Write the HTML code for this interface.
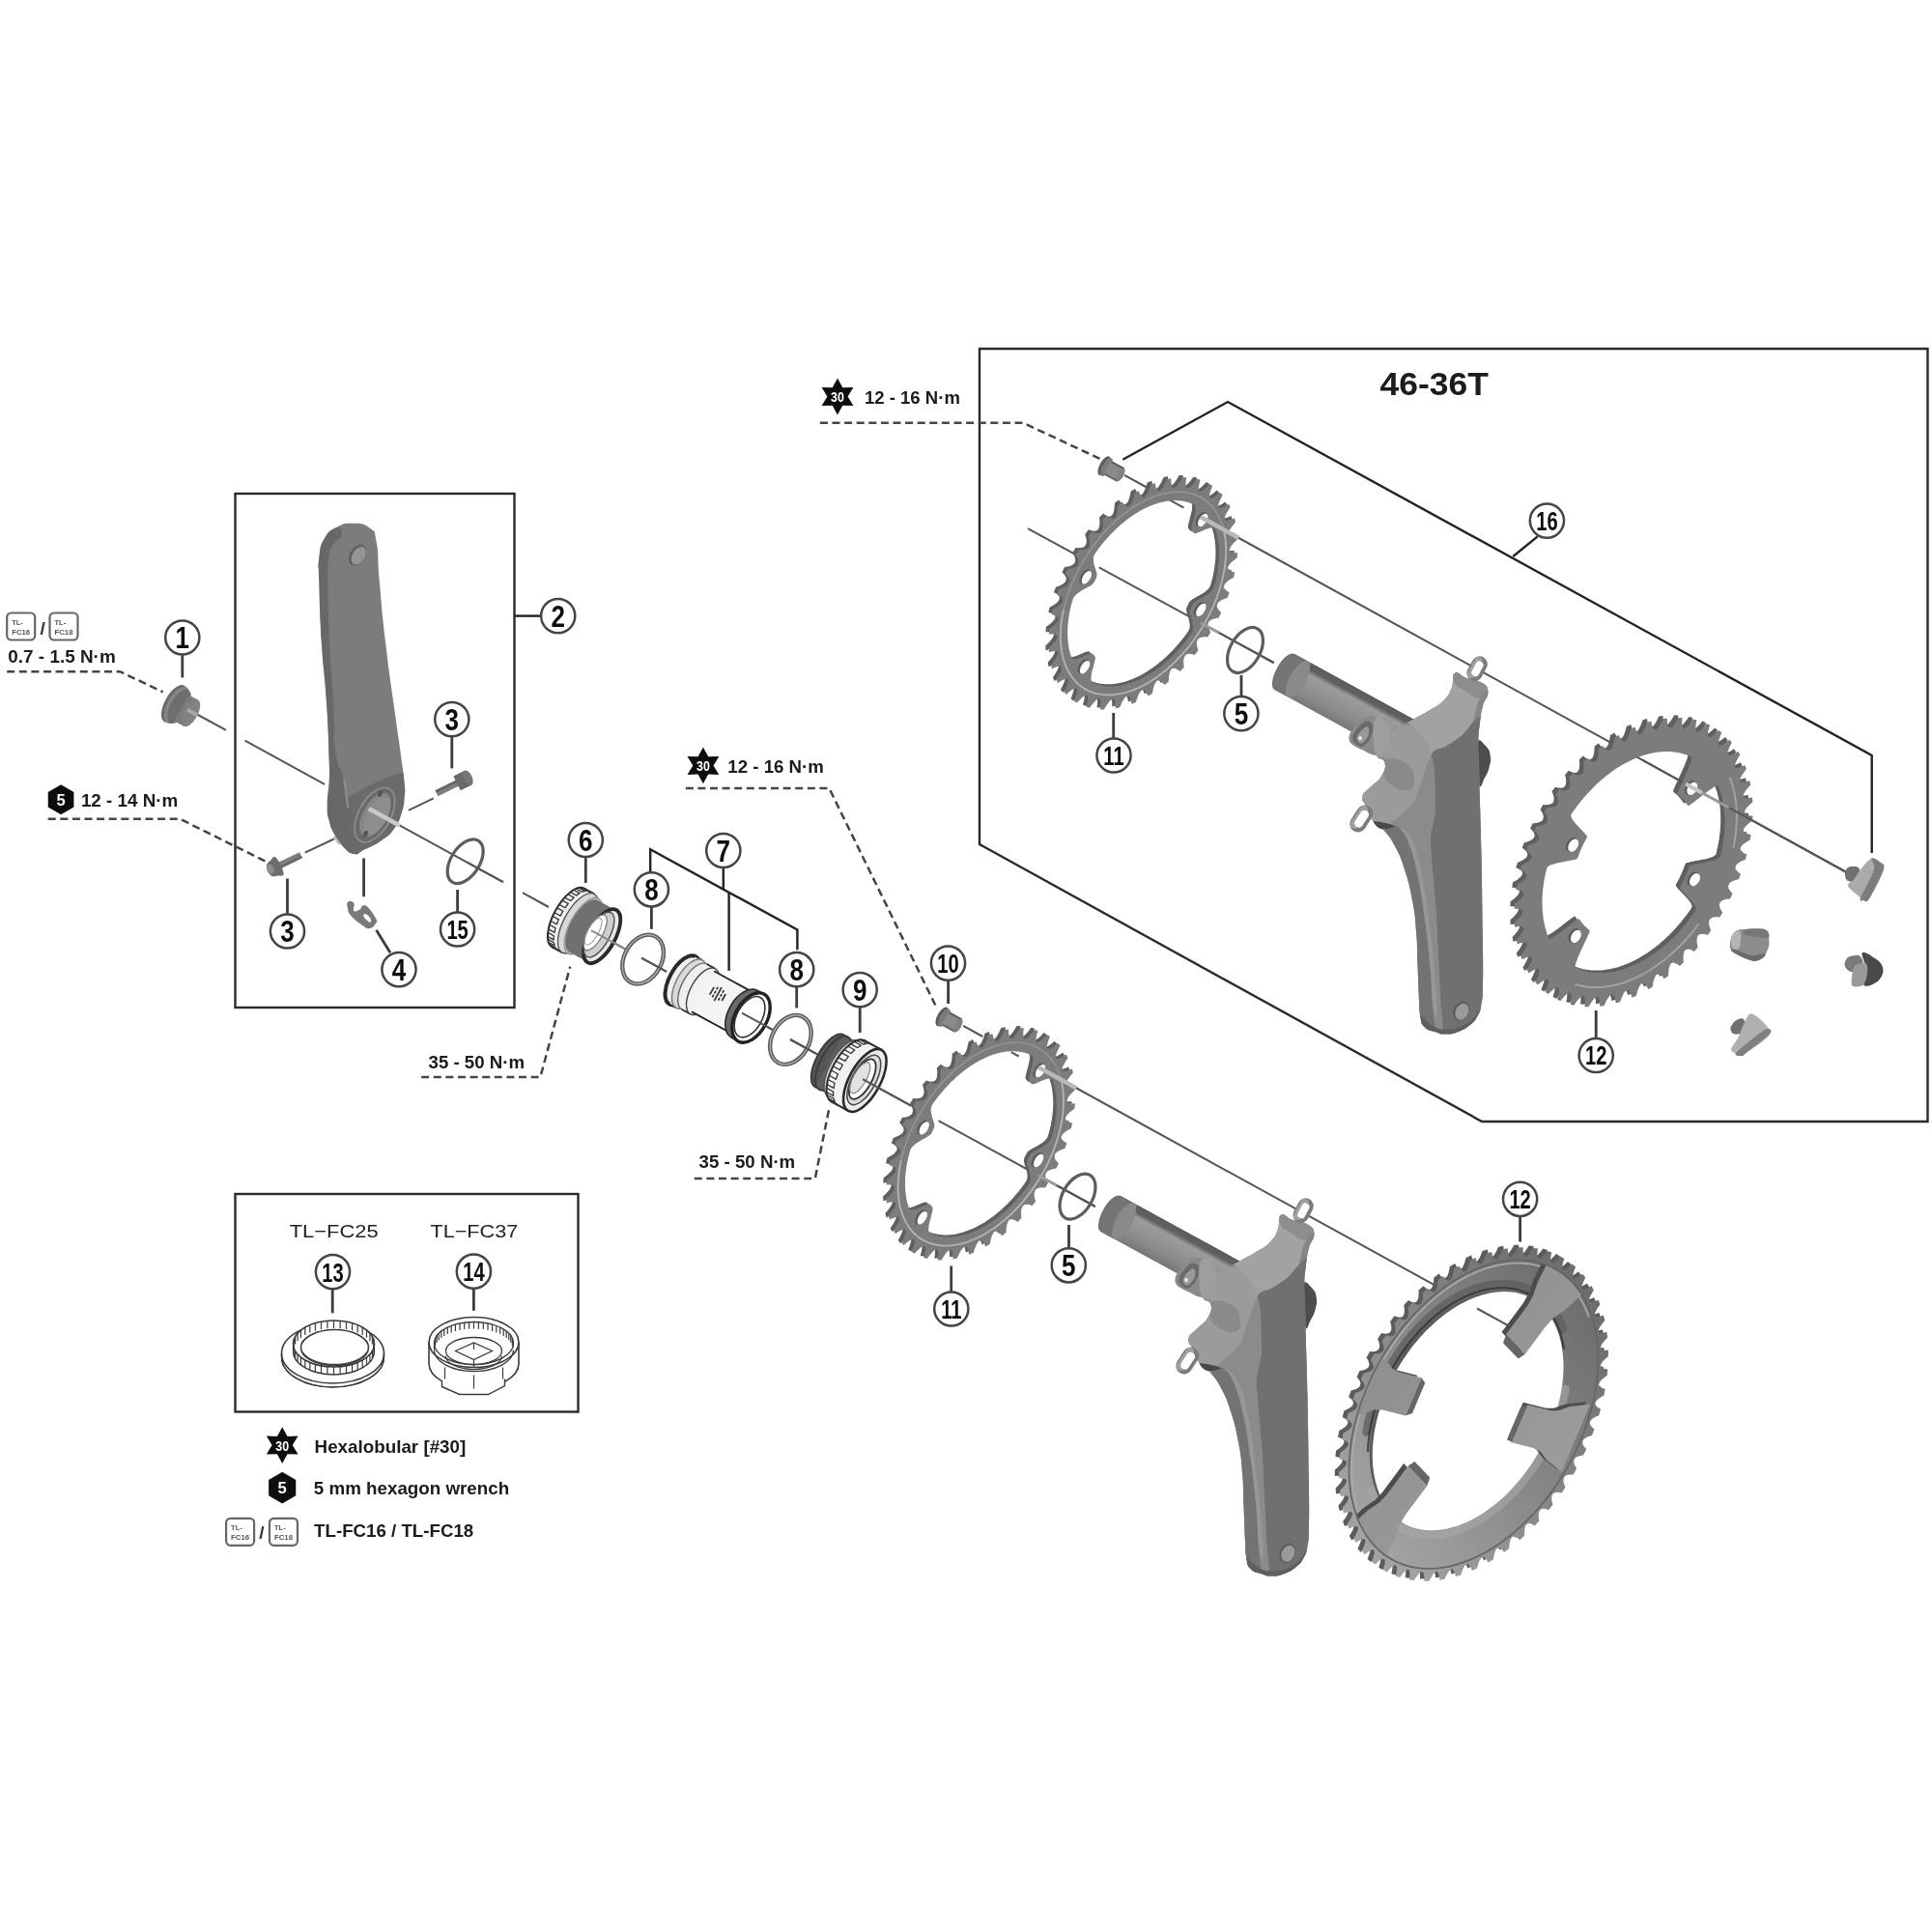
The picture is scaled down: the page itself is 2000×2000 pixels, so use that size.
<!DOCTYPE html>
<html><head><meta charset="utf-8"><title>Crankset exploded view</title>
<style>
html,body{margin:0;padding:0;background:#fff;}
svg{display:block;font-family:"Liberation Sans",sans-serif;}
</style></head><body>
<svg width="2000" height="2000" viewBox="0 0 2000 2000">
<defs><filter id="soft" x="0" y="0" width="2000" height="2000" filterUnits="userSpaceOnUse"><feGaussianBlur stdDeviation="0.75"/></filter></defs>
<rect width="2000" height="2000" fill="#fff"/>
<g filter="url(#soft)">
<rect x="243.5" y="511" width="289" height="532" fill="none" stroke="#2a2a2a" stroke-width="2.4"/>
<rect x="243.5" y="1236" width="355" height="225.5" fill="none" stroke="#2a2a2a" stroke-width="2.4"/>
<polygon points="1014.0,361.0 1995.5,361.0 1995.5,1161.0 1534.0,1161.0 1014.0,874.0" fill="none" stroke="#2a2a2a" stroke-width="2.4" />
<line x1="204.0" y1="739.5" x2="234.0" y2="755.9" stroke="#555" stroke-width="2" />
<line x1="253.6" y1="766.7" x2="336.0" y2="811.8" stroke="#555" stroke-width="2" />
<line x1="413.6" y1="854.4" x2="521.0" y2="913.2" stroke="#555" stroke-width="2" />
<line x1="541.0" y1="924.2" x2="568.0" y2="939.0" stroke="#555" stroke-width="2" />
<line x1="627.0" y1="971.3" x2="648.0" y2="982.8" stroke="#555" stroke-width="2" />
<line x1="664.0" y1="991.6" x2="690.0" y2="1005.8" stroke="#555" stroke-width="2" />
<line x1="776.0" y1="1052.9" x2="800.0" y2="1066.1" stroke="#555" stroke-width="2" />
<line x1="818.0" y1="1076.0" x2="846.0" y2="1091.3" stroke="#555" stroke-width="2" />
<line x1="893.0" y1="1117.1" x2="943.6" y2="1144.8" stroke="#555" stroke-width="2" />
<line x1="971.5" y1="1160.1" x2="1133.8" y2="1249.0" stroke="#555" stroke-width="2" />
<line x1="1064.0" y1="547.1" x2="1116.8" y2="575.9" stroke="#555" stroke-width="2" />
<line x1="1137.7" y1="587.3" x2="1318.6" y2="686.0" stroke="#555" stroke-width="2" />
<line x1="1164.0" y1="491.8" x2="1188.0" y2="505.0" stroke="#555" stroke-width="2" />
<line x1="1210.0" y1="517.1" x2="1225.5" y2="525.6" stroke="#555" stroke-width="2" />
<line x1="1279.8" y1="555.5" x2="1912.4" y2="903.5" stroke="#555" stroke-width="2" />
<line x1="997.1" y1="1061.9" x2="1017.3" y2="1073.0" stroke="#555" stroke-width="2" />
<line x1="1046.8" y1="1089.2" x2="1054.6" y2="1093.5" stroke="#555" stroke-width="2" />
<line x1="1113.6" y1="1126.0" x2="1488.4" y2="1332.2" stroke="#555" stroke-width="2" />
<line x1="1529.0" y1="1354.5" x2="1562.0" y2="1372.7" stroke="#555" stroke-width="2" />
<line x1="315.7" y1="882.6" x2="345.8" y2="868.5" stroke="#555" stroke-width="2" />
<line x1="448.8" y1="826.4" x2="422.9" y2="838.8" stroke="#555" stroke-width="2" />
<polyline points="1162.3,475.7 1271.0,416.0 1937.7,781.9 1937.7,883.0" fill="none" stroke="#222" stroke-width="2.4" />
<line x1="1591.7" y1="555.4" x2="1566.3" y2="576.0" stroke="#222" stroke-width="2.4" />
<polyline points="673.2,903.5 673.2,879.3 825.4,962.5 825.4,983.2" fill="none" stroke="#222" stroke-width="2.4" />
<polyline points="748.8,898.3 748.8,920.7" fill="none" stroke="#222" stroke-width="2.4" />
<polyline points="754.6,923.6 754.6,1004.9" fill="none" stroke="#222" stroke-width="2.4" />
<line x1="532.6" y1="637.6" x2="560.0" y2="637.6" stroke="#222" stroke-width="2.4" />
<polyline points="7.2,695.2 124.2,695.2 168.7,716.4" fill="none" stroke="#444" stroke-width="2.5" stroke-dasharray="8 4.6"/>
<polyline points="49.7,847.8 186.3,847.8 275.4,891.9" fill="none" stroke="#444" stroke-width="2.5" stroke-dasharray="8 4.6"/>
<polyline points="436.2,1114.9 559.4,1114.9 590.2,1000.7" fill="none" stroke="#444" stroke-width="2.5" stroke-dasharray="8 4.6"/>
<polyline points="718.8,1219.9 843.8,1219.9 858.3,1147.5" fill="none" stroke="#444" stroke-width="2.5" stroke-dasharray="8 4.6"/>
<polyline points="709.8,815.9 858.3,815.9 970.0,1044.0" fill="none" stroke="#444" stroke-width="2.5" stroke-dasharray="8 4.6"/>
<polyline points="848.9,437.7 1059.0,437.7 1141.6,476.3" fill="none" stroke="#444" stroke-width="2.5" stroke-dasharray="8 4.6"/>
<line x1="188.8" y1="678.3" x2="188.8" y2="701.4" stroke="#3c3c3c" stroke-width="2.8" />
<line x1="467.8" y1="762.7" x2="467.8" y2="795.4" stroke="#3c3c3c" stroke-width="2.8" />
<line x1="297.5" y1="909.5" x2="297.5" y2="945.8" stroke="#3c3c3c" stroke-width="2.8" />
<line x1="376.6" y1="888.4" x2="376.6" y2="928.3" stroke="#3c3c3c" stroke-width="2.8" />
<line x1="389.5" y1="962.7" x2="404.0" y2="986.2" stroke="#3c3c3c" stroke-width="2.8" />
<line x1="473.6" y1="921.0" x2="473.6" y2="944.6" stroke="#3c3c3c" stroke-width="2.8" />
<line x1="606.3" y1="887.6" x2="606.3" y2="913.9" stroke="#3c3c3c" stroke-width="2.8" />
<line x1="674.4" y1="939.0" x2="674.4" y2="961.8" stroke="#3c3c3c" stroke-width="2.8" />
<line x1="824.7" y1="1021.9" x2="824.7" y2="1043.4" stroke="#3c3c3c" stroke-width="2.8" />
<line x1="890.2" y1="1042.8" x2="890.2" y2="1069.0" stroke="#3c3c3c" stroke-width="2.8" />
<line x1="981.6" y1="1015.2" x2="981.6" y2="1039.0" stroke="#3c3c3c" stroke-width="2.8" />
<line x1="1285.0" y1="699.0" x2="1285.0" y2="720.9" stroke="#3c3c3c" stroke-width="2.8" />
<line x1="1152.7" y1="738.0" x2="1152.7" y2="764.5" stroke="#3c3c3c" stroke-width="2.8" />
<line x1="1106.5" y1="1268.0" x2="1106.5" y2="1292.0" stroke="#3c3c3c" stroke-width="2.8" />
<line x1="984.7" y1="1310.5" x2="984.7" y2="1337.0" stroke="#3c3c3c" stroke-width="2.8" />
<line x1="1573.6" y1="1258.7" x2="1573.6" y2="1285.5" stroke="#3c3c3c" stroke-width="2.8" />
<line x1="344.2" y1="1332.8" x2="344.2" y2="1359.3" stroke="#3c3c3c" stroke-width="2.8" />
<line x1="490.4" y1="1332.0" x2="490.4" y2="1356.8" stroke="#3c3c3c" stroke-width="2.8" />
<line x1="1652.2" y1="1046.0" x2="1652.2" y2="1075.0" stroke="#3c3c3c" stroke-width="2.8" />
<defs><linearGradient id="gArm" x1="0" y1="0" x2="1" y2="0" gradientUnits="objectBoundingBox"><stop offset="0" stop-color="#686868"/><stop offset="0.18" stop-color="#6f6f6f"/><stop offset="0.3" stop-color="#858585"/><stop offset="1" stop-color="#7a7a7a"/></linearGradient><linearGradient id="gAxle" x1="0.3" y1="0" x2="0" y2="1" gradientUnits="objectBoundingBox"><stop offset="0" stop-color="#9a9a9a"/><stop offset="0.55" stop-color="#8a8a8a"/><stop offset="1" stop-color="#6a6a6a"/></linearGradient></defs>
<ellipse rx="10.0" ry="21.5" transform="translate(180.5,728.5) rotate(28.7)" fill="#6a6a6a" stroke="none" stroke-width="1" />
<ellipse rx="9.8" ry="21.0" transform="translate(183.0,729.9) rotate(28.7)" fill="#858585" stroke="none" stroke-width="1" />
<ellipse rx="9.0" ry="19.5" transform="translate(185.5,731.3) rotate(28.7)" fill="#6e6e6e" stroke="none" stroke-width="1" />
<polygon points="180.6,746.6 190.1,751.8 204.9,724.6 195.4,719.4" fill="#7c7c7c" stroke="none" stroke-width="1" />
<ellipse rx="7.2" ry="15.5" transform="translate(197.5,738.2) rotate(28.7)" fill="#828282" stroke="none" stroke-width="1" />
<line x1="194.0" y1="734.8" x2="204.5" y2="740.5" stroke="#a8a8a8" stroke-width="4" />
<clipPath id="cpArm"><path d="M364.9,541.7 C374.0,541.9 375.9,541.3 382.5,546.5 C389.1,551.7 387.0,546.4 389.8,561.4 C392.5,576.4 390.4,575.2 392.9,602.8 C395.3,630.4 395.2,631.8 399.1,664.9 C402.9,698.1 403.2,696.7 407.3,727.0 C411.5,757.4 411.5,756.1 414.6,778.8 C417.6,801.5 417.7,799.9 418.8,812.0 C419.9,824.1 419.5,816.4 418.8,824.0 C418.1,831.6 419.0,831.5 416.1,840.6 C413.2,849.7 413.7,850.1 408.0,858.0 C402.3,865.9 402.8,864.4 394.6,870.2 C386.4,876.0 384.6,875.9 377.1,879.6 C369.6,883.3 372.4,885.2 366.3,884.0 C360.2,882.8 359.6,880.7 354.2,875.2 C348.8,869.7 349.7,870.1 346.1,863.4 C342.5,856.7 342.8,857.9 340.8,850.0 C338.8,842.1 338.7,845.3 338.7,833.8 C338.7,822.3 340.3,818.8 340.8,806.9 C341.3,795.0 341.4,810.4 340.7,789.2 C339.9,767.9 340.1,760.2 338.0,727.0 C335.9,693.9 334.9,698.1 332.8,664.9 C330.8,631.8 331.0,626.0 330.3,602.8 C329.7,579.6 328.8,590.1 330.3,578.0 C331.8,565.8 331.1,565.8 335.9,557.3 C340.7,548.7 340.6,550.0 348.3,545.9 C356.1,541.7 355.8,541.6 364.9,541.7Z"/></clipPath>
<path d="M364.9,541.7 C374.0,541.9 375.9,541.3 382.5,546.5 C389.1,551.7 387.0,546.4 389.8,561.4 C392.5,576.4 390.4,575.2 392.9,602.8 C395.3,630.4 395.2,631.8 399.1,664.9 C402.9,698.1 403.2,696.7 407.3,727.0 C411.5,757.4 411.5,756.1 414.6,778.8 C417.6,801.5 417.7,799.9 418.8,812.0 C419.9,824.1 419.5,816.4 418.8,824.0 C418.1,831.6 419.0,831.5 416.1,840.6 C413.2,849.7 413.7,850.1 408.0,858.0 C402.3,865.9 402.8,864.4 394.6,870.2 C386.4,876.0 384.6,875.9 377.1,879.6 C369.6,883.3 372.4,885.2 366.3,884.0 C360.2,882.8 359.6,880.7 354.2,875.2 C348.8,869.7 349.7,870.1 346.1,863.4 C342.5,856.7 342.8,857.9 340.8,850.0 C338.8,842.1 338.7,845.3 338.7,833.8 C338.7,822.3 340.3,818.8 340.8,806.9 C341.3,795.0 341.4,810.4 340.7,789.2 C339.9,767.9 340.1,760.2 338.0,727.0 C335.9,693.9 334.9,698.1 332.8,664.9 C330.8,631.8 331.0,626.0 330.3,602.8 C329.7,579.6 328.8,590.1 330.3,578.0 C331.8,565.8 331.1,565.8 335.9,557.3 C340.7,548.7 340.6,550.0 348.3,545.9 C356.1,541.7 355.8,541.6 364.9,541.7Z" fill="#7b7b7b" stroke="none" stroke-width="1" />
<g clip-path="url(#cpArm)">
<path d="M348.3,545.9 C343.7,546.7 340.7,548.7 335.9,557.3 C331.1,565.8 331.8,565.8 330.3,578.0 C328.8,590.1 329.7,579.6 330.3,602.8 C331.0,626.0 330.8,631.8 332.8,664.9 C334.9,698.1 335.9,693.9 338.0,727.0 C340.1,760.2 339.9,767.9 340.7,789.2 C341.4,810.4 341.3,795.0 340.8,806.9 C340.3,818.8 338.7,822.3 338.7,833.8 C338.7,845.3 338.8,842.1 340.8,850.0 C342.8,857.9 342.5,856.7 346.1,863.4 C349.7,870.1 348.8,869.7 354.2,875.2 C359.6,880.7 364.1,889.3 366.3,884.0 C368.5,878.7 363.9,868.0 362.3,855.4 C360.7,842.7 361.9,849.4 360.3,836.5 C358.7,823.6 359.7,822.3 356.2,806.9 C352.8,791.5 350.2,800.1 347.3,778.8 C344.4,757.5 346.9,757.4 345.2,727.0 C343.6,696.7 342.6,698.1 341.1,664.9 C339.6,631.8 339.7,625.5 339.4,602.8 C339.2,580.2 338.8,590.3 340.1,580.0 C341.3,569.8 340.6,571.4 344.2,564.5 C347.8,557.6 352.4,559.1 353.5,554.2 C354.6,549.2 353.0,545.1 348.3,545.9Z" fill="#686868" stroke="none" stroke-width="1" />
<path d="M360.3,836.5 C360.3,830.3 351.4,831.7 362.3,824.4 C373.2,817.1 403.5,802.7 414.8,800.2 C426.1,797.7 418.0,807.2 418.8,812.0 C419.6,816.8 419.3,818.3 418.8,824.0 C418.3,829.7 418.3,833.8 416.1,840.6 C413.9,847.4 412.3,852.1 408.0,858.0 C403.7,863.9 400.8,865.9 394.6,870.2 C388.4,874.5 382.8,876.8 377.1,879.6 C371.4,882.4 369.3,888.8 366.3,884.0 C363.3,879.2 363.5,864.9 362.3,855.4 C361.1,845.9 360.3,842.7 360.3,836.5Z" fill="#6b6b6b" stroke="none" stroke-width="1" />
<polyline points="356.2,806.9 360.3,836.5" fill="none" stroke="#8e8e8e" stroke-width="2" />
</g>
<ellipse rx="7.6" ry="11.8" transform="translate(370.0,574.5) rotate(32)" fill="#5f5f5f" stroke="none" stroke-width="1" />
<ellipse rx="6.3" ry="10.2" transform="translate(371.2,575.2) rotate(32)" fill="#959595" stroke="none" stroke-width="1" />
<ellipse rx="16.5" ry="31.0" transform="translate(387.9,843.6) rotate(28.7)" fill="none" stroke="#8f8f8f" stroke-width="1.6" />
<ellipse rx="12.5" ry="25.0" transform="translate(388.4,843.6) rotate(28.7)" fill="#868686" stroke="none" stroke-width="1" />
<ellipse rx="10.5" ry="22.0" transform="translate(390.1,844.6) rotate(28.7)" fill="#8e8e8e" stroke="none" stroke-width="1" />
<ellipse rx="2.2" ry="3.4" transform="translate(393.5,821.5) rotate(28.7)" fill="#555" stroke="none" stroke-width="1" />
<ellipse rx="2.2" ry="3.4" transform="translate(378.5,863.0) rotate(28.7)" fill="#555" stroke="none" stroke-width="1" />
<line x1="381.8" y1="837.0" x2="413.6" y2="854.4" stroke="#c9c9c9" stroke-width="4.6" />
<line x1="346.0" y1="866.0" x2="352.0" y2="874.0" stroke="#b5b5b5" stroke-width="2.5" />
<line x1="287.4" y1="896.9" x2="311.5" y2="885.2" stroke="#7e7e7e" stroke-width="6.8" /><line x1="288.2" y1="898.8" x2="312.4" y2="887.0" stroke="#666" stroke-width="2.38" /><path d="M280.1,905.9 C277.4,903.7 275.9,900.7 275.9,897.1 C275.9,893.6 277.7,892.9 280.0,890.7 C282.3,888.6 282.7,884.9 285.8,887.9 C289.0,890.9 293.1,899.4 293.5,903.7 C294.0,908.1 290.8,906.1 287.7,906.6 C284.6,907.1 282.9,908.1 280.1,905.9Z" fill="#6d6d6d" stroke="none" stroke-width="1" /><ellipse rx="3.5" ry="5.2" transform="translate(279.8,899.5) rotate(-25.9)" fill="#8c8c8c"/>
<line x1="478.8" y1="808.0" x2="452.0" y2="821.2" stroke="#7e7e7e" stroke-width="6.8" /><line x1="477.9" y1="806.2" x2="451.1" y2="819.4" stroke="#666" stroke-width="2.38" /><line x1="484.5" y1="805.2" x2="473.0" y2="810.9" stroke="#6b6b6b" stroke-width="16.6" /><ellipse rx="4.2" ry="8.3" transform="translate(484.5,805.2) rotate(153.8)" fill="#777"/>
<path d="M360.3,933.4 C361.8,932.2 364.9,932.6 366.3,934.8 C367.7,937.0 364.9,941.3 366.3,942.9 C367.7,944.4 370.2,942.8 372.4,941.5 C374.6,940.3 373.7,937.9 375.7,937.5 C377.8,937.0 378.0,936.3 381.1,939.5 C384.3,942.6 387.3,947.2 389.2,950.9 C391.1,954.7 390.6,953.3 389.2,955.6 C387.8,958.0 386.3,960.4 383.1,961.0 C380.0,961.7 380.3,961.3 375.7,958.3 C371.2,955.3 367.3,952.5 363.6,948.2 C359.9,944.0 360.7,943.6 359.9,940.2 C359.1,936.7 358.8,934.7 360.3,933.4Z" fill="#7a7a7a" stroke="none" stroke-width="1" />
<path d="M378.4,946.2 C380.2,946.8 381.8,948.0 383.1,950.3 C384.5,952.5 384.5,954.1 383.6,954.7 C382.7,955.3 381.7,954.3 379.8,952.5 C377.9,950.8 376.8,949.9 376.4,948.2 C376.1,946.6 376.6,945.7 378.4,946.2Z" fill="#fff" stroke="none" stroke-width="1" />
<ellipse rx="14.8" ry="25.4" transform="translate(481.7,891.7) rotate(32.5)" fill="none" stroke="#5c5c5c" stroke-width="3.2" />
<line x1="484.0" y1="892.9" x2="521.0" y2="913.2" stroke="#555" stroke-width="2" />
<ellipse rx="15.0" ry="34.5" transform="translate(588.1,950.0) rotate(28.7)" fill="#f2f2f2" stroke="#2a2a2a" stroke-width="2" />
<polygon points="571.6,980.3 582.1,986.0 615.2,925.5 604.7,919.8" fill="#f2f2f2" stroke="none" stroke-width="1" />
<line x1="604.7" y1="919.8" x2="615.2" y2="925.5" stroke="#2a2a2a" stroke-width="2" />
<line x1="571.6" y1="980.3" x2="582.1" y2="986.0" stroke="#2a2a2a" stroke-width="2" />
<ellipse rx="15.0" ry="34.5" transform="translate(598.6,955.8) rotate(28.7)" fill="#d9d9d9" stroke="#555" stroke-width="1.4" />
<polyline points="570.4,979.5 576.5,982.8 574.9,980.9 568.8,977.5" fill="none" stroke="#333" stroke-width="1.3" /><polyline points="567.9,975.5 574.0,978.8 573.3,975.7 567.2,972.3" fill="none" stroke="#333" stroke-width="1.3" /><polyline points="567.0,969.5 573.1,972.9 573.3,968.8 567.2,965.4" fill="none" stroke="#333" stroke-width="1.3" /><polyline points="567.7,961.9 573.9,965.3 575.0,960.6 568.9,957.3" fill="none" stroke="#333" stroke-width="1.3" /><polyline points="570.1,953.5 576.3,956.8 578.3,951.9 572.1,948.5" fill="none" stroke="#333" stroke-width="1.3" /><polyline points="574.0,944.7 580.1,948.1 582.8,943.3 576.6,939.9" fill="none" stroke="#333" stroke-width="1.3" /><polyline points="578.9,936.4 585.1,939.7 588.2,935.5 582.0,932.1" fill="none" stroke="#333" stroke-width="1.3" /><polyline points="584.6,929.1 590.7,932.5 594.1,929.1 587.9,925.7" fill="none" stroke="#333" stroke-width="1.3" /><polyline points="590.6,923.5 596.7,926.9 600.0,924.6 593.8,921.3" fill="none" stroke="#333" stroke-width="1.3" /><polyline points="596.3,920.0 602.5,923.4 605.4,922.5 599.3,919.1" fill="none" stroke="#333" stroke-width="1.3" /><polyline points="601.4,918.9 607.6,922.3 610.0,922.7 603.9,919.4" fill="none" stroke="#333" stroke-width="1.3" />
<polygon points="583.0,984.3 588.3,987.2 619.5,930.2 614.3,927.3" fill="#c4c4c4" stroke="none" stroke-width="1" />
<ellipse rx="14.0" ry="32.5" transform="translate(603.9,958.7) rotate(28.7)" fill="#bdbdbd" stroke="#8a8a8a" stroke-width="1" />
<polygon points="589.3,985.4 608.6,996.0 637.9,942.5 618.6,931.9" fill="#6f6f6f" stroke="none" stroke-width="1" />
<ellipse rx="13.2" ry="30.5" transform="translate(603.9,958.7) rotate(28.7)" fill="#6f6f6f" stroke="none" stroke-width="1" />
<ellipse rx="13.6" ry="31.0" transform="translate(623.2,969.2) rotate(28.7)" fill="#e9e9e9" stroke="#2b2b2b" stroke-width="3.8" />
<ellipse rx="10.8" ry="26.0" transform="translate(620.2,967.6) rotate(28.7)" fill="#cfcfcf" stroke="#555" stroke-width="1.5" />
<ellipse rx="8.0" ry="20.5" transform="translate(616.2,965.4) rotate(28.7)" fill="#fff" stroke="#777" stroke-width="1.2" />
<ellipse rx="5.5" ry="15.5" transform="translate(614.2,964.3) rotate(28.7)" fill="#fff" stroke="#999" stroke-width="1" />
<line x1="612.0" y1="963.1" x2="648.0" y2="982.8" stroke="#8a8a8a" stroke-width="2" />
<ellipse rx="19.3" ry="27.0" transform="translate(665.6,993.1) rotate(28.7)" fill="none" stroke="#5e5e5e" stroke-width="4.4" /><ellipse rx="19.3" ry="27.0" transform="translate(665.6,993.1) rotate(28.7)" fill="none" stroke="#b5b5b5" stroke-width="1.2" />
<line x1="664.0" y1="991.6" x2="690.0" y2="1005.8" stroke="#555" stroke-width="2" />
<ellipse rx="19.3" ry="27.0" transform="translate(818.4,1076.4) rotate(28.7)" fill="none" stroke="#5e5e5e" stroke-width="4.4" /><ellipse rx="19.3" ry="27.0" transform="translate(818.4,1076.4) rotate(28.7)" fill="none" stroke="#b5b5b5" stroke-width="1.2" />
<line x1="818.0" y1="1076.0" x2="846.0" y2="1091.3" stroke="#555" stroke-width="2" />
<ellipse rx="13.5" ry="28.2" transform="translate(706.5,1014.8) rotate(28.7)" fill="#f0f0f0" stroke="#2a2a2a" stroke-width="4" />
<polygon points="693.0,1039.5 700.0,1043.4 727.1,993.9 720.0,990.1" fill="#ededed" stroke="none" stroke-width="1" />
<line x1="693.0" y1="1039.5" x2="700.0" y2="1043.4" stroke="#222" stroke-width="1.6" />
<line x1="720.0" y1="990.1" x2="727.1" y2="993.9" stroke="#222" stroke-width="1.6" />
<ellipse rx="13.5" ry="28.2" transform="translate(713.5,1018.6) rotate(28.7)" fill="#d9d9d9" stroke="#777" stroke-width="1.4" />
<polygon points="700.6,1042.1 705.9,1045.0 731.7,998.0 726.4,995.1" fill="#dedede" stroke="none" stroke-width="1" />
<ellipse rx="12.8" ry="26.8" transform="translate(718.8,1021.5) rotate(28.7)" fill="#efefef" stroke="#666" stroke-width="1.4" />
<polygon points="705.9,1045.0 714.7,1049.8 740.4,1002.8 731.7,998.0" fill="#f2f2f2" stroke="none" stroke-width="1" />
<line x1="705.9" y1="1045.0" x2="714.7" y2="1049.8" stroke="#222" stroke-width="1.6" />
<line x1="731.7" y1="998.0" x2="740.4" y2="1002.8" stroke="#222" stroke-width="1.6" />
<ellipse rx="12.8" ry="26.8" transform="translate(727.6,1026.3) rotate(28.7)" fill="#f2f2f2" stroke="#444" stroke-width="1.4" />
<polygon points="716.0,1047.4 759.0,1070.7 782.0,1028.6 739.1,1005.3" fill="#f4f4f4" stroke="none" stroke-width="1" />
<line x1="716.0" y1="1047.4" x2="759.0" y2="1070.7" stroke="#222" stroke-width="1.8" />
<line x1="739.1" y1="1005.3" x2="782.0" y2="1028.6" stroke="#222" stroke-width="1.8" />
<line x1="739.1" y1="1021.8" x2="734.8" y2="1029.7" stroke="#333" stroke-width="1.7" />
<line x1="743.2" y1="1021.8" x2="736.9" y2="1033.2" stroke="#333" stroke-width="1.7" stroke-dasharray="3 1.5"/>
<line x1="747.0" y1="1022.1" x2="739.3" y2="1036.2" stroke="#333" stroke-width="1.7" />
<line x1="749.3" y1="1025.1" x2="743.1" y2="1036.5" stroke="#333" stroke-width="1.7" stroke-dasharray="3 1.5"/>
<line x1="751.2" y1="1029.0" x2="747.3" y2="1036.0" stroke="#333" stroke-width="1.7" />
<ellipse rx="16.5" ry="27.8" transform="translate(770.5,1049.7) rotate(28.7)" fill="#6a6a6a" stroke="#222" stroke-width="1.5" />
<polygon points="757.1,1074.0 764.1,1077.9 790.9,1029.1 783.8,1025.3" fill="#6e6e6e" stroke="none" stroke-width="1" />
<line x1="757.1" y1="1074.0" x2="764.1" y2="1077.9" stroke="#222" stroke-width="1.6" />
<line x1="783.8" y1="1025.3" x2="790.9" y2="1029.1" stroke="#222" stroke-width="1.6" />
<ellipse rx="16.5" ry="27.8" transform="translate(777.5,1053.5) rotate(28.7)" fill="#fff" stroke="#222" stroke-width="3.4" />
<ellipse rx="13.0" ry="23.0" transform="translate(776.0,1052.7) rotate(28.7)" fill="#fff" stroke="#333" stroke-width="1.6" />
<line x1="768.0" y1="1048.6" x2="800.0" y2="1066.1" stroke="#555" stroke-width="2" />
<ellipse rx="13.4" ry="31.0" transform="translate(858.5,1098.2) rotate(28.7)" fill="#555" stroke="#333" stroke-width="1.5" />
<polygon points="843.6,1125.4 858.5,1133.6 888.3,1079.2 873.4,1071.0" fill="#616161" stroke="none" stroke-width="1" />
<ellipse rx="13.4" ry="31.0" transform="translate(862.9,1100.6) rotate(28.7)" fill="none" stroke="#3d3d3d" stroke-width="2" />
<ellipse rx="14.3" ry="33.0" transform="translate(873.4,1106.4) rotate(28.7)" fill="#cfcfcf" stroke="#555" stroke-width="1.2" />
<polygon points="857.6,1135.3 861.9,1137.7 893.6,1079.8 889.3,1077.4" fill="#cfcfcf" stroke="none" stroke-width="1" />
<ellipse rx="16.0" ry="36.0" transform="translate(877.8,1108.8) rotate(28.7)" fill="#f2f2f2" stroke="#2a2a2a" stroke-width="2" />
<polygon points="860.5,1140.3 878.1,1149.9 912.6,1086.8 895.1,1077.2" fill="#f2f2f2" stroke="none" stroke-width="1" />
<line x1="860.5" y1="1140.3" x2="878.1" y2="1149.9" stroke="#2a2a2a" stroke-width="2" />
<line x1="895.1" y1="1077.2" x2="912.6" y2="1086.8" stroke="#2a2a2a" stroke-width="2" />
<polyline points="860.5,1140.3 867.5,1144.2 865.4,1142.4 858.4,1138.6" fill="none" stroke="#333" stroke-width="1.3" /><polyline points="857.1,1136.6 864.1,1140.5 863.1,1137.3 856.0,1133.5" fill="none" stroke="#333" stroke-width="1.3" /><polyline points="855.6,1130.5 862.6,1134.4 862.6,1130.1 855.6,1126.3" fill="none" stroke="#333" stroke-width="1.3" /><polyline points="856.0,1122.5 863.0,1126.4 864.1,1121.3 857.1,1117.5" fill="none" stroke="#333" stroke-width="1.3" /><polyline points="858.4,1113.3 865.4,1117.2 867.4,1111.8 860.4,1108.0" fill="none" stroke="#333" stroke-width="1.3" /><polyline points="862.4,1103.7 869.4,1107.6 872.3,1102.3 865.2,1098.5" fill="none" stroke="#333" stroke-width="1.3" /><polyline points="867.7,1094.6 874.8,1098.4 878.2,1093.8 871.2,1089.9" fill="none" stroke="#333" stroke-width="1.3" /><polyline points="874.0,1086.6 881.0,1090.5 884.7,1086.8 877.7,1083.0" fill="none" stroke="#333" stroke-width="1.3" /><polyline points="880.6,1080.6 887.6,1084.5 891.2,1082.2 884.2,1078.3" fill="none" stroke="#333" stroke-width="1.3" /><polyline points="886.9,1077.1 893.9,1081.0 897.2,1080.2 890.1,1076.3" fill="none" stroke="#333" stroke-width="1.3" /><polyline points="892.5,1076.3 899.5,1080.2 902.0,1081.0 895.0,1077.2" fill="none" stroke="#333" stroke-width="1.3" />
<ellipse rx="16.0" ry="36.0" transform="translate(895.3,1118.4) rotate(28.7)" fill="#ececec" stroke="#2a2a2a" stroke-width="2.6" />
<ellipse rx="12.3" ry="28.5" transform="translate(894.3,1117.9) rotate(28.7)" fill="#dcdcdc" stroke="#444" stroke-width="1.5" />
<ellipse rx="9.6" ry="23.0" transform="translate(892.8,1117.1) rotate(28.7)" fill="#fff" stroke="#333" stroke-width="1.8" />
<ellipse rx="6.8" ry="18.0" transform="translate(890.3,1115.7) rotate(28.7)" fill="#e2e2e2" stroke="#888" stroke-width="1.2" />
<line x1="893.0" y1="1117.1" x2="943.6" y2="1144.8" stroke="#555" stroke-width="2" />
<path d="M1250.0,652.3 L1246.8,657.4 Q1231.1,655.3 1237.0,671.3 L1233.3,676.0 Q1219.5,670.1 1222.3,688.6 L1218.2,692.7 Q1206.6,683.2 1206.3,703.6 L1202.0,707.0 Q1193.0,694.1 1189.5,715.7 L1185.1,718.4 Q1179.0,702.5 1172.4,724.8 L1168.0,726.5 Q1165.0,708.2 1155.6,730.4 L1151.3,731.2 Q1151.4,711.0 1139.5,732.4 L1135.5,732.3 Q1138.8,710.7 1124.6,730.7 L1121.0,729.7 Q1127.4,707.5 1111.5,725.5 L1108.4,723.5 Q1117.6,701.4 1100.4,716.8 L1097.9,714.0 Q1109.7,692.5 1091.7,704.9 L1089.9,701.4 Q1103.9,681.2 1085.7,690.3 L1084.6,686.0 Q1100.4,667.9 1082.6,673.2 L1082.3,668.4 Q1099.4,652.8 1082.5,654.3 L1082.9,649.1 Q1100.8,636.5 1085.3,634.1 L1086.5,628.7 Q1104.7,619.5 1091.0,613.3 L1092.9,607.8 Q1110.8,602.2 1099.4,592.4 L1102.0,587.0 Q1119.0,585.2 1110.3,572.1 L1113.5,567.0 Q1129.1,569.1 1123.2,553.0 L1126.9,548.3 Q1140.7,554.3 1138.0,535.7 L1142.0,531.6 Q1153.6,541.2 1153.9,520.8 L1158.3,517.4 Q1167.2,530.3 1170.7,508.6 L1175.2,506.0 Q1181.2,521.9 1187.8,499.6 L1192.2,497.8 Q1195.2,516.2 1204.6,494.0 L1208.9,493.1 Q1208.8,513.4 1220.7,492.0 L1224.7,492.1 Q1221.4,513.6 1235.6,493.6 L1239.2,494.7 Q1232.8,516.9 1248.8,498.9 L1251.9,500.8 Q1242.6,523.0 1259.8,507.6 L1262.3,510.4 Q1250.6,531.8 1268.5,519.4 L1270.3,523.0 Q1256.3,543.1 1274.5,534.1 L1275.6,538.3 Q1259.8,556.5 1277.6,551.2 L1277.9,555.9 Q1260.8,571.6 1277.7,570.1 L1277.3,575.2 Q1259.4,587.9 1274.9,590.3 L1273.7,595.6 Q1255.5,604.9 1269.2,611.1 L1267.3,616.6 Q1249.4,622.2 1260.8,632.0 L1258.2,637.4 Q1241.2,639.1 1250.0,652.3Z M1231.4,644.2 L1231.7,646.5 L1231.7,648.7 L1231.3,650.7 L1230.6,652.5 L1229.6,654.0 L1228.6,655.5 L1227.5,657.0 L1226.4,658.5 L1225.3,659.9 L1224.1,661.4 L1223.0,662.8 L1221.8,664.3 L1220.7,665.7 L1219.5,667.0 L1218.3,668.4 L1217.1,669.8 L1215.9,671.1 L1214.7,672.4 L1213.5,673.7 L1212.2,675.0 L1211.0,676.3 L1209.7,677.5 L1208.4,678.7 L1207.2,679.9 L1205.9,681.1 L1204.6,682.3 L1203.3,683.4 L1202.0,684.5 L1200.6,685.6 L1199.3,686.7 L1198.0,687.7 L1196.7,688.8 L1195.3,689.8 L1194.0,690.7 L1192.6,691.7 L1191.3,692.6 L1189.9,693.5 L1188.6,694.4 L1187.2,695.3 L1185.8,696.1 L1184.5,696.9 L1183.1,697.7 L1181.7,698.4 L1180.4,699.2 L1179.0,699.9 L1177.6,700.6 L1176.3,701.2 L1174.9,701.8 L1173.5,702.4 L1172.2,703.0 L1170.8,703.5 L1169.5,704.0 L1168.1,704.5 L1166.8,705.0 L1165.4,705.4 L1164.1,705.8 L1162.7,706.2 L1161.4,706.5 L1160.1,706.8 L1158.8,707.1 L1157.5,707.3 L1156.2,707.6 L1154.9,707.8 L1153.6,707.9 L1152.3,708.1 L1151.0,708.2 L1149.7,708.3 L1148.5,708.3 L1147.2,708.3 L1146.0,708.3 L1144.8,708.3 L1143.6,708.2 L1142.4,708.1 L1141.2,708.0 L1140.0,707.8 L1138.8,707.7 L1137.7,707.4 L1136.5,707.2 L1135.4,706.9 L1134.3,706.6 L1133.2,706.3 L1132.1,705.9 L1131.0,705.6 L1130.0,705.1 L1128.9,704.7 L1127.9,704.2 L1126.9,703.7 L1126.3,702.5 L1126.0,700.8 L1126.1,698.6 L1126.4,696.1 L1127.0,693.2 L1127.8,690.3 L1128.6,687.3 L1129.3,684.6 L1129.9,682.1 L1130.3,680.0 L1130.4,678.5 L1130.1,677.4 L1129.5,676.7 L1128.9,676.0 L1128.3,675.3 L1127.7,674.6 L1126.9,674.3 L1125.5,674.4 L1123.9,674.9 L1121.8,675.7 L1119.6,676.7 L1117.2,677.7 L1114.8,678.7 L1112.5,679.5 L1110.3,680.1 L1108.5,680.2 L1107.1,679.9 L1106.2,679.2 L1105.7,678.0 L1105.3,676.8 L1104.9,675.5 L1104.5,674.3 L1104.2,673.0 L1103.8,671.7 L1103.5,670.3 L1103.3,669.0 L1103.0,667.6 L1102.8,666.2 L1102.6,664.8 L1102.4,663.4 L1102.2,662.0 L1102.1,660.6 L1102.0,659.1 L1101.9,657.6 L1101.8,656.1 L1101.8,654.6 L1101.8,653.1 L1101.8,651.6 L1101.8,650.1 L1101.9,648.5 L1101.9,647.0 L1102.0,645.4 L1102.2,643.8 L1102.3,642.2 L1102.5,640.6 L1102.7,639.0 L1102.9,637.4 L1103.2,635.8 L1103.4,634.2 L1103.7,632.5 L1104.0,630.9 L1104.4,629.2 L1104.7,627.6 L1105.1,625.9 L1105.5,624.3 L1105.9,622.6 L1106.4,620.9 L1106.9,619.2 L1107.4,617.6 L1108.4,615.9 L1109.9,614.2 L1111.7,612.5 L1113.8,610.9 L1116.2,609.4 L1118.6,608.0 L1121.0,606.7 L1123.3,605.5 L1125.3,604.3 L1127.0,603.1 L1128.3,601.9 L1129.2,600.7 L1129.9,599.4 L1130.5,598.1 L1131.1,596.8 L1131.7,595.5 L1132.1,594.2 L1132.1,592.6 L1131.8,590.9 L1131.3,589.0 L1130.6,586.9 L1129.9,584.7 L1129.3,582.4 L1128.8,580.1 L1128.5,577.9 L1128.5,575.7 L1128.9,573.7 L1129.6,571.9 L1130.6,570.3 L1131.7,568.8 L1132.7,567.4 L1133.8,565.9 L1135.0,564.4 L1136.1,563.0 L1137.2,561.5 L1138.4,560.1 L1139.5,558.7 L1140.7,557.3 L1141.9,556.0 L1143.1,554.6 L1144.3,553.3 L1145.5,551.9 L1146.8,550.6 L1148.0,549.4 L1149.3,548.1 L1150.5,546.9 L1151.8,545.6 L1153.1,544.4 L1154.3,543.3 L1155.6,542.1 L1156.9,541.0 L1158.3,539.8 L1159.6,538.8 L1160.9,537.7 L1162.2,536.6 L1163.6,535.6 L1164.9,534.6 L1166.2,533.6 L1167.6,532.7 L1168.9,531.7 L1170.3,530.8 L1171.7,529.9 L1173.0,529.1 L1174.4,528.3 L1175.7,527.4 L1177.1,526.7 L1178.5,525.9 L1179.8,525.2 L1181.2,524.5 L1182.6,523.8 L1183.9,523.2 L1185.3,522.5 L1186.7,521.9 L1188.0,521.4 L1189.4,520.8 L1190.7,520.3 L1192.1,519.9 L1193.4,519.4 L1194.8,519.0 L1196.1,518.6 L1197.5,518.2 L1198.8,517.9 L1200.1,517.6 L1201.4,517.3 L1202.8,517.0 L1204.1,516.8 L1205.4,516.6 L1206.7,516.4 L1207.9,516.3 L1209.2,516.2 L1210.5,516.1 L1211.7,516.0 L1213.0,516.0 L1214.2,516.0 L1215.4,516.1 L1216.7,516.1 L1217.9,516.2 L1219.0,516.4 L1220.2,516.5 L1221.4,516.7 L1222.6,516.9 L1223.7,517.2 L1224.8,517.4 L1225.9,517.7 L1227.0,518.1 L1228.1,518.4 L1229.2,518.8 L1230.3,519.2 L1231.3,519.7 L1232.3,520.1 L1233.3,520.7 L1233.9,521.8 L1234.2,523.5 L1234.1,525.7 L1233.8,528.3 L1233.2,531.1 L1232.4,534.1 L1231.6,537.0 L1230.9,539.8 L1230.3,542.3 L1229.9,544.3 L1229.8,545.9 L1230.1,547.0 L1230.7,547.6 L1231.3,548.3 L1231.9,549.0 L1232.5,549.7 L1233.4,550.1 L1234.7,550.0 L1236.4,549.5 L1238.4,548.6 L1240.6,547.7 L1243.0,546.6 L1245.4,545.6 L1247.8,544.8 L1249.9,544.3 L1251.7,544.2 L1253.1,544.4 L1254.0,545.2 L1254.5,546.3 L1255.0,547.6 L1255.3,548.8 L1255.7,550.1 L1256.1,551.4 L1256.4,552.7 L1256.7,554.0 L1257.0,555.4 L1257.2,556.7 L1257.4,558.1 L1257.7,559.5 L1257.8,560.9 L1258.0,562.4 L1258.1,563.8 L1258.2,565.3 L1258.3,566.7 L1258.4,568.2 L1258.4,569.7 L1258.5,571.2 L1258.4,572.7 L1258.4,574.3 L1258.4,575.8 L1258.3,577.4 L1258.2,579.0 L1258.1,580.5 L1257.9,582.1 L1257.7,583.7 L1257.5,585.3 L1257.3,587.0 L1257.1,588.6 L1256.8,590.2 L1256.5,591.8 L1256.2,593.5 L1255.9,595.1 L1255.5,596.8 L1255.1,598.4 L1254.7,600.1 L1254.3,601.8 L1253.8,603.4 L1253.3,605.1 L1252.8,606.8 L1251.8,608.5 L1250.3,610.2 L1248.5,611.8 L1246.4,613.4 L1244.0,614.9 L1241.6,616.3 L1239.2,617.6 L1236.9,618.9 L1234.9,620.1 L1233.2,621.2 L1231.9,622.4 L1231.0,623.7 L1230.4,625.0 L1229.7,626.2 L1229.1,627.5 L1228.5,628.8 L1228.1,630.2 L1228.1,631.8 L1228.4,633.5 L1228.9,635.4 L1229.6,637.5 L1230.3,639.7 L1230.9,641.9Z" fill="#5e5e5e" fill-rule="evenodd"/><path d="M1253.3,654.4 L1250.2,659.5 Q1234.5,657.4 1240.4,673.5 L1236.7,678.1 Q1222.9,672.2 1225.7,690.7 L1221.6,694.9 Q1210.0,685.3 1209.7,705.7 L1205.4,709.1 Q1196.4,696.2 1192.9,717.8 L1188.4,720.5 Q1182.4,704.6 1175.8,726.9 L1171.4,728.7 Q1168.4,710.3 1159.0,732.5 L1154.7,733.3 Q1154.8,713.1 1142.9,734.5 L1138.9,734.4 Q1142.2,712.8 1128.0,732.8 L1124.4,731.8 Q1130.8,709.6 1114.9,727.6 L1111.8,725.7 Q1121.0,703.5 1103.8,718.9 L1101.3,716.1 Q1113.1,694.6 1095.1,707.1 L1093.3,703.5 Q1107.3,683.4 1089.1,692.4 L1088.0,688.2 Q1103.8,670.0 1086.0,675.3 L1085.7,670.6 Q1102.8,654.9 1085.9,656.4 L1086.3,651.3 Q1104.2,638.6 1088.7,636.2 L1089.9,630.8 Q1108.1,621.6 1094.4,615.4 L1096.3,609.9 Q1114.2,604.3 1102.8,594.5 L1105.4,589.1 Q1122.4,587.4 1113.7,574.2 L1116.8,569.1 Q1132.5,571.2 1126.6,555.1 L1130.3,550.5 Q1144.1,556.4 1141.3,537.9 L1145.4,533.7 Q1157.0,543.3 1157.3,522.9 L1161.6,519.5 Q1170.6,532.4 1174.1,510.8 L1178.6,508.1 Q1184.6,524.0 1191.2,501.7 L1195.6,499.9 Q1198.6,518.3 1208.0,496.1 L1212.3,495.3 Q1212.2,515.5 1224.1,494.1 L1228.1,494.2 Q1224.8,515.8 1239.0,495.8 L1242.6,496.8 Q1236.2,519.0 1252.1,501.0 L1255.2,502.9 Q1246.0,525.1 1263.2,509.7 L1265.7,512.5 Q1253.9,534.0 1271.9,521.5 L1273.7,525.1 Q1259.7,545.2 1277.9,536.2 L1279.0,540.4 Q1263.2,558.6 1281.0,553.3 L1281.3,558.0 Q1264.2,573.7 1281.1,572.2 L1280.7,577.3 Q1262.8,590.0 1278.3,592.4 L1277.1,597.8 Q1258.9,607.0 1272.6,613.2 L1270.7,618.7 Q1252.8,624.3 1264.2,634.1 L1261.6,639.5 Q1244.6,641.2 1253.3,654.4Z M1234.8,646.4 L1235.1,648.6 L1235.1,650.8 L1234.7,652.8 L1234.0,654.6 L1233.0,656.1 L1231.9,657.6 L1230.9,659.1 L1229.8,660.6 L1228.7,662.1 L1227.5,663.5 L1226.4,665.0 L1225.2,666.4 L1224.1,667.8 L1222.9,669.2 L1221.7,670.5 L1220.5,671.9 L1219.3,673.2 L1218.1,674.5 L1216.9,675.8 L1215.6,677.1 L1214.4,678.4 L1213.1,679.6 L1211.8,680.8 L1210.5,682.0 L1209.3,683.2 L1208.0,684.4 L1206.7,685.5 L1205.4,686.6 L1204.0,687.7 L1202.7,688.8 L1201.4,689.9 L1200.0,690.9 L1198.7,691.9 L1197.4,692.9 L1196.0,693.8 L1194.7,694.7 L1193.3,695.7 L1192.0,696.5 L1190.6,697.4 L1189.2,698.2 L1187.9,699.0 L1186.5,699.8 L1185.1,700.6 L1183.8,701.3 L1182.4,702.0 L1181.0,702.7 L1179.7,703.3 L1178.3,703.9 L1176.9,704.5 L1175.6,705.1 L1174.2,705.6 L1172.9,706.1 L1171.5,706.6 L1170.2,707.1 L1168.8,707.5 L1167.5,707.9 L1166.1,708.3 L1164.8,708.6 L1163.5,708.9 L1162.2,709.2 L1160.8,709.5 L1159.5,709.7 L1158.2,709.9 L1157.0,710.1 L1155.7,710.2 L1154.4,710.3 L1153.1,710.4 L1151.9,710.4 L1150.6,710.5 L1149.4,710.4 L1148.2,710.4 L1147.0,710.3 L1145.8,710.2 L1144.6,710.1 L1143.4,710.0 L1142.2,709.8 L1141.1,709.6 L1139.9,709.3 L1138.8,709.1 L1137.7,708.8 L1136.6,708.4 L1135.5,708.1 L1134.4,707.7 L1133.3,707.3 L1132.3,706.8 L1131.3,706.4 L1130.3,705.8 L1129.7,704.7 L1129.4,703.0 L1129.5,700.8 L1129.8,698.2 L1130.4,695.3 L1131.2,692.4 L1132.0,689.4 L1132.7,686.7 L1133.3,684.2 L1133.7,682.2 L1133.8,680.6 L1133.5,679.5 L1132.9,678.8 L1132.3,678.2 L1131.7,677.5 L1131.1,676.7 L1130.2,676.4 L1128.9,676.5 L1127.3,677.0 L1125.2,677.8 L1123.0,678.8 L1120.6,679.9 L1118.2,680.8 L1115.8,681.7 L1113.7,682.2 L1111.9,682.3 L1110.5,682.0 L1109.6,681.3 L1109.1,680.1 L1108.7,678.9 L1108.3,677.6 L1107.9,676.4 L1107.5,675.1 L1107.2,673.8 L1106.9,672.4 L1106.6,671.1 L1106.4,669.7 L1106.2,668.4 L1106.0,667.0 L1105.8,665.6 L1105.6,664.1 L1105.5,662.7 L1105.4,661.2 L1105.3,659.8 L1105.2,658.3 L1105.2,656.8 L1105.2,655.3 L1105.2,653.7 L1105.2,652.2 L1105.2,650.6 L1105.3,649.1 L1105.4,647.5 L1105.6,645.9 L1105.7,644.4 L1105.9,642.8 L1106.1,641.1 L1106.3,639.5 L1106.5,637.9 L1106.8,636.3 L1107.1,634.6 L1107.4,633.0 L1107.8,631.3 L1108.1,629.7 L1108.5,628.0 L1108.9,626.4 L1109.3,624.7 L1109.8,623.0 L1110.3,621.4 L1110.8,619.7 L1111.8,618.0 L1113.3,616.3 L1115.1,614.6 L1117.2,613.1 L1119.6,611.6 L1122.0,610.1 L1124.4,608.8 L1126.7,607.6 L1128.7,606.4 L1130.4,605.2 L1131.7,604.1 L1132.6,602.8 L1133.2,601.5 L1133.9,600.2 L1134.5,599.0 L1135.1,597.7 L1135.5,596.3 L1135.5,594.7 L1135.2,593.0 L1134.7,591.1 L1134.0,589.0 L1133.3,586.8 L1132.7,584.5 L1132.2,582.2 L1131.9,580.0 L1131.9,577.8 L1132.3,575.8 L1133.0,574.0 L1134.0,572.5 L1135.1,571.0 L1136.1,569.5 L1137.2,568.0 L1138.3,566.5 L1139.5,565.1 L1140.6,563.6 L1141.8,562.2 L1142.9,560.8 L1144.1,559.4 L1145.3,558.1 L1146.5,556.7 L1147.7,555.4 L1148.9,554.1 L1150.1,552.8 L1151.4,551.5 L1152.6,550.2 L1153.9,549.0 L1155.2,547.8 L1156.5,546.6 L1157.7,545.4 L1159.0,544.2 L1160.3,543.1 L1161.6,542.0 L1163.0,540.9 L1164.3,539.8 L1165.6,538.7 L1167.0,537.7 L1168.3,536.7 L1169.6,535.7 L1171.0,534.8 L1172.3,533.9 L1173.7,532.9 L1175.0,532.1 L1176.4,531.2 L1177.8,530.4 L1179.1,529.6 L1180.5,528.8 L1181.9,528.0 L1183.2,527.3 L1184.6,526.6 L1186.0,525.9 L1187.3,525.3 L1188.7,524.7 L1190.1,524.1 L1191.4,523.5 L1192.8,523.0 L1194.1,522.5 L1195.5,522.0 L1196.8,521.5 L1198.2,521.1 L1199.5,520.7 L1200.9,520.3 L1202.2,520.0 L1203.5,519.7 L1204.8,519.4 L1206.2,519.1 L1207.5,518.9 L1208.8,518.7 L1210.0,518.5 L1211.3,518.4 L1212.6,518.3 L1213.9,518.2 L1215.1,518.2 L1216.4,518.1 L1217.6,518.2 L1218.8,518.2 L1220.0,518.3 L1221.2,518.4 L1222.4,518.5 L1223.6,518.6 L1224.8,518.8 L1225.9,519.0 L1227.1,519.3 L1228.2,519.5 L1229.3,519.8 L1230.4,520.2 L1231.5,520.5 L1232.6,520.9 L1233.7,521.3 L1234.7,521.8 L1235.7,522.2 L1236.7,522.8 L1237.3,523.9 L1237.6,525.6 L1237.5,527.8 L1237.2,530.4 L1236.6,533.3 L1235.8,536.2 L1235.0,539.2 L1234.3,541.9 L1233.7,544.4 L1233.3,546.4 L1233.2,548.0 L1233.5,549.1 L1234.1,549.8 L1234.7,550.4 L1235.3,551.1 L1235.9,551.9 L1236.8,552.2 L1238.1,552.1 L1239.7,551.6 L1241.8,550.8 L1244.0,549.8 L1246.4,548.7 L1248.8,547.8 L1251.2,546.9 L1253.3,546.4 L1255.1,546.3 L1256.5,546.6 L1257.4,547.3 L1257.9,548.5 L1258.3,549.7 L1258.7,551.0 L1259.1,552.2 L1259.5,553.5 L1259.8,554.8 L1260.1,556.2 L1260.4,557.5 L1260.6,558.9 L1260.8,560.2 L1261.0,561.6 L1261.2,563.0 L1261.4,564.5 L1261.5,565.9 L1261.6,567.4 L1261.7,568.8 L1261.8,570.3 L1261.8,571.8 L1261.8,573.3 L1261.8,574.9 L1261.8,576.4 L1261.8,578.0 L1261.7,579.5 L1261.6,581.1 L1261.4,582.7 L1261.3,584.2 L1261.1,585.8 L1260.9,587.5 L1260.7,589.1 L1260.5,590.7 L1260.2,592.3 L1259.9,594.0 L1259.6,595.6 L1259.2,597.3 L1258.9,598.9 L1258.5,600.6 L1258.1,602.2 L1257.7,603.9 L1257.2,605.6 L1256.7,607.2 L1256.2,608.9 L1255.2,610.6 L1253.7,612.3 L1251.9,614.0 L1249.8,615.5 L1247.4,617.0 L1245.0,618.5 L1242.6,619.8 L1240.3,621.0 L1238.3,622.2 L1236.6,623.4 L1235.3,624.5 L1234.4,625.8 L1233.8,627.1 L1233.1,628.4 L1232.5,629.6 L1231.9,630.9 L1231.5,632.3 L1231.5,633.9 L1231.8,635.6 L1232.3,637.5 L1233.0,639.6 L1233.7,641.8 L1234.3,644.1Z" fill="#7c7c7c" fill-rule="evenodd"/><ellipse rx="4.3" ry="8.3" transform="translate(1243.4,537.6) rotate(32.0)" fill="#5a5a5a" stroke="none" stroke-width="1" /><ellipse rx="3.9" ry="7.5" transform="translate(1245.2,538.5) rotate(32.0)" fill="#fff" stroke="none" stroke-width="1" /><ellipse rx="4.3" ry="8.3" transform="translate(1241.5,630.5) rotate(32.0)" fill="#5a5a5a" stroke="none" stroke-width="1" /><ellipse rx="3.9" ry="7.5" transform="translate(1243.3,631.4) rotate(32.0)" fill="#fff" stroke="none" stroke-width="1" /><ellipse rx="4.3" ry="8.3" transform="translate(1121.2,689.8) rotate(32.0)" fill="#5a5a5a" stroke="none" stroke-width="1" /><ellipse rx="3.9" ry="7.5" transform="translate(1123.0,690.7) rotate(32.0)" fill="#fff" stroke="none" stroke-width="1" /><ellipse rx="4.3" ry="8.3" transform="translate(1123.1,596.9) rotate(32.0)" fill="#5a5a5a" stroke="none" stroke-width="1" /><ellipse rx="3.9" ry="7.5" transform="translate(1124.9,597.8) rotate(32.0)" fill="#fff" stroke="none" stroke-width="1" /><path d="M1266.6,547.8 L1267.7,552.9 L1268.5,558.2 L1269.0,563.8 L1269.2,569.5 L1269.0,575.4 L1268.6,581.4 L1267.8,587.6 L1266.7,593.9 L1265.3,600.2 L1263.6,606.6 L1261.6,613.0 L1259.3,619.4 L1256.7,625.8 L1253.9,632.2 L1250.7,638.5 L1247.4,644.7 L1243.8,650.8 L1239.9,656.7 L1235.9,662.5 L1231.7,668.1 L1227.2,673.5 L1222.7,678.7 L1217.9,683.7 L1213.1,688.4 L1208.1,692.8 L1203.1,696.9 L1197.9,700.8 L1192.7,704.2 L1187.5,707.4 L1182.3,710.2 L1177.1,712.7 L1171.9,714.8 L1166.7,716.5 L1161.6,717.8 L1156.6,718.7 L1151.7,719.3 L1146.9,719.5 L1142.2,719.2 L1137.7,718.6 L1133.4,717.6 L1129.2,716.2 L1125.3,714.4 L1121.5,712.3 L1118.0,709.8 L1114.8,706.9 L1111.8,703.7 L1109.1,700.1 L1106.6,696.3 L1104.4,692.1 L1102.6,687.6 L1101.0,682.9 L1099.7,677.9 L1098.8,672.7 L1098.2,667.2 L1097.8,661.6 L1097.9,655.7 L1098.2,649.8 L1098.8,643.7 L1099.8,637.4 L1101.0,631.1" fill="none" stroke="#b4b4b4" stroke-width="1.8"/><path d="M1101.0,631.1 L1102.1,626.6 L1103.4,622.0 L1104.8,617.4 L1106.4,612.9 L1108.1,608.3 L1109.9,603.7 L1111.9,599.1 L1114.0,594.6 L1116.3,590.1 L1118.6,585.7 L1121.1,581.3 L1123.8,577.0 L1126.5,572.7 L1129.3,568.5 L1132.3,564.5 L1135.3,560.5 L1138.5,556.6 L1141.7,552.8 L1145.0,549.1 L1148.4,545.6 L1151.8,542.2 L1155.3,538.9 L1158.9,535.8 L1162.5,532.8 L1166.1,530.0 L1169.8,527.3 L1173.5,524.8 L1177.2,522.5 L1181.0,520.4 L1184.7,518.4 L1188.4,516.6 L1192.2,515.0 L1195.9,513.6 L1199.6,512.4 L1203.2,511.3 L1206.8,510.5 L1210.4,509.9 L1213.9,509.4 L1217.4,509.2 L1220.8,509.1 L1224.1,509.3 L1227.4,509.7 L1230.6,510.2 L1233.6,511.0 L1236.6,511.9 L1239.5,513.1 L1242.3,514.4 L1244.9,516.0 L1247.5,517.7 L1249.9,519.6 L1252.2,521.7 L1254.4,524.0 L1256.4,526.4 L1258.3,529.0 L1260.1,531.8 L1261.7,534.7 L1263.1,537.7 L1264.4,541.0 L1265.6,544.3 L1266.6,547.8" fill="none" stroke="#959595" stroke-width="1.5"/>
<path d="M1081.8,1222.4 L1078.6,1227.5 Q1062.9,1225.4 1068.8,1241.4 L1065.1,1246.1 Q1051.3,1240.2 1054.1,1258.7 L1050.0,1262.8 Q1038.4,1253.3 1038.1,1273.7 L1033.8,1277.1 Q1024.8,1264.2 1021.3,1285.8 L1016.9,1288.5 Q1010.8,1272.6 1004.2,1294.9 L999.8,1296.6 Q996.8,1278.3 987.4,1300.5 L983.1,1301.3 Q983.2,1281.1 971.3,1302.5 L967.3,1302.4 Q970.6,1280.8 956.4,1300.8 L952.8,1299.8 Q959.2,1277.6 943.3,1295.6 L940.2,1293.6 Q949.4,1271.5 932.2,1286.9 L929.7,1284.1 Q941.5,1262.6 923.5,1275.0 L921.7,1271.5 Q935.7,1251.3 917.5,1260.4 L916.4,1256.1 Q932.2,1238.0 914.4,1243.3 L914.1,1238.5 Q931.2,1222.9 914.3,1224.4 L914.7,1219.2 Q932.6,1206.6 917.1,1204.2 L918.3,1198.8 Q936.5,1189.6 922.8,1183.4 L924.7,1177.9 Q942.6,1172.3 931.2,1162.5 L933.8,1157.1 Q950.8,1155.3 942.1,1142.2 L945.3,1137.1 Q960.9,1139.2 955.0,1123.1 L958.7,1118.4 Q972.5,1124.4 969.8,1105.8 L973.8,1101.7 Q985.4,1111.3 985.7,1090.9 L990.1,1087.5 Q999.0,1100.4 1002.5,1078.7 L1007.0,1076.1 Q1013.0,1092.0 1019.6,1069.7 L1024.0,1067.9 Q1027.0,1086.3 1036.4,1064.1 L1040.7,1063.2 Q1040.6,1083.5 1052.5,1062.1 L1056.5,1062.2 Q1053.2,1083.7 1067.4,1063.7 L1071.0,1064.8 Q1064.6,1087.0 1080.6,1069.0 L1083.7,1070.9 Q1074.4,1093.1 1091.6,1077.7 L1094.1,1080.5 Q1082.4,1101.9 1100.3,1089.5 L1102.1,1093.1 Q1088.1,1113.2 1106.3,1104.2 L1107.4,1108.4 Q1091.6,1126.6 1109.4,1121.3 L1109.7,1126.0 Q1092.6,1141.7 1109.5,1140.2 L1109.1,1145.3 Q1091.2,1158.0 1106.7,1160.4 L1105.5,1165.7 Q1087.3,1175.0 1101.0,1181.2 L1099.1,1186.7 Q1081.2,1192.3 1092.6,1202.1 L1090.0,1207.5 Q1073.0,1209.2 1081.8,1222.4Z M1063.2,1214.3 L1063.5,1216.6 L1063.5,1218.8 L1063.1,1220.8 L1062.4,1222.6 L1061.4,1224.1 L1060.4,1225.6 L1059.3,1227.1 L1058.2,1228.6 L1057.1,1230.0 L1055.9,1231.5 L1054.8,1232.9 L1053.6,1234.4 L1052.5,1235.8 L1051.3,1237.1 L1050.1,1238.5 L1048.9,1239.9 L1047.7,1241.2 L1046.5,1242.5 L1045.3,1243.8 L1044.0,1245.1 L1042.8,1246.4 L1041.5,1247.6 L1040.2,1248.8 L1039.0,1250.0 L1037.7,1251.2 L1036.4,1252.4 L1035.1,1253.5 L1033.8,1254.6 L1032.4,1255.7 L1031.1,1256.8 L1029.8,1257.8 L1028.5,1258.9 L1027.1,1259.9 L1025.8,1260.8 L1024.4,1261.8 L1023.1,1262.7 L1021.7,1263.6 L1020.4,1264.5 L1019.0,1265.4 L1017.6,1266.2 L1016.3,1267.0 L1014.9,1267.8 L1013.5,1268.5 L1012.2,1269.3 L1010.8,1270.0 L1009.4,1270.7 L1008.1,1271.3 L1006.7,1271.9 L1005.3,1272.5 L1004.0,1273.1 L1002.6,1273.6 L1001.3,1274.1 L999.9,1274.6 L998.6,1275.1 L997.2,1275.5 L995.9,1275.9 L994.5,1276.3 L993.2,1276.6 L991.9,1276.9 L990.6,1277.2 L989.3,1277.4 L988.0,1277.7 L986.7,1277.9 L985.4,1278.0 L984.1,1278.2 L982.8,1278.3 L981.5,1278.4 L980.3,1278.4 L979.0,1278.4 L977.8,1278.4 L976.6,1278.4 L975.4,1278.3 L974.2,1278.2 L973.0,1278.1 L971.8,1277.9 L970.6,1277.8 L969.5,1277.5 L968.3,1277.3 L967.2,1277.0 L966.1,1276.7 L965.0,1276.4 L963.9,1276.0 L962.8,1275.7 L961.8,1275.2 L960.7,1274.8 L959.7,1274.3 L958.7,1273.8 L958.1,1272.6 L957.8,1270.9 L957.9,1268.7 L958.2,1266.2 L958.8,1263.3 L959.6,1260.4 L960.4,1257.4 L961.1,1254.7 L961.7,1252.2 L962.1,1250.1 L962.2,1248.6 L961.9,1247.5 L961.3,1246.8 L960.7,1246.1 L960.1,1245.4 L959.5,1244.7 L958.7,1244.4 L957.3,1244.5 L955.7,1245.0 L953.6,1245.8 L951.4,1246.8 L949.0,1247.8 L946.6,1248.8 L944.3,1249.6 L942.1,1250.2 L940.3,1250.3 L938.9,1250.0 L938.0,1249.3 L937.5,1248.1 L937.1,1246.9 L936.7,1245.6 L936.3,1244.4 L936.0,1243.1 L935.6,1241.8 L935.3,1240.4 L935.1,1239.1 L934.8,1237.7 L934.6,1236.3 L934.4,1234.9 L934.2,1233.5 L934.0,1232.1 L933.9,1230.7 L933.8,1229.2 L933.7,1227.7 L933.6,1226.2 L933.6,1224.7 L933.6,1223.2 L933.6,1221.7 L933.6,1220.2 L933.7,1218.6 L933.7,1217.1 L933.8,1215.5 L934.0,1213.9 L934.1,1212.3 L934.3,1210.7 L934.5,1209.1 L934.7,1207.5 L935.0,1205.9 L935.2,1204.3 L935.5,1202.6 L935.8,1201.0 L936.2,1199.3 L936.5,1197.7 L936.9,1196.0 L937.3,1194.4 L937.7,1192.7 L938.2,1191.0 L938.7,1189.3 L939.2,1187.7 L940.2,1186.0 L941.7,1184.3 L943.5,1182.6 L945.6,1181.0 L948.0,1179.5 L950.4,1178.1 L952.8,1176.8 L955.1,1175.6 L957.1,1174.4 L958.8,1173.2 L960.1,1172.0 L961.0,1170.8 L961.7,1169.5 L962.3,1168.2 L962.9,1166.9 L963.5,1165.6 L963.9,1164.3 L963.9,1162.7 L963.6,1161.0 L963.1,1159.1 L962.4,1157.0 L961.7,1154.8 L961.1,1152.5 L960.6,1150.2 L960.3,1148.0 L960.3,1145.8 L960.7,1143.8 L961.4,1142.0 L962.4,1140.4 L963.5,1138.9 L964.5,1137.5 L965.6,1136.0 L966.8,1134.5 L967.9,1133.1 L969.0,1131.6 L970.2,1130.2 L971.3,1128.8 L972.5,1127.4 L973.7,1126.1 L974.9,1124.7 L976.1,1123.4 L977.3,1122.0 L978.6,1120.7 L979.8,1119.5 L981.1,1118.2 L982.3,1117.0 L983.6,1115.7 L984.9,1114.5 L986.1,1113.4 L987.4,1112.2 L988.7,1111.1 L990.1,1109.9 L991.4,1108.9 L992.7,1107.8 L994.0,1106.7 L995.4,1105.7 L996.7,1104.7 L998.0,1103.7 L999.4,1102.8 L1000.7,1101.8 L1002.1,1100.9 L1003.5,1100.0 L1004.8,1099.2 L1006.2,1098.4 L1007.5,1097.5 L1008.9,1096.8 L1010.3,1096.0 L1011.6,1095.3 L1013.0,1094.6 L1014.4,1093.9 L1015.7,1093.3 L1017.1,1092.6 L1018.5,1092.0 L1019.8,1091.5 L1021.2,1090.9 L1022.5,1090.4 L1023.9,1090.0 L1025.2,1089.5 L1026.6,1089.1 L1027.9,1088.7 L1029.3,1088.3 L1030.6,1088.0 L1031.9,1087.7 L1033.2,1087.4 L1034.6,1087.1 L1035.9,1086.9 L1037.2,1086.7 L1038.5,1086.5 L1039.7,1086.4 L1041.0,1086.3 L1042.3,1086.2 L1043.5,1086.1 L1044.8,1086.1 L1046.0,1086.1 L1047.2,1086.2 L1048.5,1086.2 L1049.7,1086.3 L1050.8,1086.5 L1052.0,1086.6 L1053.2,1086.8 L1054.4,1087.0 L1055.5,1087.3 L1056.6,1087.5 L1057.7,1087.8 L1058.8,1088.2 L1059.9,1088.5 L1061.0,1088.9 L1062.1,1089.3 L1063.1,1089.8 L1064.1,1090.2 L1065.1,1090.8 L1065.7,1091.9 L1066.0,1093.6 L1065.9,1095.8 L1065.6,1098.4 L1065.0,1101.2 L1064.2,1104.2 L1063.4,1107.1 L1062.7,1109.9 L1062.1,1112.4 L1061.7,1114.4 L1061.6,1116.0 L1061.9,1117.1 L1062.5,1117.7 L1063.1,1118.4 L1063.7,1119.1 L1064.3,1119.8 L1065.2,1120.2 L1066.5,1120.1 L1068.2,1119.6 L1070.2,1118.7 L1072.4,1117.8 L1074.8,1116.7 L1077.2,1115.7 L1079.6,1114.9 L1081.7,1114.4 L1083.5,1114.3 L1084.9,1114.5 L1085.8,1115.3 L1086.3,1116.4 L1086.8,1117.7 L1087.1,1118.9 L1087.5,1120.2 L1087.9,1121.5 L1088.2,1122.8 L1088.5,1124.1 L1088.8,1125.5 L1089.0,1126.8 L1089.2,1128.2 L1089.5,1129.6 L1089.6,1131.0 L1089.8,1132.5 L1089.9,1133.9 L1090.0,1135.4 L1090.1,1136.8 L1090.2,1138.3 L1090.2,1139.8 L1090.3,1141.3 L1090.2,1142.8 L1090.2,1144.4 L1090.2,1145.9 L1090.1,1147.5 L1090.0,1149.1 L1089.9,1150.6 L1089.7,1152.2 L1089.5,1153.8 L1089.3,1155.4 L1089.1,1157.1 L1088.9,1158.7 L1088.6,1160.3 L1088.3,1161.9 L1088.0,1163.6 L1087.7,1165.2 L1087.3,1166.9 L1086.9,1168.5 L1086.5,1170.2 L1086.1,1171.9 L1085.6,1173.5 L1085.1,1175.2 L1084.6,1176.9 L1083.6,1178.6 L1082.1,1180.3 L1080.3,1181.9 L1078.2,1183.5 L1075.8,1185.0 L1073.4,1186.4 L1071.0,1187.7 L1068.7,1189.0 L1066.7,1190.2 L1065.0,1191.3 L1063.7,1192.5 L1062.8,1193.8 L1062.2,1195.1 L1061.5,1196.3 L1060.9,1197.6 L1060.3,1198.9 L1059.9,1200.3 L1059.9,1201.9 L1060.2,1203.6 L1060.7,1205.5 L1061.4,1207.6 L1062.1,1209.8 L1062.7,1212.0Z" fill="#5e5e5e" fill-rule="evenodd"/><path d="M1085.1,1224.5 L1082.0,1229.6 Q1066.3,1227.5 1072.2,1243.6 L1068.5,1248.2 Q1054.7,1242.3 1057.5,1260.8 L1053.4,1265.0 Q1041.8,1255.4 1041.5,1275.8 L1037.2,1279.2 Q1028.2,1266.3 1024.7,1287.9 L1020.2,1290.6 Q1014.2,1274.7 1007.6,1297.0 L1003.2,1298.8 Q1000.2,1280.4 990.8,1302.6 L986.5,1303.4 Q986.6,1283.2 974.7,1304.6 L970.7,1304.5 Q974.0,1282.9 959.8,1302.9 L956.2,1301.9 Q962.6,1279.7 946.7,1297.7 L943.6,1295.8 Q952.8,1273.6 935.6,1289.0 L933.1,1286.2 Q944.9,1264.7 926.9,1277.2 L925.1,1273.6 Q939.1,1253.5 920.9,1262.5 L919.8,1258.3 Q935.6,1240.1 917.8,1245.4 L917.5,1240.7 Q934.6,1225.0 917.7,1226.5 L918.1,1221.4 Q936.0,1208.7 920.5,1206.3 L921.7,1200.9 Q939.9,1191.7 926.2,1185.5 L928.1,1180.0 Q946.0,1174.4 934.6,1164.6 L937.2,1159.2 Q954.2,1157.5 945.5,1144.3 L948.6,1139.2 Q964.3,1141.3 958.4,1125.2 L962.1,1120.6 Q975.9,1126.5 973.1,1108.0 L977.2,1103.8 Q988.8,1113.4 989.1,1093.0 L993.4,1089.6 Q1002.4,1102.5 1005.9,1080.9 L1010.4,1078.2 Q1016.4,1094.1 1023.0,1071.8 L1027.4,1070.0 Q1030.4,1088.4 1039.8,1066.2 L1044.1,1065.4 Q1044.0,1085.6 1055.9,1064.2 L1059.9,1064.3 Q1056.6,1085.9 1070.8,1065.9 L1074.4,1066.9 Q1068.0,1089.1 1083.9,1071.1 L1087.0,1073.0 Q1077.8,1095.2 1095.0,1079.8 L1097.5,1082.6 Q1085.7,1104.1 1103.7,1091.6 L1105.5,1095.2 Q1091.5,1115.3 1109.7,1106.3 L1110.8,1110.5 Q1095.0,1128.7 1112.8,1123.4 L1113.1,1128.1 Q1096.0,1143.8 1112.9,1142.3 L1112.5,1147.4 Q1094.6,1160.1 1110.1,1162.5 L1108.9,1167.9 Q1090.7,1177.1 1104.4,1183.3 L1102.5,1188.8 Q1084.6,1194.4 1096.0,1204.2 L1093.4,1209.6 Q1076.4,1211.3 1085.1,1224.5Z M1066.6,1216.5 L1066.9,1218.7 L1066.9,1220.9 L1066.5,1222.9 L1065.8,1224.7 L1064.8,1226.2 L1063.7,1227.7 L1062.7,1229.2 L1061.6,1230.7 L1060.5,1232.2 L1059.3,1233.6 L1058.2,1235.1 L1057.0,1236.5 L1055.9,1237.9 L1054.7,1239.3 L1053.5,1240.6 L1052.3,1242.0 L1051.1,1243.3 L1049.9,1244.6 L1048.7,1245.9 L1047.4,1247.2 L1046.2,1248.5 L1044.9,1249.7 L1043.6,1250.9 L1042.3,1252.1 L1041.1,1253.3 L1039.8,1254.5 L1038.5,1255.6 L1037.2,1256.7 L1035.8,1257.8 L1034.5,1258.9 L1033.2,1260.0 L1031.8,1261.0 L1030.5,1262.0 L1029.2,1263.0 L1027.8,1263.9 L1026.5,1264.8 L1025.1,1265.8 L1023.8,1266.6 L1022.4,1267.5 L1021.0,1268.3 L1019.7,1269.1 L1018.3,1269.9 L1016.9,1270.7 L1015.6,1271.4 L1014.2,1272.1 L1012.8,1272.8 L1011.5,1273.4 L1010.1,1274.0 L1008.7,1274.6 L1007.4,1275.2 L1006.0,1275.7 L1004.7,1276.2 L1003.3,1276.7 L1002.0,1277.2 L1000.6,1277.6 L999.3,1278.0 L997.9,1278.4 L996.6,1278.7 L995.3,1279.0 L994.0,1279.3 L992.6,1279.6 L991.3,1279.8 L990.0,1280.0 L988.8,1280.2 L987.5,1280.3 L986.2,1280.4 L984.9,1280.5 L983.7,1280.5 L982.4,1280.6 L981.2,1280.5 L980.0,1280.5 L978.8,1280.4 L977.6,1280.3 L976.4,1280.2 L975.2,1280.1 L974.0,1279.9 L972.9,1279.7 L971.7,1279.4 L970.6,1279.2 L969.5,1278.9 L968.4,1278.5 L967.3,1278.2 L966.2,1277.8 L965.1,1277.4 L964.1,1276.9 L963.1,1276.5 L962.1,1275.9 L961.5,1274.8 L961.2,1273.1 L961.3,1270.9 L961.6,1268.3 L962.2,1265.4 L963.0,1262.5 L963.8,1259.5 L964.5,1256.8 L965.1,1254.3 L965.5,1252.3 L965.6,1250.7 L965.3,1249.6 L964.7,1248.9 L964.1,1248.3 L963.5,1247.6 L962.9,1246.8 L962.0,1246.5 L960.7,1246.6 L959.1,1247.1 L957.0,1247.9 L954.8,1248.9 L952.4,1250.0 L950.0,1250.9 L947.6,1251.8 L945.5,1252.3 L943.7,1252.4 L942.3,1252.1 L941.4,1251.4 L940.9,1250.2 L940.5,1249.0 L940.1,1247.7 L939.7,1246.5 L939.3,1245.2 L939.0,1243.9 L938.7,1242.5 L938.4,1241.2 L938.2,1239.8 L938.0,1238.5 L937.8,1237.1 L937.6,1235.7 L937.4,1234.2 L937.3,1232.8 L937.2,1231.3 L937.1,1229.9 L937.0,1228.4 L937.0,1226.9 L937.0,1225.4 L937.0,1223.8 L937.0,1222.3 L937.0,1220.7 L937.1,1219.2 L937.2,1217.6 L937.4,1216.0 L937.5,1214.5 L937.7,1212.9 L937.9,1211.2 L938.1,1209.6 L938.3,1208.0 L938.6,1206.4 L938.9,1204.7 L939.2,1203.1 L939.6,1201.4 L939.9,1199.8 L940.3,1198.1 L940.7,1196.5 L941.1,1194.8 L941.6,1193.1 L942.1,1191.5 L942.6,1189.8 L943.6,1188.1 L945.1,1186.4 L946.9,1184.7 L949.0,1183.2 L951.4,1181.7 L953.8,1180.2 L956.2,1178.9 L958.5,1177.7 L960.5,1176.5 L962.2,1175.3 L963.5,1174.2 L964.4,1172.9 L965.0,1171.6 L965.7,1170.3 L966.3,1169.1 L966.9,1167.8 L967.3,1166.4 L967.3,1164.8 L967.0,1163.1 L966.5,1161.2 L965.8,1159.1 L965.1,1156.9 L964.5,1154.6 L964.0,1152.3 L963.7,1150.1 L963.7,1147.9 L964.1,1145.9 L964.8,1144.1 L965.8,1142.6 L966.9,1141.1 L967.9,1139.6 L969.0,1138.1 L970.1,1136.6 L971.3,1135.2 L972.4,1133.7 L973.6,1132.3 L974.7,1130.9 L975.9,1129.5 L977.1,1128.2 L978.3,1126.8 L979.5,1125.5 L980.7,1124.2 L981.9,1122.9 L983.2,1121.6 L984.4,1120.3 L985.7,1119.1 L987.0,1117.9 L988.3,1116.7 L989.5,1115.5 L990.8,1114.3 L992.1,1113.2 L993.4,1112.1 L994.8,1111.0 L996.1,1109.9 L997.4,1108.8 L998.8,1107.8 L1000.1,1106.8 L1001.4,1105.8 L1002.8,1104.9 L1004.1,1104.0 L1005.5,1103.0 L1006.8,1102.2 L1008.2,1101.3 L1009.6,1100.5 L1010.9,1099.7 L1012.3,1098.9 L1013.7,1098.1 L1015.0,1097.4 L1016.4,1096.7 L1017.8,1096.0 L1019.1,1095.4 L1020.5,1094.8 L1021.9,1094.2 L1023.2,1093.6 L1024.6,1093.1 L1025.9,1092.6 L1027.3,1092.1 L1028.6,1091.6 L1030.0,1091.2 L1031.3,1090.8 L1032.7,1090.4 L1034.0,1090.1 L1035.3,1089.8 L1036.6,1089.5 L1038.0,1089.2 L1039.3,1089.0 L1040.6,1088.8 L1041.8,1088.6 L1043.1,1088.5 L1044.4,1088.4 L1045.7,1088.3 L1046.9,1088.3 L1048.2,1088.2 L1049.4,1088.3 L1050.6,1088.3 L1051.8,1088.4 L1053.0,1088.5 L1054.2,1088.6 L1055.4,1088.7 L1056.6,1088.9 L1057.7,1089.1 L1058.9,1089.4 L1060.0,1089.6 L1061.1,1089.9 L1062.2,1090.3 L1063.3,1090.6 L1064.4,1091.0 L1065.5,1091.4 L1066.5,1091.9 L1067.5,1092.3 L1068.5,1092.9 L1069.1,1094.0 L1069.4,1095.7 L1069.3,1097.9 L1069.0,1100.5 L1068.4,1103.4 L1067.6,1106.3 L1066.8,1109.3 L1066.1,1112.0 L1065.5,1114.5 L1065.1,1116.5 L1065.0,1118.1 L1065.3,1119.2 L1065.9,1119.9 L1066.5,1120.5 L1067.1,1121.2 L1067.7,1122.0 L1068.6,1122.3 L1069.9,1122.2 L1071.5,1121.7 L1073.6,1120.9 L1075.8,1119.9 L1078.2,1118.8 L1080.6,1117.9 L1083.0,1117.0 L1085.1,1116.5 L1086.9,1116.4 L1088.3,1116.7 L1089.2,1117.4 L1089.7,1118.6 L1090.1,1119.8 L1090.5,1121.1 L1090.9,1122.3 L1091.3,1123.6 L1091.6,1124.9 L1091.9,1126.3 L1092.2,1127.6 L1092.4,1129.0 L1092.6,1130.3 L1092.8,1131.7 L1093.0,1133.1 L1093.2,1134.6 L1093.3,1136.0 L1093.4,1137.5 L1093.5,1138.9 L1093.6,1140.4 L1093.6,1141.9 L1093.6,1143.4 L1093.6,1145.0 L1093.6,1146.5 L1093.6,1148.1 L1093.5,1149.6 L1093.4,1151.2 L1093.2,1152.8 L1093.1,1154.3 L1092.9,1155.9 L1092.7,1157.6 L1092.5,1159.2 L1092.3,1160.8 L1092.0,1162.4 L1091.7,1164.1 L1091.4,1165.7 L1091.0,1167.4 L1090.7,1169.0 L1090.3,1170.7 L1089.9,1172.3 L1089.5,1174.0 L1089.0,1175.7 L1088.5,1177.3 L1088.0,1179.0 L1087.0,1180.7 L1085.5,1182.4 L1083.7,1184.1 L1081.6,1185.6 L1079.2,1187.1 L1076.8,1188.6 L1074.4,1189.9 L1072.1,1191.1 L1070.1,1192.3 L1068.4,1193.5 L1067.1,1194.6 L1066.2,1195.9 L1065.6,1197.2 L1064.9,1198.5 L1064.3,1199.7 L1063.7,1201.0 L1063.3,1202.4 L1063.3,1204.0 L1063.6,1205.7 L1064.1,1207.6 L1064.8,1209.7 L1065.5,1211.9 L1066.1,1214.2Z" fill="#7c7c7c" fill-rule="evenodd"/><ellipse rx="4.3" ry="8.3" transform="translate(1075.2,1107.7) rotate(32.0)" fill="#5a5a5a" stroke="none" stroke-width="1" /><ellipse rx="3.9" ry="7.5" transform="translate(1077.0,1108.6) rotate(32.0)" fill="#fff" stroke="none" stroke-width="1" /><ellipse rx="4.3" ry="8.3" transform="translate(1073.3,1200.6) rotate(32.0)" fill="#5a5a5a" stroke="none" stroke-width="1" /><ellipse rx="3.9" ry="7.5" transform="translate(1075.1,1201.5) rotate(32.0)" fill="#fff" stroke="none" stroke-width="1" /><ellipse rx="4.3" ry="8.3" transform="translate(953.0,1259.9) rotate(32.0)" fill="#5a5a5a" stroke="none" stroke-width="1" /><ellipse rx="3.9" ry="7.5" transform="translate(954.8,1260.8) rotate(32.0)" fill="#fff" stroke="none" stroke-width="1" /><ellipse rx="4.3" ry="8.3" transform="translate(954.9,1167.0) rotate(32.0)" fill="#5a5a5a" stroke="none" stroke-width="1" /><ellipse rx="3.9" ry="7.5" transform="translate(956.7,1167.9) rotate(32.0)" fill="#fff" stroke="none" stroke-width="1" /><path d="M1098.4,1117.9 L1099.5,1123.0 L1100.3,1128.3 L1100.8,1133.9 L1101.0,1139.6 L1100.8,1145.5 L1100.4,1151.5 L1099.6,1157.7 L1098.5,1164.0 L1097.1,1170.3 L1095.4,1176.7 L1093.4,1183.1 L1091.1,1189.5 L1088.5,1195.9 L1085.7,1202.3 L1082.5,1208.6 L1079.2,1214.8 L1075.6,1220.9 L1071.7,1226.8 L1067.7,1232.6 L1063.5,1238.2 L1059.0,1243.6 L1054.5,1248.8 L1049.7,1253.8 L1044.9,1258.5 L1039.9,1262.9 L1034.9,1267.0 L1029.7,1270.9 L1024.5,1274.3 L1019.3,1277.5 L1014.1,1280.3 L1008.9,1282.8 L1003.7,1284.9 L998.5,1286.6 L993.4,1287.9 L988.4,1288.8 L983.5,1289.4 L978.7,1289.6 L974.0,1289.3 L969.5,1288.7 L965.2,1287.7 L961.0,1286.3 L957.1,1284.5 L953.3,1282.4 L949.8,1279.9 L946.6,1277.0 L943.6,1273.8 L940.9,1270.2 L938.4,1266.4 L936.2,1262.2 L934.4,1257.7 L932.8,1253.0 L931.5,1248.0 L930.6,1242.8 L930.0,1237.3 L929.6,1231.7 L929.7,1225.8 L930.0,1219.9 L930.6,1213.8 L931.6,1207.5 L932.8,1201.2" fill="none" stroke="#b4b4b4" stroke-width="1.8"/><path d="M932.8,1201.2 L933.9,1196.7 L935.2,1192.1 L936.6,1187.5 L938.2,1183.0 L939.9,1178.4 L941.7,1173.8 L943.7,1169.2 L945.8,1164.7 L948.1,1160.2 L950.4,1155.8 L952.9,1151.4 L955.6,1147.1 L958.3,1142.8 L961.1,1138.6 L964.1,1134.6 L967.1,1130.6 L970.3,1126.7 L973.5,1122.9 L976.8,1119.2 L980.2,1115.7 L983.6,1112.3 L987.1,1109.0 L990.7,1105.9 L994.3,1102.9 L997.9,1100.1 L1001.6,1097.4 L1005.3,1094.9 L1009.0,1092.6 L1012.8,1090.5 L1016.5,1088.5 L1020.2,1086.7 L1024.0,1085.1 L1027.7,1083.7 L1031.4,1082.5 L1035.0,1081.4 L1038.6,1080.6 L1042.2,1080.0 L1045.7,1079.5 L1049.2,1079.3 L1052.6,1079.2 L1055.9,1079.4 L1059.2,1079.8 L1062.4,1080.3 L1065.4,1081.1 L1068.4,1082.0 L1071.3,1083.2 L1074.1,1084.5 L1076.7,1086.1 L1079.3,1087.8 L1081.7,1089.7 L1084.0,1091.8 L1086.2,1094.1 L1088.2,1096.5 L1090.1,1099.1 L1091.9,1101.9 L1093.5,1104.8 L1094.9,1107.8 L1096.2,1111.1 L1097.4,1114.4 L1098.4,1117.9" fill="none" stroke="#959595" stroke-width="1.5"/>
<path d="M1779.0,942.1 L1776.0,947.0 Q1759.7,945.0 1766.9,960.7 L1763.5,965.4 Q1748.5,960.4 1753.4,978.0 L1749.6,982.3 Q1736.1,974.4 1738.6,993.7 L1734.6,997.5 Q1722.9,986.9 1722.8,1007.5 L1718.6,1010.7 Q1708.9,997.5 1706.4,1019.0 L1702.1,1021.6 Q1694.6,1006.2 1689.6,1028.2 L1685.2,1030.1 Q1680.1,1012.7 1672.8,1034.8 L1668.4,1036.0 Q1665.7,1016.9 1656.2,1038.6 L1652.0,1039.2 Q1651.7,1018.7 1640.2,1039.8 L1636.1,1039.6 Q1638.4,1018.2 1625.0,1038.1 L1621.3,1037.2 Q1626.0,1015.2 1611.0,1033.7 L1607.6,1032.1 Q1614.6,1010.0 1598.4,1026.6 L1595.4,1024.3 Q1604.7,1002.5 1587.5,1016.9 L1584.9,1014.0 Q1596.3,992.9 1578.4,1004.9 L1576.4,1001.4 Q1589.5,981.3 1571.3,990.7 L1569.8,986.7 Q1584.6,968.1 1566.4,974.7 L1565.5,970.3 Q1581.5,953.5 1563.7,957.1 L1563.4,952.3 Q1580.5,937.6 1563.3,938.3 L1563.6,933.2 Q1581.4,920.9 1565.2,918.5 L1566.1,913.3 Q1584.2,903.6 1569.4,898.2 L1570.8,892.9 Q1589.0,886.0 1575.7,877.8 L1577.7,872.5 Q1595.6,868.5 1584.1,857.6 L1586.6,852.4 Q1603.9,851.4 1594.5,838.0 L1597.4,833.0 Q1613.7,835.0 1606.5,819.3 L1609.9,814.7 Q1624.9,819.7 1620.1,802.0 L1623.8,797.8 Q1637.3,805.7 1634.8,786.3 L1638.9,782.6 Q1650.6,793.2 1650.6,772.6 L1654.8,769.4 Q1664.5,782.5 1667.0,761.0 L1671.4,758.4 Q1678.8,773.9 1683.8,751.9 L1688.2,749.9 Q1693.3,767.4 1700.6,745.3 L1705.0,744.0 Q1707.7,763.2 1717.2,741.4 L1721.5,740.9 Q1721.7,761.3 1733.2,740.3 L1737.3,740.5 Q1735.0,761.9 1748.4,742.0 L1752.2,742.9 Q1747.5,764.8 1762.4,746.4 L1765.8,748.0 Q1758.8,770.1 1775.0,753.5 L1778.0,755.8 Q1768.7,777.6 1785.9,763.1 L1788.5,766.0 Q1777.2,787.2 1795.0,775.2 L1797.1,778.6 Q1783.9,798.7 1802.1,789.3 L1803.6,793.3 Q1788.8,811.9 1807.0,805.3 L1808.0,809.8 Q1791.9,826.6 1809.7,822.9 L1810.1,827.7 Q1793.0,842.4 1810.1,841.8 L1809.9,846.9 Q1792.1,859.2 1808.2,861.6 L1807.4,866.8 Q1789.2,876.5 1804.1,881.8 L1802.6,887.1 Q1784.4,894.1 1797.7,902.3 L1795.7,907.6 Q1777.8,911.5 1789.3,922.5 L1786.8,927.6 Q1769.5,928.6 1779.0,942.1Z M1737.7,920.7 L1742.6,925.7 L1747.7,931.2 L1751.1,936.1 L1751.5,939.1 L1750.3,940.9 L1749.1,942.7 L1747.8,944.4 L1746.6,946.2 L1745.3,947.9 L1744.0,949.6 L1742.6,951.3 L1741.3,953.0 L1740.0,954.7 L1738.6,956.3 L1737.2,957.9 L1735.8,959.5 L1734.4,961.1 L1732.9,962.7 L1731.5,964.2 L1730.0,965.7 L1728.6,967.2 L1727.1,968.7 L1725.6,970.1 L1724.1,971.5 L1722.6,972.9 L1721.0,974.3 L1719.5,975.6 L1717.9,977.0 L1716.4,978.2 L1714.8,979.5 L1713.2,980.7 L1711.6,981.9 L1710.0,983.1 L1708.4,984.3 L1706.8,985.4 L1705.2,986.5 L1703.6,987.6 L1702.0,988.6 L1700.3,989.6 L1698.7,990.6 L1697.1,991.5 L1695.4,992.4 L1693.8,993.3 L1692.1,994.2 L1690.5,995.0 L1688.8,995.8 L1687.2,996.5 L1685.5,997.2 L1683.9,997.9 L1682.2,998.6 L1680.6,999.2 L1679.0,999.8 L1677.3,1000.3 L1675.7,1000.9 L1674.0,1001.4 L1672.4,1001.8 L1670.8,1002.2 L1669.1,1002.6 L1667.5,1003.0 L1665.9,1003.3 L1664.3,1003.6 L1662.7,1003.8 L1661.1,1004.0 L1659.5,1004.2 L1658.0,1004.4 L1656.4,1004.5 L1654.8,1004.5 L1653.3,1004.6 L1651.8,1004.6 L1650.2,1004.5 L1648.7,1004.5 L1647.2,1004.4 L1645.7,1004.3 L1644.2,1004.1 L1642.8,1003.9 L1641.3,1003.6 L1639.9,1003.4 L1638.4,1003.1 L1637.0,1002.7 L1635.6,1002.3 L1634.3,1001.9 L1632.9,1001.5 L1631.6,1001.0 L1630.2,1000.5 L1628.9,999.9 L1627.6,999.4 L1626.3,998.8 L1626.6,995.4 L1629.6,987.5 L1634.3,977.3 L1638.7,967.9 L1641.3,961.8 L1641.2,960.3 L1640.4,959.7 L1639.6,959.1 L1638.9,958.5 L1638.2,957.9 L1637.5,957.2 L1636.8,956.6 L1636.1,955.9 L1635.4,955.2 L1634.8,954.4 L1634.1,953.7 L1633.5,952.9 L1632.9,952.1 L1632.3,951.3 L1631.8,950.5 L1631.2,949.7 L1630.7,948.8 L1629.4,948.7 L1624.5,952.2 L1616.8,958.2 L1608.5,964.4 L1602.1,968.5 L1599.3,969.1 L1598.7,967.6 L1598.1,966.1 L1597.5,964.6 L1597.0,963.1 L1596.5,961.6 L1596.0,960.0 L1595.6,958.4 L1595.1,956.8 L1594.7,955.1 L1594.4,953.5 L1594.0,951.8 L1593.7,950.1 L1593.4,948.4 L1593.2,946.7 L1593.0,944.9 L1592.8,943.2 L1592.6,941.4 L1592.5,939.6 L1592.4,937.8 L1592.3,936.0 L1592.2,934.1 L1592.2,932.3 L1592.2,930.4 L1592.2,928.5 L1592.3,926.6 L1592.4,924.7 L1592.5,922.8 L1592.7,920.9 L1592.9,919.0 L1593.1,917.0 L1593.3,915.1 L1593.6,913.1 L1593.9,911.2 L1594.2,909.2 L1594.5,907.2 L1594.9,905.3 L1595.3,903.3 L1595.7,901.3 L1596.2,899.3 L1596.7,897.3 L1597.2,895.3 L1600.0,893.2 L1606.5,891.2 L1614.9,889.4 L1622.7,888.0 L1627.7,886.8 L1628.9,885.5 L1629.4,884.2 L1629.9,882.8 L1630.4,881.5 L1630.9,880.1 L1631.5,878.8 L1632.0,877.5 L1632.6,876.2 L1633.2,874.8 L1633.8,873.5 L1634.4,872.2 L1635.1,870.9 L1635.7,869.6 L1636.4,868.3 L1637.1,867.0 L1637.8,865.7 L1638.5,864.5 L1638.6,862.8 L1635.7,859.4 L1630.8,854.4 L1625.8,848.8 L1622.4,844.0 L1621.9,841.0 L1623.1,839.2 L1624.4,837.4 L1625.6,835.6 L1626.9,833.9 L1628.2,832.1 L1629.5,830.4 L1630.8,828.7 L1632.1,827.0 L1633.5,825.4 L1634.8,823.7 L1636.2,822.1 L1637.6,820.5 L1639.0,818.9 L1640.5,817.4 L1641.9,815.8 L1643.4,814.3 L1644.9,812.8 L1646.3,811.4 L1647.8,809.9 L1649.3,808.5 L1650.9,807.1 L1652.4,805.8 L1653.9,804.4 L1655.5,803.1 L1657.1,801.8 L1658.6,800.5 L1660.2,799.3 L1661.8,798.1 L1663.4,796.9 L1665.0,795.8 L1666.6,794.7 L1668.2,793.6 L1669.8,792.5 L1671.5,791.5 L1673.1,790.5 L1674.7,789.5 L1676.4,788.5 L1678.0,787.6 L1679.6,786.7 L1681.3,785.9 L1682.9,785.1 L1684.6,784.3 L1686.2,783.5 L1687.9,782.8 L1689.5,782.1 L1691.2,781.5 L1692.8,780.9 L1694.5,780.3 L1696.1,779.7 L1697.8,779.2 L1699.4,778.7 L1701.0,778.2 L1702.7,777.8 L1704.3,777.4 L1705.9,777.1 L1707.5,776.8 L1709.1,776.5 L1710.7,776.2 L1712.3,776.0 L1713.9,775.8 L1715.5,775.7 L1717.0,775.6 L1718.6,775.5 L1720.1,775.5 L1721.7,775.5 L1723.2,775.5 L1724.7,775.6 L1726.2,775.7 L1727.7,775.8 L1729.2,776.0 L1730.7,776.2 L1732.1,776.4 L1733.6,776.7 L1735.0,777.0 L1736.4,777.3 L1737.8,777.7 L1739.2,778.1 L1740.5,778.6 L1741.9,779.0 L1743.2,779.6 L1744.5,780.1 L1745.8,780.7 L1747.1,781.3 L1746.8,784.7 L1743.8,792.6 L1739.2,802.7 L1734.7,812.2 L1732.1,818.3 L1732.3,819.8 L1733.0,820.3 L1733.8,820.9 L1734.5,821.5 L1735.2,822.2 L1736.0,822.8 L1736.7,823.5 L1737.3,824.2 L1738.0,824.9 L1738.6,825.6 L1739.3,826.4 L1739.9,827.1 L1740.5,827.9 L1741.1,828.7 L1741.7,829.6 L1742.2,830.4 L1742.7,831.3 L1744.0,831.4 L1749.0,827.8 L1756.6,821.9 L1764.9,815.7 L1771.3,811.5 L1774.2,811.0 L1774.8,812.4 L1775.4,813.9 L1775.9,815.4 L1776.4,816.9 L1777.0,818.5 L1777.4,820.1 L1777.9,821.7 L1778.3,823.3 L1778.7,824.9 L1779.1,826.6 L1779.4,828.2 L1779.7,829.9 L1780.0,831.6 L1780.2,833.4 L1780.5,835.1 L1780.7,836.9 L1780.8,838.7 L1781.0,840.5 L1781.1,842.3 L1781.1,844.1 L1781.2,845.9 L1781.2,847.8 L1781.2,849.6 L1781.2,851.5 L1781.1,853.4 L1781.0,855.3 L1780.9,857.2 L1780.8,859.1 L1780.6,861.1 L1780.4,863.0 L1780.1,865.0 L1779.9,866.9 L1779.6,868.9 L1779.3,870.8 L1778.9,872.8 L1778.5,874.8 L1778.1,876.8 L1777.7,878.8 L1777.2,880.8 L1776.7,882.8 L1776.2,884.7 L1773.5,886.8 L1766.9,888.9 L1758.6,890.6 L1750.8,892.0 L1745.8,893.2 L1744.5,894.5 L1744.0,895.9 L1743.5,897.2 L1743.0,898.6 L1742.5,899.9 L1742.0,901.2 L1741.4,902.6 L1740.8,903.9 L1740.2,905.2 L1739.6,906.5 L1739.0,907.8 L1738.4,909.2 L1737.7,910.5 L1737.0,911.7 L1736.4,913.0 L1735.7,914.3 L1734.9,915.6 L1734.9,917.2Z" fill="#5e5e5e" fill-rule="evenodd"/><path d="M1783.2,944.7 L1780.3,949.6 Q1764.0,947.6 1771.2,963.3 L1767.8,967.9 Q1752.8,962.9 1757.7,980.6 L1753.9,984.9 Q1740.4,977.0 1742.9,996.3 L1738.9,1000.1 Q1727.2,989.4 1727.1,1010.0 L1722.9,1013.3 Q1713.2,1000.1 1710.7,1021.6 L1706.4,1024.2 Q1698.9,1008.7 1693.9,1030.7 L1689.5,1032.7 Q1684.4,1015.2 1677.1,1037.3 L1672.7,1038.6 Q1670.0,1019.4 1660.5,1041.2 L1656.2,1041.8 Q1656.0,1021.3 1644.5,1042.3 L1640.4,1042.2 Q1642.7,1020.7 1629.3,1040.7 L1625.6,1039.8 Q1630.2,1017.8 1615.3,1036.2 L1611.9,1034.6 Q1618.9,1012.5 1602.7,1029.1 L1599.7,1026.9 Q1609.0,1005.0 1591.8,1019.5 L1589.2,1016.6 Q1600.5,995.4 1582.7,1007.5 L1580.6,1004.0 Q1593.8,983.9 1575.6,993.3 L1574.1,989.3 Q1588.9,970.7 1570.7,977.3 L1569.8,972.8 Q1585.8,956.0 1568.0,959.7 L1567.7,954.9 Q1584.8,940.2 1567.6,940.8 L1567.9,935.8 Q1585.7,923.4 1569.5,921.1 L1570.4,915.8 Q1588.5,906.1 1573.7,900.8 L1575.1,895.5 Q1593.3,888.6 1580.0,880.4 L1582.0,875.1 Q1599.9,871.1 1588.4,860.1 L1590.9,855.0 Q1608.2,854.0 1598.8,840.5 L1601.7,835.6 Q1618.0,837.6 1610.8,821.9 L1614.2,817.3 Q1629.2,822.3 1624.3,804.6 L1628.1,800.3 Q1641.6,808.2 1639.1,788.9 L1643.1,785.1 Q1654.8,795.8 1654.9,775.2 L1659.1,771.9 Q1668.8,785.1 1671.3,763.6 L1675.6,761.0 Q1683.1,776.5 1688.1,754.5 L1692.5,752.5 Q1697.6,770.0 1704.9,747.9 L1709.3,746.6 Q1712.0,765.8 1721.5,744.0 L1725.8,743.4 Q1726.0,763.9 1737.5,742.9 L1741.6,743.0 Q1739.3,764.5 1752.7,744.5 L1756.4,745.4 Q1751.8,767.4 1766.7,749.0 L1770.1,750.6 Q1763.1,772.7 1779.3,756.1 L1782.3,758.3 Q1773.0,780.2 1790.2,765.7 L1792.8,768.6 Q1781.5,789.8 1799.3,777.7 L1801.4,781.2 Q1788.2,801.3 1806.4,791.9 L1807.9,795.9 Q1793.1,814.5 1811.3,807.9 L1812.2,812.4 Q1796.2,829.2 1814.0,825.5 L1814.3,830.3 Q1797.2,845.0 1814.4,844.4 L1814.1,849.4 Q1796.3,861.8 1812.5,864.1 L1811.6,869.4 Q1793.5,879.1 1808.3,884.4 L1806.9,889.7 Q1788.7,896.6 1802.0,904.8 L1800.0,910.1 Q1782.1,914.1 1793.6,925.1 L1791.1,930.2 Q1773.8,931.2 1783.2,944.7Z M1742.0,923.3 L1746.9,928.3 L1751.9,933.8 L1755.3,938.7 L1755.8,941.7 L1754.6,943.5 L1753.4,945.2 L1752.1,947.0 L1750.8,948.8 L1749.6,950.5 L1748.3,952.2 L1746.9,953.9 L1745.6,955.6 L1744.2,957.3 L1742.9,958.9 L1741.5,960.5 L1740.1,962.1 L1738.7,963.7 L1737.2,965.3 L1735.8,966.8 L1734.3,968.3 L1732.9,969.8 L1731.4,971.3 L1729.9,972.7 L1728.4,974.1 L1726.8,975.5 L1725.3,976.9 L1723.8,978.2 L1722.2,979.5 L1720.7,980.8 L1719.1,982.1 L1717.5,983.3 L1715.9,984.5 L1714.3,985.7 L1712.7,986.9 L1711.1,988.0 L1709.5,989.1 L1707.9,990.1 L1706.3,991.2 L1704.6,992.2 L1703.0,993.1 L1701.4,994.1 L1699.7,995.0 L1698.1,995.9 L1696.4,996.7 L1694.8,997.5 L1693.1,998.3 L1691.5,999.1 L1689.8,999.8 L1688.2,1000.5 L1686.5,1001.1 L1684.9,1001.8 L1683.2,1002.4 L1681.6,1002.9 L1680.0,1003.4 L1678.3,1003.9 L1676.7,1004.4 L1675.1,1004.8 L1673.4,1005.2 L1671.8,1005.5 L1670.2,1005.9 L1668.6,1006.1 L1667.0,1006.4 L1665.4,1006.6 L1663.8,1006.8 L1662.2,1006.9 L1660.7,1007.0 L1659.1,1007.1 L1657.6,1007.1 L1656.0,1007.2 L1654.5,1007.1 L1653.0,1007.1 L1651.5,1007.0 L1650.0,1006.8 L1648.5,1006.7 L1647.1,1006.5 L1645.6,1006.2 L1644.2,1005.9 L1642.7,1005.6 L1641.3,1005.3 L1639.9,1004.9 L1638.5,1004.5 L1637.2,1004.1 L1635.8,1003.6 L1634.5,1003.1 L1633.2,1002.5 L1631.9,1001.9 L1630.6,1001.3 L1630.9,998.0 L1633.9,990.1 L1638.5,979.9 L1643.0,970.4 L1645.6,964.4 L1645.5,962.9 L1644.7,962.3 L1643.9,961.7 L1643.2,961.1 L1642.5,960.5 L1641.8,959.8 L1641.1,959.1 L1640.4,958.5 L1639.7,957.7 L1639.1,957.0 L1638.4,956.3 L1637.8,955.5 L1637.2,954.7 L1636.6,953.9 L1636.1,953.1 L1635.5,952.2 L1635.0,951.4 L1633.7,951.3 L1628.7,954.8 L1621.1,960.8 L1612.8,966.9 L1606.4,971.1 L1603.6,971.7 L1602.9,970.2 L1602.4,968.7 L1601.8,967.2 L1601.3,965.7 L1600.8,964.1 L1600.3,962.6 L1599.8,961.0 L1599.4,959.4 L1599.0,957.7 L1598.7,956.1 L1598.3,954.4 L1598.0,952.7 L1597.7,951.0 L1597.5,949.3 L1597.3,947.5 L1597.1,945.7 L1596.9,944.0 L1596.8,942.2 L1596.6,940.4 L1596.6,938.5 L1596.5,936.7 L1596.5,934.8 L1596.5,933.0 L1596.5,931.1 L1596.6,929.2 L1596.7,927.3 L1596.8,925.4 L1597.0,923.5 L1597.1,921.6 L1597.3,919.6 L1597.6,917.7 L1597.8,915.7 L1598.1,913.8 L1598.5,911.8 L1598.8,909.8 L1599.2,907.8 L1599.6,905.8 L1600.0,903.9 L1600.5,901.9 L1601.0,899.9 L1601.5,897.9 L1604.3,895.8 L1610.8,893.8 L1619.2,892.0 L1626.9,890.6 L1632.0,889.4 L1633.2,888.1 L1633.7,886.7 L1634.2,885.4 L1634.7,884.1 L1635.2,882.7 L1635.7,881.4 L1636.3,880.1 L1636.9,878.7 L1637.5,877.4 L1638.1,876.1 L1638.7,874.8 L1639.3,873.5 L1640.0,872.2 L1640.7,870.9 L1641.4,869.6 L1642.1,868.3 L1642.8,867.0 L1642.9,865.4 L1640.0,861.9 L1635.1,856.9 L1630.1,851.4 L1626.7,846.5 L1626.2,843.5 L1627.4,841.7 L1628.6,840.0 L1629.9,838.2 L1631.2,836.4 L1632.4,834.7 L1633.7,833.0 L1635.1,831.3 L1636.4,829.6 L1637.8,827.9 L1639.1,826.3 L1640.5,824.7 L1641.9,823.1 L1643.3,821.5 L1644.8,819.9 L1646.2,818.4 L1647.7,816.9 L1649.1,815.4 L1650.6,813.9 L1652.1,812.5 L1653.6,811.1 L1655.2,809.7 L1656.7,808.3 L1658.2,807.0 L1659.8,805.7 L1661.3,804.4 L1662.9,803.1 L1664.5,801.9 L1666.1,800.7 L1667.7,799.5 L1669.3,798.3 L1670.9,797.2 L1672.5,796.1 L1674.1,795.1 L1675.7,794.0 L1677.4,793.0 L1679.0,792.1 L1680.6,791.1 L1682.3,790.2 L1683.9,789.3 L1685.6,788.5 L1687.2,787.7 L1688.9,786.9 L1690.5,786.1 L1692.2,785.4 L1693.8,784.7 L1695.5,784.1 L1697.1,783.4 L1698.8,782.8 L1700.4,782.3 L1702.0,781.8 L1703.7,781.3 L1705.3,780.8 L1706.9,780.4 L1708.6,780.0 L1710.2,779.7 L1711.8,779.3 L1713.4,779.1 L1715.0,778.8 L1716.6,778.6 L1718.2,778.4 L1719.8,778.3 L1721.3,778.2 L1722.9,778.1 L1724.4,778.1 L1726.0,778.0 L1727.5,778.1 L1729.0,778.1 L1730.5,778.2 L1732.0,778.4 L1733.5,778.5 L1734.9,778.7 L1736.4,779.0 L1737.8,779.3 L1739.3,779.6 L1740.7,779.9 L1742.1,780.3 L1743.5,780.7 L1744.8,781.1 L1746.2,781.6 L1747.5,782.1 L1748.8,782.7 L1750.1,783.3 L1751.4,783.9 L1751.1,787.2 L1748.1,795.1 L1743.5,805.3 L1739.0,814.8 L1736.4,820.8 L1736.5,822.3 L1737.3,822.9 L1738.1,823.5 L1738.8,824.1 L1739.5,824.7 L1740.2,825.4 L1740.9,826.1 L1741.6,826.7 L1742.3,827.5 L1742.9,828.2 L1743.6,828.9 L1744.2,829.7 L1744.8,830.5 L1745.4,831.3 L1745.9,832.1 L1746.5,833.0 L1747.0,833.8 L1748.3,833.9 L1753.3,830.4 L1760.9,824.4 L1769.2,818.3 L1775.6,814.1 L1778.4,813.5 L1779.1,815.0 L1779.6,816.5 L1780.2,818.0 L1780.7,819.5 L1781.2,821.1 L1781.7,822.6 L1782.2,824.2 L1782.6,825.8 L1783.0,827.5 L1783.3,829.1 L1783.7,830.8 L1784.0,832.5 L1784.3,834.2 L1784.5,835.9 L1784.7,837.7 L1784.9,839.5 L1785.1,841.2 L1785.2,843.0 L1785.4,844.8 L1785.4,846.7 L1785.5,848.5 L1785.5,850.4 L1785.5,852.2 L1785.5,854.1 L1785.4,856.0 L1785.3,857.9 L1785.2,859.8 L1785.0,861.7 L1784.9,863.6 L1784.7,865.6 L1784.4,867.5 L1784.2,869.5 L1783.9,871.4 L1783.5,873.4 L1783.2,875.4 L1782.8,877.4 L1782.4,879.4 L1782.0,881.3 L1781.5,883.3 L1781.0,885.3 L1780.5,887.3 L1777.7,889.4 L1771.2,891.4 L1762.8,893.2 L1755.1,894.6 L1750.0,895.8 L1748.8,897.1 L1748.3,898.5 L1747.8,899.8 L1747.3,901.1 L1746.8,902.5 L1746.3,903.8 L1745.7,905.1 L1745.1,906.5 L1744.5,907.8 L1743.9,909.1 L1743.3,910.4 L1742.7,911.7 L1742.0,913.0 L1741.3,914.3 L1740.6,915.6 L1739.9,916.9 L1739.2,918.2 L1739.1,919.8Z" fill="#7c7c7c" fill-rule="evenodd"/><ellipse rx="5.2" ry="8.0" transform="translate(1750.0,815.5) rotate(31.0)" fill="#5a5a5a" stroke="none" stroke-width="1" /><ellipse rx="4.7" ry="7.2" transform="translate(1751.8,816.4) rotate(31.0)" fill="#fff" stroke="none" stroke-width="1" /><ellipse rx="5.2" ry="8.0" transform="translate(1752.7,909.8) rotate(31.0)" fill="#5a5a5a" stroke="none" stroke-width="1" /><ellipse rx="4.7" ry="7.2" transform="translate(1754.5,910.7) rotate(31.0)" fill="#fff" stroke="none" stroke-width="1" /><ellipse rx="5.2" ry="8.0" transform="translate(1629.6,968.5) rotate(31.0)" fill="#5a5a5a" stroke="none" stroke-width="1" /><ellipse rx="4.7" ry="7.2" transform="translate(1631.4,969.4) rotate(31.0)" fill="#fff" stroke="none" stroke-width="1" /><ellipse rx="5.2" ry="8.0" transform="translate(1626.9,874.2) rotate(31.0)" fill="#5a5a5a" stroke="none" stroke-width="1" /><ellipse rx="4.7" ry="7.2" transform="translate(1628.7,875.1) rotate(31.0)" fill="#fff" stroke="none" stroke-width="1" /><path d="M1790.6,804.9 L1791.0,805.9 L1791.4,806.9 L1791.7,807.9 L1792.1,808.9 L1792.5,810.0 L1792.8,811.0 L1793.1,812.1 L1793.5,813.1 L1793.8,814.2 L1794.1,815.3 L1794.4,816.4 L1794.6,817.5 L1794.9,818.6 L1795.2,819.7 L1795.4,820.8 L1795.6,822.0 L1795.9,823.1 L1796.1,824.3 L1796.3,825.4 L1796.5,826.6 L1796.6,827.8 L1796.8,828.9 L1796.9,830.1 L1797.1,831.3 L1797.2,832.5 L1797.3,833.7 L1797.4,834.9 L1797.5,836.1 L1797.6,837.4 L1797.7,838.6 L1797.7,839.8 L1797.8,841.1 L1797.8,842.3 L1797.8,843.6 L1797.9,844.8 L1797.9,846.1 L1797.8,847.4 L1797.8,848.6 L1797.8,849.9 L1797.7,851.2 L1797.7,852.5 L1797.6,853.8 L1797.5,855.1 L1797.4,856.4 L1797.3,857.7 L1797.2,859.0 L1797.1,860.3 L1796.9,861.6 L1796.8,862.9 L1796.6,864.3 L1796.5,865.6 L1796.3,866.9 L1796.1,868.2 L1795.9,869.6 L1795.6,870.9 L1795.4,872.2 L1795.2,873.6 L1794.9,874.9 L1794.6,876.3 L1794.4,877.6" fill="none" stroke="#a2a2a2" stroke-width="2"/><path d="M1758.7,956.1 L1756.9,958.5 L1755.0,960.9 L1753.2,963.3 L1751.3,965.6 L1749.4,967.9 L1747.5,970.1 L1745.5,972.3 L1743.5,974.5 L1741.5,976.7 L1739.4,978.8 L1737.4,980.8 L1735.3,982.8 L1733.2,984.8 L1731.1,986.8 L1728.9,988.6 L1726.8,990.5 L1724.6,992.3 L1722.4,994.1 L1720.2,995.8 L1718.0,997.4 L1715.7,999.0 L1713.5,1000.6 L1711.2,1002.1 L1709.0,1003.6 L1706.7,1005.0 L1704.4,1006.4 L1702.1,1007.7 L1699.9,1008.9 L1697.6,1010.1 L1695.3,1011.3 L1693.0,1012.4 L1690.7,1013.4 L1688.4,1014.4 L1686.1,1015.3 L1683.8,1016.2 L1681.5,1017.0 L1679.2,1017.7 L1676.9,1018.4 L1674.6,1019.0 L1672.4,1019.6 L1670.1,1020.1 L1667.9,1020.6 L1665.6,1021.0 L1663.4,1021.3 L1661.2,1021.6 L1659.0,1021.8 L1656.8,1022.0 L1654.6,1022.1 L1652.5,1022.1 L1650.3,1022.1 L1648.2,1022.0 L1646.1,1021.9 L1644.0,1021.7 L1642.0,1021.4 L1639.9,1021.1 L1637.9,1020.7 L1635.9,1020.3 L1634.0,1019.8 L1632.1,1019.2 L1630.1,1018.6" fill="none" stroke="#a2a2a2" stroke-width="2"/>
<defs><linearGradient id="gR12" gradientUnits="userSpaceOnUse" x1="1400" y1="1560" x2="1650" y2="1360"><stop offset="0" stop-color="#a2a2a2"/><stop offset="0.45" stop-color="#8a8a8a"/><stop offset="1" stop-color="#6e6e6e"/></linearGradient><linearGradient id="gR12a" gradientUnits="userSpaceOnUse" x1="1420" y1="1380" x2="1640" y2="1560"><stop offset="0" stop-color="#8e8e8e"/><stop offset="1" stop-color="#9e9e9e"/></linearGradient></defs>
<path d="M1627.8,1517.7 L1624.2,1524.0 Q1609.4,1523.0 1616.2,1537.0 L1612.2,1543.0 Q1598.2,1539.5 1603.2,1555.2 L1598.8,1560.8 Q1585.9,1554.9 1589.0,1572.0 L1584.3,1577.1 Q1572.7,1569.0 1573.8,1587.2 L1568.8,1591.7 Q1558.7,1581.5 1557.9,1600.6 L1552.7,1604.5 Q1544.2,1592.2 1541.4,1612.0 L1536.1,1615.2 Q1529.4,1601.0 1524.6,1621.1 L1519.3,1623.6 Q1514.4,1607.8 1507.8,1628.0 L1502.5,1629.6 Q1499.5,1612.5 1491.2,1632.4 L1486.0,1633.3 Q1484.9,1615.0 1475.0,1634.3 L1470.0,1634.4 Q1470.9,1615.2 1459.5,1633.7 L1454.7,1632.9 Q1457.6,1613.2 1444.9,1630.6 L1440.4,1629.0 Q1445.2,1608.9 1431.4,1625.0 L1427.3,1622.7 Q1433.9,1602.6 1419.2,1617.0 L1415.6,1614.0 Q1423.9,1594.1 1408.4,1606.8 L1405.4,1603.1 Q1415.3,1583.8 1399.4,1594.4 L1396.8,1590.1 Q1408.3,1571.6 1392.1,1580.1 L1390.1,1575.2 Q1402.9,1557.8 1386.7,1564.1 L1385.4,1558.7 Q1399.2,1542.7 1383.2,1546.6 L1382.5,1540.7 Q1397.4,1526.3 1381.8,1527.9 L1381.8,1521.6 Q1397.3,1509.1 1382.4,1508.1 L1383.0,1501.7 Q1399.0,1491.1 1385.0,1487.7 L1386.3,1481.1 Q1402.5,1472.7 1389.6,1467.0 L1391.5,1460.3 Q1407.7,1454.1 1396.1,1446.1 L1398.6,1439.5 Q1414.6,1435.6 1404.5,1425.5 L1407.5,1419.0 Q1423.0,1417.5 1414.5,1405.3 L1418.1,1399.1 Q1432.9,1400.1 1426.1,1386.1 L1430.1,1380.1 Q1444.1,1383.6 1439.1,1367.9 L1443.5,1362.3 Q1456.3,1368.1 1453.3,1351.0 L1458.0,1346.0 Q1469.6,1354.1 1468.5,1335.8 L1473.5,1331.3 Q1483.6,1341.6 1484.4,1322.5 L1489.6,1318.6 Q1498.1,1330.9 1500.9,1311.1 L1506.2,1307.9 Q1512.9,1322.0 1517.6,1301.9 L1523.0,1299.5 Q1527.9,1315.2 1534.5,1295.1 L1539.8,1293.4 Q1542.8,1310.6 1551.1,1290.7 L1556.3,1289.8 Q1557.4,1308.1 1567.3,1288.8 L1572.3,1288.7 Q1571.4,1307.9 1582.8,1289.4 L1587.6,1290.1 Q1584.7,1309.9 1597.4,1292.5 L1601.9,1294.0 Q1597.1,1314.1 1610.9,1298.1 L1615.0,1300.4 Q1608.4,1320.5 1623.1,1306.1 L1626.7,1309.1 Q1618.4,1329.0 1633.9,1316.3 L1636.9,1320.0 Q1627.0,1339.3 1642.9,1328.6 L1645.5,1333.0 Q1634.0,1351.5 1650.2,1342.9 L1652.2,1347.9 Q1639.4,1365.2 1655.6,1358.9 L1656.9,1364.4 Q1643.1,1380.4 1659.1,1376.5 L1659.8,1382.3 Q1644.9,1396.7 1660.5,1395.2 L1660.5,1401.4 Q1645.0,1414.0 1659.9,1414.9 L1659.3,1421.4 Q1643.3,1432.0 1657.3,1435.3 L1656.0,1442.0 Q1639.8,1450.4 1652.7,1456.1 L1650.8,1462.8 Q1634.6,1469.0 1646.2,1477.0 L1643.7,1483.6 Q1627.7,1487.4 1637.8,1497.6 L1634.8,1504.1 Q1619.3,1505.5 1627.8,1517.7Z M1596.7,1504.3 L1595.5,1506.3 L1594.3,1508.3 L1593.1,1510.3 L1591.9,1512.3 L1590.6,1514.3 L1589.3,1516.2 L1588.0,1518.2 L1586.7,1520.1 L1585.4,1522.0 L1584.0,1523.9 L1582.7,1525.8 L1581.3,1527.6 L1579.9,1529.5 L1578.4,1531.3 L1577.0,1533.1 L1575.5,1534.8 L1574.0,1536.6 L1572.5,1538.3 L1571.0,1540.0 L1569.5,1541.7 L1567.9,1543.3 L1566.4,1544.9 L1564.8,1546.5 L1563.2,1548.1 L1561.6,1549.6 L1560.0,1551.2 L1558.4,1552.7 L1556.8,1554.1 L1555.1,1555.6 L1553.5,1557.0 L1551.8,1558.4 L1550.1,1559.7 L1548.5,1561.0 L1546.8,1562.3 L1545.1,1563.6 L1543.4,1564.8 L1541.7,1566.0 L1539.9,1567.2 L1538.2,1568.3 L1536.5,1569.4 L1534.8,1570.5 L1533.0,1571.5 L1531.3,1572.5 L1529.5,1573.5 L1527.8,1574.4 L1526.0,1575.3 L1524.3,1576.1 L1522.5,1577.0 L1520.8,1577.8 L1519.0,1578.5 L1517.3,1579.3 L1515.5,1579.9 L1513.8,1580.6 L1512.0,1581.2 L1510.3,1581.8 L1508.6,1582.3 L1506.8,1582.8 L1505.1,1583.3 L1503.4,1583.7 L1501.6,1584.1 L1499.9,1584.5 L1498.2,1584.8 L1496.5,1585.1 L1494.8,1585.3 L1493.1,1585.5 L1491.5,1585.7 L1489.8,1585.8 L1488.1,1585.9 L1486.5,1586.0 L1484.8,1586.0 L1483.2,1586.0 L1481.6,1585.9 L1480.0,1585.8 L1478.4,1585.7 L1476.8,1585.5 L1475.3,1585.3 L1473.7,1585.0 L1472.2,1584.7 L1470.6,1584.4 L1469.1,1584.1 L1467.7,1583.7 L1466.2,1583.2 L1464.7,1582.7 L1463.3,1582.2 L1461.9,1581.7 L1460.5,1581.1 L1459.1,1580.5 L1457.7,1579.8 L1456.4,1579.1 L1455.0,1578.4 L1453.7,1577.6 L1452.4,1576.8 L1451.2,1576.0 L1449.9,1575.1 L1448.7,1574.2 L1447.5,1573.3 L1446.3,1572.3 L1445.2,1571.3 L1444.0,1570.3 L1442.9,1569.2 L1441.8,1568.1 L1440.8,1567.0 L1439.7,1565.8 L1438.7,1564.6 L1437.7,1563.4 L1436.8,1562.1 L1435.8,1560.8 L1434.9,1559.5 L1434.0,1558.1 L1433.2,1556.7 L1432.4,1555.3 L1431.6,1553.9 L1430.8,1552.4 L1430.0,1550.9 L1429.3,1549.4 L1428.6,1547.9 L1428.0,1546.3 L1427.3,1544.7 L1426.7,1543.0 L1426.1,1541.4 L1425.6,1539.7 L1425.1,1538.0 L1424.6,1536.3 L1424.1,1534.5 L1423.7,1532.8 L1423.3,1531.0 L1422.9,1529.2 L1422.6,1527.3 L1422.2,1525.5 L1422.0,1523.6 L1421.7,1521.7 L1421.5,1519.8 L1421.3,1517.9 L1421.1,1515.9 L1421.0,1514.0 L1420.9,1512.0 L1420.8,1510.0 L1420.8,1508.0 L1420.8,1506.0 L1420.8,1503.9 L1420.9,1501.9 L1420.9,1499.8 L1421.0,1497.8 L1421.2,1495.7 L1421.4,1493.6 L1421.6,1491.5 L1421.8,1489.4 L1422.1,1487.2 L1422.4,1485.1 L1422.7,1483.0 L1423.0,1480.8 L1423.4,1478.7 L1423.8,1476.5 L1424.3,1474.4 L1424.8,1472.2 L1425.3,1470.0 L1425.8,1467.9 L1426.4,1465.7 L1427.0,1463.5 L1427.6,1461.4 L1428.2,1459.2 L1428.9,1457.0 L1429.6,1454.9 L1430.3,1452.7 L1431.1,1450.5 L1431.9,1448.4 L1432.7,1446.2 L1433.5,1444.0 L1434.4,1441.9 L1435.3,1439.8 L1436.2,1437.6 L1437.2,1435.5 L1438.1,1433.4 L1439.1,1431.3 L1440.2,1429.2 L1441.2,1427.1 L1442.3,1425.0 L1443.4,1422.9 L1444.5,1420.9 L1445.6,1418.8 L1446.8,1416.8 L1448.0,1414.8 L1449.2,1412.8 L1450.4,1410.8 L1451.7,1408.8 L1453.0,1406.8 L1454.3,1404.9 L1455.6,1403.0 L1456.9,1401.1 L1458.3,1399.2 L1459.6,1397.3 L1461.0,1395.4 L1462.4,1393.6 L1463.9,1391.8 L1465.3,1390.0 L1466.8,1388.3 L1468.3,1386.5 L1469.8,1384.8 L1471.3,1383.1 L1472.8,1381.4 L1474.3,1379.8 L1475.9,1378.1 L1477.5,1376.5 L1479.1,1375.0 L1480.7,1373.4 L1482.3,1371.9 L1483.9,1370.4 L1485.5,1368.9 L1487.2,1367.5 L1488.8,1366.1 L1490.5,1364.7 L1492.2,1363.4 L1493.8,1362.1 L1495.5,1360.8 L1497.2,1359.5 L1498.9,1358.3 L1500.6,1357.1 L1502.4,1355.9 L1504.1,1354.8 L1505.8,1353.7 L1507.5,1352.6 L1509.3,1351.6 L1511.0,1350.6 L1512.8,1349.6 L1514.5,1348.7 L1516.3,1347.8 L1518.0,1346.9 L1519.8,1346.1 L1521.5,1345.3 L1523.3,1344.5 L1525.0,1343.8 L1526.8,1343.1 L1528.5,1342.5 L1530.3,1341.9 L1532.0,1341.3 L1533.7,1340.8 L1535.5,1340.3 L1537.2,1339.8 L1538.9,1339.4 L1540.7,1339.0 L1542.4,1338.6 L1544.1,1338.3 L1545.8,1338.0 L1547.5,1337.8 L1549.2,1337.6 L1550.8,1337.4 L1552.5,1337.3 L1554.2,1337.2 L1555.8,1337.1 L1557.5,1337.1 L1559.1,1337.1 L1560.7,1337.2 L1562.3,1337.3 L1563.9,1337.4 L1565.5,1337.6 L1567.0,1337.8 L1568.6,1338.1 L1570.1,1338.3 L1571.6,1338.7 L1573.2,1339.0 L1574.6,1339.4 L1576.1,1339.9 L1577.6,1340.3 L1579.0,1340.8 L1580.4,1341.4 L1581.8,1342.0 L1583.2,1342.6 L1584.6,1343.2 L1585.9,1343.9 L1587.3,1344.7 L1588.6,1345.4 L1589.9,1346.2 L1591.1,1347.1 L1592.4,1347.9 L1593.6,1348.8 L1594.8,1349.8 L1596.0,1350.7 L1597.1,1351.7 L1598.3,1352.8 L1599.4,1353.9 L1600.5,1355.0 L1601.5,1356.1 L1602.6,1357.3 L1603.6,1358.5 L1604.6,1359.7 L1605.5,1361.0 L1606.5,1362.3 L1607.4,1363.6 L1608.3,1364.9 L1609.1,1366.3 L1609.9,1367.7 L1610.7,1369.2 L1611.5,1370.7 L1612.3,1372.1 L1613.0,1373.7 L1613.7,1375.2 L1614.3,1376.8 L1615.0,1378.4 L1615.6,1380.0 L1616.2,1381.7 L1616.7,1383.4 L1617.2,1385.1 L1617.7,1386.8 L1618.2,1388.5 L1618.6,1390.3 L1619.0,1392.1 L1619.4,1393.9 L1619.7,1395.7 L1620.1,1397.6 L1620.3,1399.5 L1620.6,1401.4 L1620.8,1403.3 L1621.0,1405.2 L1621.2,1407.1 L1621.3,1409.1 L1621.4,1411.1 L1621.5,1413.1 L1621.5,1415.1 L1621.5,1417.1 L1621.5,1419.1 L1621.4,1421.2 L1621.4,1423.3 L1621.2,1425.3 L1621.1,1427.4 L1620.9,1429.5 L1620.7,1431.6 L1620.5,1433.7 L1620.2,1435.8 L1619.9,1438.0 L1619.6,1440.1 L1619.2,1442.2 L1618.9,1444.4 L1618.4,1446.5 L1618.0,1448.7 L1617.5,1450.9 L1617.0,1453.0 L1616.5,1455.2 L1615.9,1457.4 L1615.3,1459.5 L1614.7,1461.7 L1614.1,1463.9 L1613.4,1466.1 L1612.7,1468.2 L1612.0,1470.4 L1611.2,1472.6 L1610.4,1474.7 L1609.6,1476.9 L1608.8,1479.0 L1607.9,1481.2 L1607.0,1483.3 L1606.1,1485.5 L1605.1,1487.6 L1604.2,1489.7 L1603.2,1491.8 L1602.1,1493.9 L1601.1,1496.0 L1600.0,1498.1 L1598.9,1500.2 L1597.8,1502.2Z" fill="#5c5c5c" fill-rule="evenodd"/><path d="M1632.1,1520.2 L1628.6,1526.5 Q1613.7,1525.4 1620.5,1539.5 L1616.5,1545.4 Q1602.6,1542.0 1607.5,1557.7 L1603.1,1563.2 Q1590.3,1557.4 1593.4,1574.5 L1588.6,1579.5 Q1577.1,1571.4 1578.2,1589.7 L1573.2,1594.2 Q1563.1,1583.9 1562.2,1603.1 L1557.0,1606.9 Q1548.6,1594.7 1545.8,1614.4 L1540.4,1617.6 Q1533.7,1603.5 1529.0,1623.6 L1523.6,1626.0 Q1518.7,1610.3 1512.2,1630.4 L1506.8,1632.1 Q1503.8,1615.0 1495.5,1634.8 L1490.3,1635.7 Q1489.3,1617.4 1479.4,1636.7 L1474.3,1636.8 Q1475.2,1617.6 1463.8,1636.1 L1459.0,1635.4 Q1461.9,1615.6 1449.2,1633.0 L1444.8,1631.5 Q1449.6,1611.4 1435.7,1627.4 L1431.7,1625.1 Q1438.3,1605.0 1423.5,1619.5 L1419.9,1616.4 Q1428.3,1596.6 1412.8,1609.2 L1409.7,1605.5 Q1419.7,1586.2 1403.7,1596.9 L1401.2,1592.5 Q1412.7,1574.1 1396.4,1582.6 L1394.5,1577.7 Q1407.3,1560.3 1391.0,1566.6 L1389.7,1561.1 Q1403.6,1545.2 1387.6,1549.1 L1386.9,1543.2 Q1401.7,1528.8 1386.1,1530.3 L1386.1,1524.1 Q1401.6,1511.5 1386.7,1510.6 L1387.4,1504.1 Q1403.3,1493.5 1389.4,1490.2 L1390.6,1483.6 Q1406.8,1475.1 1394.0,1469.4 L1395.8,1462.7 Q1412.1,1456.6 1400.5,1448.6 L1403.0,1441.9 Q1419.0,1438.1 1408.8,1427.9 L1411.9,1421.4 Q1427.4,1420.0 1418.9,1407.8 L1422.4,1401.5 Q1437.3,1402.6 1430.5,1388.5 L1434.5,1382.6 Q1448.4,1386.0 1443.5,1370.3 L1447.9,1364.8 Q1460.7,1370.6 1457.6,1353.5 L1462.4,1348.5 Q1473.9,1356.6 1472.8,1338.3 L1477.8,1333.8 Q1487.9,1344.1 1488.8,1324.9 L1494.0,1321.1 Q1502.4,1333.3 1505.2,1313.6 L1510.6,1310.4 Q1517.3,1324.5 1522.0,1304.4 L1527.4,1302.0 Q1532.3,1317.7 1538.8,1297.6 L1544.2,1295.9 Q1547.2,1313.0 1555.5,1293.2 L1560.7,1292.3 Q1561.7,1310.6 1571.6,1291.3 L1576.7,1291.2 Q1575.8,1310.4 1587.2,1291.9 L1592.0,1292.6 Q1589.1,1312.4 1601.8,1295.0 L1606.2,1296.5 Q1601.4,1316.6 1615.3,1300.6 L1619.3,1302.9 Q1612.7,1323.0 1627.5,1308.5 L1631.1,1311.6 Q1622.7,1331.4 1638.2,1318.8 L1641.3,1322.5 Q1631.3,1341.8 1647.3,1331.1 L1649.8,1335.5 Q1638.3,1353.9 1654.6,1345.4 L1656.5,1350.3 Q1643.7,1367.7 1660.0,1361.4 L1661.3,1366.9 Q1647.4,1382.8 1663.4,1378.9 L1664.1,1384.8 Q1649.3,1399.2 1664.9,1397.7 L1664.9,1403.9 Q1649.4,1416.5 1664.3,1417.4 L1663.6,1423.9 Q1647.7,1434.5 1661.6,1437.8 L1660.4,1444.4 Q1644.2,1452.9 1657.0,1458.6 L1655.2,1465.3 Q1638.9,1471.4 1650.5,1479.4 L1648.0,1486.1 Q1632.0,1489.9 1642.2,1500.1 L1639.1,1506.6 Q1623.6,1508.0 1632.1,1520.2Z M1593.6,1502.5 L1592.4,1504.6 L1591.3,1506.6 L1590.0,1508.6 L1588.8,1510.6 L1587.6,1512.6 L1586.3,1514.5 L1585.0,1516.5 L1583.7,1518.4 L1582.3,1520.3 L1581.0,1522.2 L1579.6,1524.1 L1578.2,1525.9 L1576.8,1527.7 L1575.4,1529.5 L1573.9,1531.3 L1572.5,1533.1 L1571.0,1534.8 L1569.5,1536.6 L1568.0,1538.3 L1566.4,1539.9 L1564.9,1541.6 L1563.3,1543.2 L1561.8,1544.8 L1560.2,1546.4 L1558.6,1547.9 L1557.0,1549.4 L1555.4,1550.9 L1553.7,1552.4 L1552.1,1553.8 L1550.4,1555.2 L1548.8,1556.6 L1547.1,1558.0 L1545.4,1559.3 L1543.7,1560.6 L1542.0,1561.8 L1540.3,1563.1 L1538.6,1564.3 L1536.9,1565.4 L1535.2,1566.6 L1533.4,1567.7 L1531.7,1568.7 L1530.0,1569.8 L1528.2,1570.8 L1526.5,1571.7 L1524.7,1572.7 L1523.0,1573.6 L1521.2,1574.4 L1519.5,1575.3 L1517.7,1576.0 L1516.0,1576.8 L1514.2,1577.5 L1512.5,1578.2 L1510.7,1578.9 L1509.0,1579.5 L1507.2,1580.1 L1505.5,1580.6 L1503.8,1581.1 L1502.0,1581.6 L1500.3,1582.0 L1498.6,1582.4 L1496.9,1582.7 L1495.2,1583.1 L1493.5,1583.3 L1491.8,1583.6 L1490.1,1583.8 L1488.4,1584.0 L1486.7,1584.1 L1485.1,1584.2 L1483.4,1584.2 L1481.8,1584.2 L1480.2,1584.2 L1478.6,1584.2 L1476.9,1584.1 L1475.4,1583.9 L1473.8,1583.8 L1472.2,1583.5 L1470.7,1583.3 L1469.1,1583.0 L1467.6,1582.7 L1466.1,1582.3 L1464.6,1581.9 L1463.1,1581.5 L1461.7,1581.0 L1460.2,1580.5 L1458.8,1580.0 L1457.4,1579.4 L1456.0,1578.8 L1454.7,1578.1 L1453.3,1577.4 L1452.0,1576.7 L1450.7,1575.9 L1449.4,1575.1 L1448.1,1574.3 L1446.9,1573.4 L1445.6,1572.5 L1444.4,1571.6 L1443.3,1570.6 L1442.1,1569.6 L1441.0,1568.6 L1439.9,1567.5 L1438.8,1566.4 L1437.7,1565.2 L1436.7,1564.1 L1435.7,1562.9 L1434.7,1561.6 L1433.7,1560.4 L1432.8,1559.1 L1431.9,1557.8 L1431.0,1556.4 L1430.1,1555.0 L1429.3,1553.6 L1428.5,1552.2 L1427.7,1550.7 L1427.0,1549.2 L1426.3,1547.7 L1425.6,1546.1 L1424.9,1544.6 L1424.3,1542.9 L1423.7,1541.3 L1423.1,1539.7 L1422.5,1538.0 L1422.0,1536.3 L1421.5,1534.6 L1421.1,1532.8 L1420.6,1531.0 L1420.2,1529.3 L1419.8,1527.4 L1419.5,1525.6 L1419.2,1523.8 L1418.9,1521.9 L1418.7,1520.0 L1418.4,1518.1 L1418.2,1516.2 L1418.1,1514.2 L1418.0,1512.2 L1417.9,1510.3 L1417.8,1508.3 L1417.7,1506.3 L1417.7,1504.2 L1417.8,1502.2 L1417.8,1500.2 L1417.9,1498.1 L1418.0,1496.0 L1418.1,1493.9 L1418.3,1491.9 L1418.5,1489.7 L1418.8,1487.6 L1419.0,1485.5 L1419.3,1483.4 L1419.6,1481.3 L1420.0,1479.1 L1420.4,1477.0 L1420.8,1474.8 L1421.2,1472.6 L1421.7,1470.5 L1422.2,1468.3 L1422.8,1466.2 L1423.3,1464.0 L1423.9,1461.8 L1424.5,1459.6 L1425.2,1457.5 L1425.9,1455.3 L1426.6,1453.1 L1427.3,1451.0 L1428.0,1448.8 L1428.8,1446.6 L1429.7,1444.5 L1430.5,1442.3 L1431.4,1440.2 L1432.3,1438.0 L1433.2,1435.9 L1434.1,1433.8 L1435.1,1431.7 L1436.1,1429.5 L1437.1,1427.4 L1438.2,1425.3 L1439.2,1423.3 L1440.3,1421.2 L1441.4,1419.1 L1442.6,1417.1 L1443.8,1415.1 L1444.9,1413.0 L1446.2,1411.0 L1447.4,1409.0 L1448.6,1407.1 L1449.9,1405.1 L1451.2,1403.2 L1452.5,1401.2 L1453.9,1399.3 L1455.2,1397.4 L1456.6,1395.6 L1458.0,1393.7 L1459.4,1391.9 L1460.8,1390.1 L1462.3,1388.3 L1463.7,1386.5 L1465.2,1384.8 L1466.7,1383.1 L1468.2,1381.4 L1469.8,1379.7 L1471.3,1378.0 L1472.9,1376.4 L1474.4,1374.8 L1476.0,1373.2 L1477.6,1371.7 L1479.2,1370.2 L1480.8,1368.7 L1482.5,1367.2 L1484.1,1365.8 L1485.8,1364.4 L1487.4,1363.0 L1489.1,1361.7 L1490.8,1360.3 L1492.5,1359.0 L1494.2,1357.8 L1495.9,1356.6 L1497.6,1355.4 L1499.3,1354.2 L1501.0,1353.1 L1502.8,1352.0 L1504.5,1350.9 L1506.2,1349.9 L1508.0,1348.9 L1509.7,1347.9 L1511.5,1347.0 L1513.2,1346.1 L1515.0,1345.2 L1516.7,1344.4 L1518.5,1343.6 L1520.2,1342.8 L1522.0,1342.1 L1523.7,1341.4 L1525.5,1340.8 L1527.2,1340.2 L1529.0,1339.6 L1530.7,1339.0 L1532.4,1338.5 L1534.2,1338.1 L1535.9,1337.6 L1537.6,1337.2 L1539.3,1336.9 L1541.0,1336.6 L1542.7,1336.3 L1544.4,1336.0 L1546.1,1335.8 L1547.8,1335.7 L1549.5,1335.5 L1551.1,1335.4 L1552.8,1335.4 L1554.4,1335.4 L1556.0,1335.4 L1557.7,1335.5 L1559.3,1335.6 L1560.8,1335.7 L1562.4,1335.9 L1564.0,1336.1 L1565.5,1336.3 L1567.1,1336.6 L1568.6,1336.9 L1570.1,1337.3 L1571.6,1337.7 L1573.1,1338.1 L1574.5,1338.6 L1576.0,1339.1 L1577.4,1339.7 L1578.8,1340.2 L1580.2,1340.9 L1581.5,1341.5 L1582.9,1342.2 L1584.2,1342.9 L1585.5,1343.7 L1586.8,1344.5 L1588.1,1345.3 L1589.3,1346.2 L1590.6,1347.1 L1591.8,1348.0 L1592.9,1349.0 L1594.1,1350.0 L1595.2,1351.1 L1596.3,1352.1 L1597.4,1353.2 L1598.5,1354.4 L1599.5,1355.5 L1600.5,1356.8 L1601.5,1358.0 L1602.5,1359.2 L1603.4,1360.5 L1604.3,1361.9 L1605.2,1363.2 L1606.1,1364.6 L1606.9,1366.0 L1607.7,1367.5 L1608.5,1368.9 L1609.2,1370.4 L1609.9,1371.9 L1610.6,1373.5 L1611.3,1375.1 L1611.9,1376.7 L1612.5,1378.3 L1613.1,1380.0 L1613.7,1381.6 L1614.2,1383.3 L1614.7,1385.1 L1615.1,1386.8 L1615.6,1388.6 L1616.0,1390.4 L1616.4,1392.2 L1616.7,1394.0 L1617.0,1395.9 L1617.3,1397.7 L1617.5,1399.6 L1617.8,1401.5 L1618.0,1403.5 L1618.1,1405.4 L1618.3,1407.4 L1618.4,1409.4 L1618.4,1411.4 L1618.5,1413.4 L1618.5,1415.4 L1618.5,1417.4 L1618.4,1419.5 L1618.3,1421.5 L1618.2,1423.6 L1618.1,1425.7 L1617.9,1427.8 L1617.7,1429.9 L1617.4,1432.0 L1617.2,1434.1 L1616.9,1436.2 L1616.6,1438.4 L1616.2,1440.5 L1615.8,1442.7 L1615.4,1444.8 L1615.0,1447.0 L1614.5,1449.1 L1614.0,1451.3 L1613.4,1453.5 L1612.9,1455.6 L1612.3,1457.8 L1611.7,1460.0 L1611.0,1462.2 L1610.4,1464.3 L1609.6,1466.5 L1608.9,1468.7 L1608.2,1470.8 L1607.4,1473.0 L1606.6,1475.2 L1605.7,1477.3 L1604.8,1479.5 L1603.9,1481.6 L1603.0,1483.7 L1602.1,1485.9 L1601.1,1488.0 L1600.1,1490.1 L1599.1,1492.2 L1598.0,1494.3 L1597.0,1496.4 L1595.9,1498.4 L1594.8,1500.5Z" fill="url(#gR12)" fill-rule="evenodd"/><path d="M1414.9,1482.3 L1415.6,1478.1 L1416.4,1473.8 L1417.4,1469.6 L1418.4,1465.3 L1419.6,1461.1 L1420.8,1456.8 L1422.2,1452.5 L1423.7,1448.3 L1425.2,1444.0 L1426.9,1439.8 L1428.7,1435.6 L1430.5,1431.4 L1432.5,1427.2 L1434.6,1423.1 L1436.7,1419.0 L1438.9,1415.0 L1441.2,1411.0 L1443.6,1407.1 L1446.1,1403.2 L1448.6,1399.4 L1451.3,1395.7 L1454.0,1392.0 L1456.7,1388.4 L1459.6,1384.8 L1462.5,1381.4 L1465.4,1378.0 L1468.4,1374.7 L1471.5,1371.5 L1474.6,1368.4 L1477.8,1365.4 L1481.0,1362.5 L1484.2,1359.7 L1487.5,1357.1 L1490.8,1354.5 L1494.1,1352.0 L1497.5,1349.7 L1500.9,1347.4 L1504.3,1345.3 L1507.7,1343.3 L1511.1,1341.5 L1514.6,1339.7 L1518.0,1338.1 L1521.5,1336.7 L1524.9,1335.3 L1528.3,1334.1 L1531.8,1333.0 L1535.2,1332.1 L1538.6,1331.3 L1541.9,1330.6 L1545.3,1330.1 L1548.6,1329.7 L1551.9,1329.4 L1555.1,1329.3 L1558.3,1329.4 L1561.5,1329.5 L1564.6,1329.8 L1567.6,1330.3 L1570.7,1330.9 L1573.6,1331.6 L1576.5,1332.5 L1579.3,1333.5 L1582.1,1334.6 L1584.8,1335.9 L1587.4,1337.3 L1590.0,1338.8 L1592.5,1340.5 L1594.9,1342.2 L1597.2,1344.2 L1599.4,1346.2 L1601.6,1348.4 L1603.6,1350.6 L1605.6,1353.0 L1607.4,1355.5 L1609.2,1358.2 L1610.9,1360.9 L1612.5,1363.7 L1613.9,1366.7 L1615.3,1369.7 L1616.6,1372.9 L1617.7,1376.1" fill="none" stroke="#5e5e5e" stroke-width="9" stroke-linecap="round" opacity="0.75"/><path d="M1416.1,1502.9 L1416.2,1498.5 L1416.5,1494.0 L1417.0,1489.4 L1417.5,1484.9 L1418.2,1480.2 L1419.1,1475.6 L1420.1,1470.9 L1421.2,1466.3 L1422.4,1461.6 L1423.8,1456.9 L1425.3,1452.2 L1426.9,1447.5 L1428.7,1442.9 L1430.6,1438.2 L1432.6,1433.6 L1434.7,1429.0 L1437.0,1424.5 L1439.3,1420.0 L1441.8,1415.6 L1444.3,1411.2 L1447.0,1406.9 L1449.8,1402.7 L1452.6,1398.6 L1455.6,1394.5 L1458.6,1390.5 L1461.7,1386.7 L1464.9,1382.9 L1468.2,1379.2 L1471.5,1375.6 L1474.9,1372.2 L1478.4,1368.9 L1481.9,1365.7 L1485.4,1362.6 L1489.0,1359.7 L1492.7,1356.9 L1496.4,1354.2 L1500.1,1351.7 L1503.8,1349.3 L1507.6,1347.1 L1511.4,1345.1 L1515.1,1343.2 L1518.9,1341.4 L1522.7,1339.9 L1526.5,1338.5 L1530.2,1337.2 L1534.0,1336.1 L1537.7,1335.2 L1541.4,1334.5 L1545.1,1334.0 L1548.7,1333.6 L1552.3,1333.4 L1555.8,1333.3 L1559.3,1333.4 L1562.8,1333.8 L1566.1,1334.2 L1569.4,1334.9 L1572.7,1335.7 L1575.8,1336.7 L1578.9,1337.9 L1581.9,1339.2 L1584.8,1340.7 L1587.6,1342.4 L1590.4,1344.2 L1593.0,1346.2 L1595.5,1348.3 L1597.9,1350.6 L1600.2,1353.1 L1602.4,1355.7 L1604.5,1358.4 L1606.4,1361.3 L1608.3,1364.3 L1610.0,1367.4 L1611.6,1370.7 L1613.0,1374.1 L1614.3,1377.6 L1615.5,1381.2 L1616.6,1384.9 L1617.5,1388.8 L1618.3,1392.7 L1618.9,1396.7" fill="none" stroke="#333" stroke-width="2.2" opacity="0.8"/><path d="M1620.7,1437.5 L1619.9,1441.7 L1619.1,1445.9 L1618.2,1450.1 L1617.1,1454.3 L1616.0,1458.6 L1614.7,1462.8 L1613.4,1467.1 L1611.9,1471.3 L1610.3,1475.5 L1608.7,1479.7 L1606.9,1483.9 L1605.1,1488.0 L1603.1,1492.2 L1601.1,1496.3 L1599.0,1500.3 L1596.8,1504.3 L1594.5,1508.3 L1592.1,1512.2 L1589.6,1516.0 L1587.1,1519.8 L1584.5,1523.6 L1581.8,1527.2 L1579.1,1530.8 L1576.3,1534.3 L1573.4,1537.7 L1570.4,1541.1 L1567.5,1544.3 L1564.4,1547.5 L1561.3,1550.6 L1558.2,1553.6 L1555.0,1556.5 L1551.8,1559.2 L1548.5,1561.9 L1545.2,1564.5 L1541.9,1566.9 L1538.6,1569.2 L1535.2,1571.4 L1531.8,1573.5 L1528.4,1575.5 L1525.0,1577.4 L1521.6,1579.1 L1518.2,1580.7 L1514.8,1582.2 L1511.3,1583.5 L1507.9,1584.7 L1504.5,1585.8 L1501.1,1586.7 L1497.8,1587.5 L1494.4,1588.2 L1491.1,1588.7 L1487.8,1589.1 L1484.6,1589.3 L1481.3,1589.4 L1478.2,1589.4 L1475.0,1589.2 L1471.9,1588.9 L1468.9,1588.5 L1465.9,1587.9 L1463.0,1587.2 L1460.1,1586.3 L1457.3,1585.3 L1454.5,1584.2 L1451.8,1582.9 L1449.2,1581.6 L1446.7,1580.0 L1444.2,1578.4 L1441.8,1576.6 L1439.5,1574.7 L1437.3,1572.7 L1435.2,1570.5 L1433.2,1568.3 L1431.2,1565.9 L1429.4,1563.4 L1427.6,1560.8 L1425.9,1558.1 L1424.4,1555.3 L1422.9,1552.3 L1421.5,1549.3 L1420.3,1546.2 L1419.1,1543.0" fill="none" stroke="#a8a8a8" stroke-width="8" stroke-linecap="round" opacity="0.6"/><path d="M1622.5,1518.9 L1619.1,1524.7 L1615.5,1530.5 L1611.9,1536.2 L1608.0,1541.7 L1604.1,1547.1 L1600.0,1552.4 L1595.8,1557.6 L1591.5,1562.6 L1587.1,1567.5 L1582.6,1572.2 L1578.0,1576.7 L1573.4,1581.1 L1568.6,1585.3 L1563.8,1589.3 L1559.0,1593.1 L1554.1,1596.7 L1549.1,1600.1 L1544.1,1603.2 L1539.1,1606.2 L1534.0,1609.0 L1529.0,1611.5 L1523.9,1613.8 L1518.8,1615.9 L1513.8,1617.7 L1508.8,1619.3 L1503.8,1620.7 L1498.8,1621.8 L1493.9,1622.7 L1489.0,1623.3 L1484.1,1623.7 L1479.4,1623.9 L1474.7,1623.8 L1470.1,1623.4 L1465.5,1622.8 L1461.1,1622.0 L1456.8,1620.9 L1452.5,1619.6 L1448.4,1618.0 L1444.4,1616.2 L1440.6,1614.1 L1436.8,1611.9 L1433.2,1609.4 L1429.7,1606.7 L1426.4,1603.7 L1423.3,1600.6 L1420.3,1597.2 L1417.4,1593.6 L1414.7,1589.8 L1412.2,1585.9 L1409.9,1581.7 L1407.7,1577.4 L1405.8,1572.9 L1404.0,1568.2 L1402.4,1563.3 L1401.0,1558.3 L1399.8,1553.2 L1398.7,1547.9 L1397.9,1542.5 L1397.3,1537.0 L1396.8,1531.4 L1396.6,1525.6 L1396.6,1519.8 L1396.7,1513.9 L1397.1,1507.9 L1397.6,1501.8 L1398.4,1495.7 L1399.3,1489.5 L1400.5,1483.3 L1401.8,1477.0 L1403.4,1470.8 L1405.1,1464.5 L1407.0,1458.2 L1409.1,1451.9 L1411.3,1445.7 L1413.8,1439.5 L1416.4,1433.3 L1419.2,1427.1 L1422.1,1421.1 L1425.2,1415.1 L1428.5,1409.1 L1431.9,1403.3 L1435.5,1397.5 L1439.1,1391.8 L1443.0,1386.3 L1446.9,1380.9 L1451.0,1375.6 L1455.2,1370.4 L1459.5,1365.4 L1463.9,1360.5 L1468.4,1355.8 L1473.0,1351.3 L1477.6,1346.9 L1482.4,1342.7 L1487.2,1338.7 L1492.0,1334.9 L1496.9,1331.3 L1501.9,1327.9 L1506.9,1324.8 L1511.9,1321.8 L1517.0,1319.0 L1522.0,1316.5 L1527.1,1314.2 L1532.2,1312.1 L1537.2,1310.3 L1542.2,1308.7 L1547.2,1307.3 L1552.2,1306.2 L1557.1,1305.3 L1562.0,1304.7 L1566.9,1304.3 L1571.6,1304.1 L1576.3,1304.2 L1580.9,1304.6 L1585.5,1305.2 L1589.9,1306.0 L1594.2,1307.1 L1598.5,1308.4 L1602.6,1310.0 L1606.6,1311.8 L1610.4,1313.9 L1614.2,1316.1 L1617.8,1318.6 L1621.3,1321.3 L1624.6,1324.3 L1627.7,1327.4 L1630.7,1330.8 L1633.6,1334.4 L1636.3,1338.2 L1638.8,1342.1 L1641.1,1346.3 L1643.3,1350.6 L1645.2,1355.1 L1647.0,1359.8 L1648.6,1364.7 L1650.0,1369.7 L1651.2,1374.8 L1652.3,1380.1 L1653.1,1385.5 L1653.7,1391.0 L1654.2,1396.6 L1654.4,1402.4 L1654.4,1408.2 L1654.3,1414.1 L1653.9,1420.1 L1653.4,1426.2 L1652.6,1432.3 L1651.7,1438.5 L1650.5,1444.7 L1649.2,1451.0 L1647.6,1457.2 L1645.9,1463.5 L1644.0,1469.8 L1641.9,1476.1 L1639.7,1482.3 L1637.2,1488.5 L1634.6,1494.7 L1631.8,1500.9 L1628.9,1506.9 L1625.8,1512.9 L1622.5,1518.9" fill="none" stroke="#666" stroke-width="1.8"/><path d="M1442.4,1610.9 L1439.0,1608.8 L1435.7,1606.6 L1432.5,1604.1 L1429.4,1601.5 L1426.5,1598.7 L1423.7,1595.6 L1421.0,1592.5 L1418.5,1589.1 L1416.1,1585.6 L1413.9,1581.9 L1411.8,1578.1 L1409.9,1574.1 L1408.1,1569.9 L1406.5,1565.6 L1405.0,1561.2 L1403.7,1556.6 L1402.6,1552.0 L1401.7,1547.2 L1400.9,1542.3 L1400.2,1537.2 L1399.8,1532.1 L1399.5,1526.9 L1399.3,1521.6 L1399.4,1516.3 L1399.6,1510.8 L1400.0,1505.3 L1400.5,1499.8 L1401.3,1494.2 L1402.1,1488.5 L1403.2,1482.8 L1404.4,1477.1 L1405.8,1471.4 L1407.3,1465.7 L1409.0,1460.0 L1410.9,1454.2 L1412.9,1448.5 L1415.1,1442.8 L1417.4,1437.2 L1419.8,1431.5 L1422.4,1425.9 L1425.2,1420.4 L1428.0,1414.9 L1431.0,1409.5 L1434.1,1404.2 L1437.4,1398.9 L1440.8,1393.8 L1444.2,1388.7 L1447.8,1383.7 L1451.5,1378.9 L1455.3,1374.1 L1459.2,1369.5 L1463.2,1365.0 L1467.3,1360.6 L1471.4,1356.4 L1475.6,1352.3 L1479.9,1348.4 L1484.2,1344.6 L1488.6,1341.0 L1493.1,1337.5 L1497.6,1334.2 L1502.1,1331.1 L1506.7,1328.2 L1511.2,1325.4 L1515.8,1322.9 L1520.5,1320.5 L1525.1,1318.3 L1529.7,1316.3 L1534.3,1314.5 L1538.9,1312.9 L1543.5,1311.6 L1548.1,1310.4 L1552.6,1309.4 L1557.1,1308.6 L1561.6,1308.1 L1566.0,1307.7 L1570.3,1307.6 L1574.6,1307.7 L1578.8,1308.0 L1583.0,1308.4 L1587.1,1309.1 L1591.1,1310.1 L1595.0,1311.2 L1598.8,1312.5 L1602.5,1314.0 L1606.1,1315.7 L1609.6,1317.7 L1613.0,1319.8 L1616.3,1322.1 L1619.4,1324.6 L1622.4,1327.3 L1625.3,1330.2 L1628.1,1333.2 L1630.7,1336.5 L1633.2,1339.9 L1635.5,1343.5 L1637.7,1347.2 L1639.8,1351.1 L1641.6,1355.1 L1643.4,1359.3 L1644.9,1363.6" fill="none" stroke="#a9a9a9" stroke-width="1.8"/><clipPath id="cpR12"><path d="M1622.0,1518.6 L1620.5,1521.2 L1619.0,1523.8 L1617.4,1526.3 L1615.9,1528.9 L1614.3,1531.4 L1612.6,1533.9 L1611.0,1536.4 L1609.3,1538.8 L1607.6,1541.3 L1605.9,1543.7 L1604.1,1546.1 L1602.3,1548.4 L1600.5,1550.8 L1598.7,1553.1 L1596.8,1555.4 L1595.0,1557.6 L1593.1,1559.9 L1591.2,1562.1 L1589.2,1564.2 L1587.3,1566.4 L1585.3,1568.5 L1583.3,1570.6 L1581.3,1572.6 L1579.3,1574.6 L1577.2,1576.6 L1575.2,1578.5 L1573.1,1580.4 L1571.0,1582.3 L1568.9,1584.1 L1566.8,1585.9 L1564.7,1587.7 L1562.6,1589.4 L1560.4,1591.1 L1558.2,1592.8 L1556.1,1594.4 L1553.9,1595.9 L1551.7,1597.5 L1549.5,1599.0 L1547.3,1600.4 L1545.1,1601.8 L1542.9,1603.2 L1540.7,1604.5 L1538.4,1605.8 L1536.2,1607.0 L1534.0,1608.2 L1531.7,1609.3 L1529.5,1610.4 L1527.3,1611.5 L1525.0,1612.5 L1522.8,1613.5 L1520.6,1614.4 L1518.3,1615.3 L1516.1,1616.1 L1513.9,1616.9 L1511.6,1617.6 L1509.4,1618.3 L1507.2,1619.0 L1505.0,1619.6 L1502.8,1620.1 L1500.6,1620.6 L1498.4,1621.1 L1496.2,1621.5 L1494.0,1621.8 L1491.9,1622.2 L1489.7,1622.4 L1487.6,1622.6 L1485.4,1622.8 L1483.3,1622.9 L1481.2,1623.0 L1479.1,1623.0 L1477.0,1623.0 L1475.0,1622.9 L1472.9,1622.8 L1470.9,1622.6 L1468.9,1622.4 L1466.9,1622.1 L1464.9,1621.8 L1462.9,1621.4 L1461.0,1621.0 L1459.0,1620.5 L1457.1,1620.0 L1455.3,1619.5 L1453.4,1618.9 L1451.6,1618.2 L1449.7,1617.5 L1447.9,1616.8 L1446.2,1616.0 L1444.4,1615.1 L1442.7,1614.3 L1441.0,1613.3 L1439.3,1612.4 L1437.7,1611.3 L1436.1,1610.3 L1434.5,1609.2 L1432.9,1608.0 L1431.4,1606.8 L1429.9,1605.6 L1428.4,1604.3 L1427.0,1603.0 L1425.5,1601.6 L1424.2,1600.2 L1422.8,1598.7 L1421.5,1597.2 L1420.2,1595.7 L1418.9,1594.1 L1417.7,1592.5 L1416.5,1590.8 L1415.3,1589.2 L1414.2,1587.4 L1413.1,1585.7 L1412.0,1583.9 L1411.0,1582.0 L1410.0,1580.1 L1409.1,1578.2 L1408.1,1576.3 L1407.3,1574.3 L1406.4,1572.3 L1405.6,1570.2 L1404.8,1568.1 L1404.1,1566.0 L1403.4,1563.9 L1402.7,1561.7 L1402.1,1559.5 L1401.5,1557.3 L1400.9,1555.0 L1400.4,1552.7 L1400.0,1550.4 L1399.5,1548.1 L1399.1,1545.7 L1398.8,1543.3 L1398.4,1540.9 L1398.1,1538.5 L1397.9,1536.0 L1397.7,1533.5 L1397.5,1531.0 L1397.4,1528.5 L1397.3,1525.9 L1397.3,1523.4 L1397.2,1520.8 L1397.3,1518.2 L1397.3,1515.6 L1397.4,1512.9 L1397.6,1510.3 L1397.8,1507.6 L1398.0,1504.9 L1398.3,1502.3 L1398.6,1499.6 L1398.9,1496.8 L1399.3,1494.1 L1399.7,1491.4 L1400.1,1488.7 L1400.6,1485.9 L1401.2,1483.2 L1401.7,1480.4 L1402.3,1477.6 L1403.0,1474.9 L1403.7,1472.1 L1404.4,1469.3 L1405.1,1466.6 L1405.9,1463.8 L1406.8,1461.0 L1407.6,1458.2 L1408.5,1455.5 L1409.5,1452.7 L1410.4,1449.9 L1411.4,1447.2 L1412.5,1444.4 L1413.6,1441.7 L1414.7,1438.9 L1415.8,1436.2 L1417.0,1433.4 L1418.2,1430.7 L1419.4,1428.0 L1420.7,1425.3 L1422.0,1422.6 L1423.4,1420.0 L1424.7,1417.3 L1426.1,1414.7 L1427.6,1412.0 L1429.0,1409.4 L1430.5,1406.8 L1432.0,1404.2 L1433.6,1401.7 L1435.1,1399.1 L1436.7,1396.6 L1438.4,1394.1 L1440.0,1391.6 L1441.7,1389.2 L1443.4,1386.7 L1445.1,1384.3 L1446.9,1381.9 L1448.7,1379.6 L1450.5,1377.2 L1452.3,1374.9 L1454.2,1372.6 L1456.0,1370.4 L1457.9,1368.1 L1459.8,1365.9 L1461.8,1363.8 L1463.7,1361.6 L1465.7,1359.5 L1467.7,1357.4 L1469.7,1355.4 L1471.7,1353.4 L1473.8,1351.4 L1475.8,1349.5 L1477.9,1347.6 L1480.0,1345.7 L1482.1,1343.9 L1484.2,1342.1 L1486.3,1340.3 L1488.4,1338.6 L1490.6,1336.9 L1492.8,1335.2 L1494.9,1333.6 L1497.1,1332.1 L1499.3,1330.5 L1501.5,1329.0 L1503.7,1327.6 L1505.9,1326.2 L1508.1,1324.8 L1510.3,1323.5 L1512.6,1322.2 L1514.8,1321.0 L1517.0,1319.8 L1519.3,1318.7 L1521.5,1317.6 L1523.7,1316.5 L1526.0,1315.5 L1528.2,1314.5 L1530.4,1313.6 L1532.7,1312.7 L1534.9,1311.9 L1537.1,1311.1 L1539.4,1310.4 L1541.6,1309.7 L1543.8,1309.0 L1546.0,1308.4 L1548.2,1307.9 L1550.4,1307.4 L1552.6,1306.9 L1554.8,1306.5 L1557.0,1306.2 L1559.1,1305.8 L1561.3,1305.6 L1563.4,1305.4 L1565.6,1305.2 L1567.7,1305.1 L1569.8,1305.0 L1571.9,1305.0 L1574.0,1305.0 L1576.0,1305.1 L1578.1,1305.2 L1580.1,1305.4 L1582.1,1305.6 L1584.1,1305.9 L1586.1,1306.2 L1588.1,1306.6 L1590.0,1307.0 L1592.0,1307.5 L1593.9,1308.0 L1595.7,1308.5 L1597.6,1309.1 L1599.4,1309.8 L1601.3,1310.5 L1603.1,1311.2 L1604.8,1312.0 L1606.6,1312.9 L1608.3,1313.7 L1610.0,1314.7 L1611.7,1315.6 L1613.3,1316.7 L1614.9,1317.7 L1616.5,1318.8 L1618.1,1320.0 L1619.6,1321.2 L1621.1,1322.4 L1622.6,1323.7 L1624.0,1325.0 L1625.5,1326.4 L1626.8,1327.8 L1628.2,1329.3 L1629.5,1330.8 L1630.8,1332.3 L1632.1,1333.9 L1633.3,1335.5 L1634.5,1337.2 L1635.7,1338.8 L1636.8,1340.6 L1637.9,1342.3 L1639.0,1344.1 L1640.0,1346.0 L1641.0,1347.9 L1641.9,1349.8 L1642.9,1351.7 L1643.7,1353.7 L1644.6,1355.7 L1645.4,1357.8 L1646.2,1359.9 L1646.9,1362.0 L1647.6,1364.1 L1648.3,1366.3 L1648.9,1368.5 L1649.5,1370.7 L1650.1,1373.0 L1650.6,1375.3 L1651.0,1377.6 L1651.5,1379.9 L1651.9,1382.3 L1652.2,1384.7 L1652.6,1387.1 L1652.9,1389.5 L1653.1,1392.0 L1653.3,1394.5 L1653.5,1397.0 L1653.6,1399.5 L1653.7,1402.1 L1653.7,1404.6 L1653.8,1407.2 L1653.7,1409.8 L1653.7,1412.4 L1653.6,1415.1 L1653.4,1417.7 L1653.2,1420.4 L1653.0,1423.1 L1652.7,1425.7 L1652.4,1428.4 L1652.1,1431.2 L1651.7,1433.9 L1651.3,1436.6 L1650.9,1439.3 L1650.4,1442.1 L1649.8,1444.8 L1649.3,1447.6 L1648.7,1450.4 L1648.0,1453.1 L1647.3,1455.9 L1646.6,1458.7 L1645.9,1461.4 L1645.1,1464.2 L1644.2,1467.0 L1643.4,1469.8 L1642.5,1472.5 L1641.5,1475.3 L1640.6,1478.1 L1639.6,1480.8 L1638.5,1483.6 L1637.4,1486.3 L1636.3,1489.1 L1635.2,1491.8 L1634.0,1494.6 L1632.8,1497.3 L1631.6,1500.0 L1630.3,1502.7 L1629.0,1505.4 L1627.6,1508.0 L1626.3,1510.7 L1624.9,1513.3 L1623.4,1516.0Z"/></clipPath><g clip-path="url(#cpR12)"><polygon points="1635.8,1335.0 1615.8,1353.6 1603.6,1361.9 1596.1,1369.9 1574.1,1399.5 1554.5,1379.0 1576.5,1349.4 1582.2,1339.6 1587.6,1324.2 1600.7,1298.4" fill="#4e4e4e" stroke="none" stroke-width="1" /><polygon points="1640.3,1337.5 1620.3,1356.1 1608.1,1364.4 1600.6,1372.4 1578.6,1402.0 1559.0,1381.5 1581.0,1351.9 1586.7,1342.1 1592.1,1326.7 1605.2,1300.9" fill="url(#gR12a)" stroke="none" stroke-width="1" /><polygon points="1578.6,1402.0 1559.0,1381.5 1556.0,1390.2 1571.7,1406.6" fill="#666" stroke="none" stroke-width="1" /><polygon points="1612.1,1520.9 1597.1,1509.6 1590.4,1500.4 1584.0,1496.8 1560.1,1490.8 1576.8,1451.7 1600.6,1457.7 1608.5,1457.8 1620.9,1453.4 1641.7,1451.2" fill="#4e4e4e" stroke="none" stroke-width="1" /><polygon points="1616.6,1523.4 1601.6,1512.1 1594.9,1502.9 1588.5,1499.3 1564.6,1493.3 1581.3,1454.2 1605.1,1460.2 1613.0,1460.3 1625.4,1455.9 1646.2,1453.7" fill="url(#gR12a)" stroke="none" stroke-width="1" /><polygon points="1564.6,1493.3 1581.3,1454.2 1574.2,1456.7 1560.9,1488.0" fill="#666" stroke="none" stroke-width="1" /><polygon points="1391.4,1579.6 1411.4,1561.0 1423.6,1552.7 1431.1,1544.7 1453.1,1515.1 1472.8,1535.7 1450.7,1565.3 1445.0,1575.0 1439.6,1590.4 1426.5,1616.2" fill="#4e4e4e" stroke="none" stroke-width="1" /><polygon points="1395.9,1582.1 1415.9,1563.5 1428.1,1555.2 1435.6,1547.2 1457.6,1517.6 1477.3,1538.2 1455.2,1567.8 1449.5,1577.5 1444.1,1592.9 1431.0,1618.7" fill="url(#gR12a)" stroke="none" stroke-width="1" /><polygon points="1457.6,1517.6 1477.3,1538.2 1480.2,1529.4 1464.5,1513.0" fill="#666" stroke="none" stroke-width="1" /><polygon points="1415.1,1393.7 1430.1,1405.0 1436.8,1414.3 1443.2,1417.8 1467.1,1423.8 1450.4,1463.0 1426.6,1456.9 1418.7,1456.8 1406.3,1461.2 1385.5,1463.5" fill="#4e4e4e" stroke="none" stroke-width="1" /><polygon points="1419.6,1396.2 1434.6,1407.5 1441.3,1416.8 1447.7,1420.3 1471.6,1426.3 1454.9,1465.5 1431.1,1459.4 1423.2,1459.3 1410.8,1463.7 1390.0,1466.0" fill="url(#gR12a)" stroke="none" stroke-width="1" /><polygon points="1471.6,1426.3 1454.9,1465.5 1462.0,1462.9 1475.3,1431.6" fill="#666" stroke="none" stroke-width="1" /></g>
<line x1="1243.0" y1="535.3" x2="1282.0" y2="556.7" stroke="#b9b9b9" stroke-width="4.4" />
<line x1="1075.0" y1="1104.8" x2="1114.0" y2="1126.2" stroke="#b9b9b9" stroke-width="4.4" />
<line x1="1745.0" y1="811.4" x2="1762.0" y2="820.8" stroke="#c4c4c4" stroke-width="4" />
<line x1="1762.0" y1="820.8" x2="1790.0" y2="836.2" stroke="#9a9a9a" stroke-width="3" />
<line x1="1790.0" y1="836.2" x2="1912.4" y2="903.5" stroke="#555" stroke-width="2" />
<line x1="1700.0" y1="786.7" x2="1742.0" y2="809.8" stroke="#555" stroke-width="2" />
<line x1="1243.0" y1="644.8" x2="1262.0" y2="655.1" stroke="#9c9c9c" stroke-width="3" />
<line x1="1262.0" y1="655.1" x2="1318.6" y2="686.0" stroke="#555" stroke-width="2" />
<line x1="1075.0" y1="1216.8" x2="1094.0" y2="1227.2" stroke="#9c9c9c" stroke-width="3" />
<line x1="1094.0" y1="1227.2" x2="1133.8" y2="1249.0" stroke="#555" stroke-width="2" />
<ellipse rx="15.4" ry="25.6" transform="translate(1289.0,673.0) rotate(30)" fill="none" stroke="#5c5c5c" stroke-width="3.2" />
<ellipse rx="15.4" ry="25.6" transform="translate(1115.5,1238.6) rotate(30)" fill="none" stroke="#5c5c5c" stroke-width="3.2" />
<defs><linearGradient id="bgAx" x1="1350" y1="690" x2="1330" y2="727" gradientUnits="userSpaceOnUse"><stop offset="0" stop-color="#5e5e5e"/><stop offset="0.12" stop-color="#9c9c9c"/><stop offset="0.6" stop-color="#8a8a8a"/><stop offset="1" stop-color="#6c6c6c"/></linearGradient></defs>
<ellipse rx="8.5" ry="21.0" transform="translate(1329.5,695.5) rotate(28.7)" fill="#6f6f6f" stroke="none" stroke-width="1" /><polygon points="1319.4,713.9 1444.9,782.6 1465.1,745.8 1339.6,677.1" fill="url(#bgAx)" stroke="none" stroke-width="1" /><line x1="1339.2" y1="677.7" x2="1464.7" y2="746.4" stroke="#5c5c5c" stroke-width="2.2" /><ellipse rx="7.5" ry="19.5" transform="translate(1330.5,696.0) rotate(28.7)" fill="#747474" stroke="none" stroke-width="1" /><polygon points="1319.4,713.9 1333.4,721.6 1353.6,684.8 1339.6,677.1" fill="#757575" stroke="none" stroke-width="1" /><ellipse rx="8.5" ry="21.0" transform="translate(1343.5,703.2) rotate(28.7)" fill="#8a8a8a" stroke="none" stroke-width="1" /><polygon points="1333.4,721.6 1337.0,723.5 1357.1,686.7 1353.6,684.8" fill="#8a8a8a" stroke="none" stroke-width="1" /><path d="M1529.1,768.0 C1531.6,763.5 1534.8,768.7 1538.4,772.7 C1542.1,776.6 1542.0,777.0 1542.8,782.8 C1543.6,788.6 1543.1,788.4 1541.6,794.4 C1540.0,800.4 1539.6,800.3 1536.9,805.3 C1534.2,810.2 1533.5,817.2 1531.5,813.0 C1529.4,808.9 1529.8,801.8 1529.1,789.8 C1528.5,777.7 1526.6,772.6 1529.1,768.0Z" fill="#4d4d4d" stroke="none" stroke-width="1" /><clipPath id="bcp"><path d="M1465.5,743.2 C1472.8,739.1 1473.6,739.3 1481.0,734.6 C1488.4,730.0 1489.5,730.2 1495.0,724.5 C1500.4,718.9 1499.9,719.1 1502.7,712.1 C1505.5,705.1 1502.3,699.1 1506.1,696.6 C1510.0,694.1 1511.2,699.4 1518.3,702.0 C1525.4,704.7 1529.1,703.4 1534.6,707.1 C1540.1,710.9 1540.2,711.2 1540.3,717.1 C1540.4,723.0 1537.2,722.7 1535.0,730.7 C1532.9,738.8 1533.0,740.1 1531.8,749.4 C1530.6,758.7 1530.4,757.9 1530.2,768.0 C1530.0,778.1 1530.5,772.7 1531.0,789.8 C1531.5,806.8 1531.6,813.0 1532.2,836.3 C1532.9,859.6 1532.8,850.9 1533.5,882.9 C1534.1,915.0 1534.4,930.7 1534.8,964.6 C1535.2,998.5 1535.4,999.6 1535.0,1018.4 C1534.7,1037.3 1534.8,1031.5 1533.4,1040.0 C1532.0,1048.4 1532.4,1046.7 1529.4,1052.1 C1526.4,1057.5 1526.4,1057.5 1521.3,1061.5 C1516.3,1065.5 1515.3,1065.9 1509.2,1068.2 C1503.1,1070.5 1502.8,1070.6 1497.1,1070.6 C1491.4,1070.7 1492.0,1070.4 1486.3,1068.5 C1480.6,1066.5 1478.3,1067.3 1474.2,1062.8 C1470.2,1058.4 1471.5,1058.5 1470.2,1050.7 C1468.8,1043.0 1469.5,1045.0 1468.8,1031.9 C1468.2,1018.8 1468.2,1015.1 1467.5,998.2 C1466.8,981.4 1467.5,981.1 1466.1,964.6 C1464.8,948.1 1465.1,948.4 1462.1,932.3 C1459.1,916.1 1458.4,913.8 1454.0,900.0 C1449.7,886.2 1449.7,886.9 1444.6,877.1 C1439.6,867.3 1438.3,866.1 1433.8,861.0 C1429.3,855.8 1430.2,860.0 1426.6,856.5 C1423.1,853.1 1422.8,852.6 1419.7,847.2 C1416.6,841.8 1416.6,840.4 1414.2,834.8 C1411.9,829.2 1409.2,829.7 1410.3,824.7 C1411.5,819.6 1414.0,819.8 1418.9,814.6 C1423.7,809.4 1426.1,809.9 1429.8,803.7 C1433.4,797.5 1434.8,795.2 1433.6,789.8 C1432.5,784.3 1426.1,787.4 1425.1,782.0 C1424.1,776.6 1426.3,774.2 1429.8,768.0 C1433.2,761.8 1433.6,761.4 1439.1,757.1 C1444.5,752.9 1444.9,754.4 1451.5,750.9 C1458.1,747.4 1458.1,747.2 1465.5,743.2Z"/></clipPath><path d="M1465.5,743.2 C1472.8,739.1 1473.6,739.3 1481.0,734.6 C1488.4,730.0 1489.5,730.2 1495.0,724.5 C1500.4,718.9 1499.9,719.1 1502.7,712.1 C1505.5,705.1 1502.3,699.1 1506.1,696.6 C1510.0,694.1 1511.2,699.4 1518.3,702.0 C1525.4,704.7 1529.1,703.4 1534.6,707.1 C1540.1,710.9 1540.2,711.2 1540.3,717.1 C1540.4,723.0 1537.2,722.7 1535.0,730.7 C1532.9,738.8 1533.0,740.1 1531.8,749.4 C1530.6,758.7 1530.4,757.9 1530.2,768.0 C1530.0,778.1 1530.5,772.7 1531.0,789.8 C1531.5,806.8 1531.6,813.0 1532.2,836.3 C1532.9,859.6 1532.8,850.9 1533.5,882.9 C1534.1,915.0 1534.4,930.7 1534.8,964.6 C1535.2,998.5 1535.4,999.6 1535.0,1018.4 C1534.7,1037.3 1534.8,1031.5 1533.4,1040.0 C1532.0,1048.4 1532.4,1046.7 1529.4,1052.1 C1526.4,1057.5 1526.4,1057.5 1521.3,1061.5 C1516.3,1065.5 1515.3,1065.9 1509.2,1068.2 C1503.1,1070.5 1502.8,1070.6 1497.1,1070.6 C1491.4,1070.7 1492.0,1070.4 1486.3,1068.5 C1480.6,1066.5 1478.3,1067.3 1474.2,1062.8 C1470.2,1058.4 1471.5,1058.5 1470.2,1050.7 C1468.8,1043.0 1469.5,1045.0 1468.8,1031.9 C1468.2,1018.8 1468.2,1015.1 1467.5,998.2 C1466.8,981.4 1467.5,981.1 1466.1,964.6 C1464.8,948.1 1465.1,948.4 1462.1,932.3 C1459.1,916.1 1458.4,913.8 1454.0,900.0 C1449.7,886.2 1449.7,886.9 1444.6,877.1 C1439.6,867.3 1438.3,866.1 1433.8,861.0 C1429.3,855.8 1430.2,860.0 1426.6,856.5 C1423.1,853.1 1422.8,852.6 1419.7,847.2 C1416.6,841.8 1416.6,840.4 1414.2,834.8 C1411.9,829.2 1409.2,829.7 1410.3,824.7 C1411.5,819.6 1414.0,819.8 1418.9,814.6 C1423.7,809.4 1426.1,809.9 1429.8,803.7 C1433.4,797.5 1434.8,795.2 1433.6,789.8 C1432.5,784.3 1426.1,787.4 1425.1,782.0 C1424.1,776.6 1426.3,774.2 1429.8,768.0 C1433.2,761.8 1433.6,761.4 1439.1,757.1 C1444.5,752.9 1444.9,754.4 1451.5,750.9 C1458.1,747.4 1458.1,747.2 1465.5,743.2Z" fill="#8c8c8c"/><g clip-path="url(#bcp)"><polygon points="1445.3,737.0 1554.0,673.3 1554.0,758.7 1481.8,783.9 1471.7,761.8" fill="#a2a2a2" stroke="none" stroke-width="1" /><path d="M1506.1,695.0 C1509.7,693.8 1510.5,698.1 1518.3,701.2 C1526.0,704.3 1529.1,702.5 1535.3,706.7 C1541.6,710.8 1542.4,712.4 1541.6,716.8 C1540.7,721.1 1538.9,723.4 1532.2,723.0 C1525.6,722.6 1524.0,719.8 1516.7,715.2 C1509.5,710.7 1507.9,711.3 1505.1,705.9 C1502.2,700.5 1502.6,696.3 1506.1,695.0Z" fill="#8d8d8d" stroke="none" stroke-width="1" /><path d="M1541.6,715.2 C1542.6,717.3 1538.6,721.6 1536.1,730.7 C1533.6,739.9 1533.8,739.4 1532.2,749.4 C1530.7,759.3 1532.9,764.1 1530.4,768.0 C1527.9,771.9 1524.1,770.8 1522.9,764.1 C1521.8,757.5 1523.5,754.1 1526.0,743.2 C1528.5,732.2 1528.1,730.4 1532.2,723.0 C1536.4,715.5 1540.5,713.1 1541.6,715.2Z" fill="#858585" stroke="none" stroke-width="1" /><path d="M1451.5,750.9 C1461.3,749.5 1464.6,754.1 1471.7,761.8 C1478.7,769.5 1479.6,773.7 1481.8,783.9 C1483.9,794.0 1485.9,793.8 1481.0,805.3 C1476.1,816.8 1469.9,822.7 1460.8,833.2 C1451.7,843.7 1450.1,844.9 1442.2,850.3 C1434.2,855.7 1434.1,862.5 1426.6,856.5 C1419.2,850.5 1408.7,840.3 1410.3,824.7 C1412.0,809.1 1430.2,799.7 1433.6,789.8 C1437.1,779.8 1426.0,787.1 1425.1,782.0 C1424.2,776.9 1423.6,775.3 1429.8,768.0 C1435.9,760.8 1441.7,752.4 1451.5,750.9Z" fill="#9b9b9b" stroke="none" stroke-width="1" /><path d="M1434.4,786.6 C1440.4,784.2 1446.7,784.8 1454.6,789.8 C1462.5,794.7 1463.1,797.8 1463.9,805.3 C1464.7,812.7 1464.3,816.0 1457.7,817.7 C1451.1,819.4 1445.9,816.5 1439.1,811.5 C1432.2,806.5 1433.3,805.7 1432.1,799.1 C1430.8,792.4 1428.4,789.1 1434.4,786.6Z" fill="#8a8a8a" stroke="none" stroke-width="1" /><path d="M1481.8,781.2 C1482.8,774.8 1493.3,774.7 1496.5,772.7 C1499.7,770.7 1510.3,764.0 1513.6,761.0 C1516.9,758.1 1525.9,745.0 1529.9,743.2 C1533.9,741.4 1551.6,722.5 1554.0,743.2 C1556.4,763.9 1553.9,927.9 1554.0,950.0 C1554.1,972.1 1554.9,951.0 1555.0,964.6 C1555.1,978.2 1561.2,1073.6 1555.0,1085.7 C1548.7,1097.8 1498.8,1091.1 1492.4,1085.7 C1486.0,1080.3 1491.4,1041.3 1491.0,1031.9 C1490.7,1022.5 1489.5,1000.9 1489.0,991.5 C1488.5,982.1 1487.1,949.8 1486.3,937.7 C1485.5,925.6 1481.0,880.5 1480.9,870.4 C1480.9,860.2 1485.9,845.3 1486.0,836.3 C1486.0,827.4 1480.7,787.6 1481.8,781.2Z" fill="#707070" stroke="none" stroke-width="1" /><path d="M1481.8,783.9 C1485.7,784.4 1486.1,821.9 1486.0,836.3 C1485.8,850.8 1480.9,853.5 1480.9,870.4 C1481.0,887.3 1485.0,917.5 1486.3,937.7 C1487.7,957.9 1488.2,975.8 1489.0,991.5 C1489.8,1007.2 1490.5,1016.2 1491.0,1031.9 C1491.6,1047.6 1497.4,1076.7 1492.4,1085.7 C1487.3,1094.7 1466.9,1105.9 1460.8,1085.7 C1454.6,1065.5 1458.3,995.5 1455.4,964.6 C1452.5,933.6 1444.9,918.8 1443.3,900.0 C1441.6,881.2 1442.1,863.0 1445.3,851.9 C1448.5,840.7 1456.3,844.6 1462.4,833.2 C1468.4,821.9 1477.8,783.3 1481.8,783.9Z" fill="#8b8b8b" stroke="none" stroke-width="1" /><path d="M1433.8,861.0 C1433.2,866.0 1439.9,868.0 1444.6,877.1 C1449.3,886.2 1449.9,887.1 1454.0,900.0 C1458.1,912.9 1459.3,917.2 1462.1,932.3 C1464.9,947.4 1464.9,949.2 1466.1,964.6 C1467.4,980.0 1466.9,982.5 1467.5,998.2 C1468.1,1013.9 1468.2,1019.6 1468.8,1031.9 C1469.5,1044.1 1468.9,1043.5 1470.2,1050.7 C1471.4,1057.9 1470.8,1058.7 1474.2,1062.8 C1477.7,1067.0 1482.8,1072.6 1485.0,1068.5 C1487.2,1064.4 1484.7,1061.7 1483.6,1045.3 C1482.5,1029.0 1482.3,1020.2 1480.3,998.2 C1478.2,976.3 1477.9,972.8 1474.9,951.1 C1471.9,929.5 1471.6,924.2 1467.5,905.4 C1463.4,886.5 1462.1,882.0 1457.4,870.4 C1452.7,858.8 1452.8,857.8 1447.3,855.6 C1441.8,853.4 1434.5,855.9 1433.8,861.0Z" fill="#737373" stroke="none" stroke-width="1" /><path d="M1447.3,855.6 C1446.2,855.6 1452.7,858.8 1457.4,870.4 C1462.1,882.0 1463.4,886.5 1467.5,905.4 C1471.6,924.2 1471.9,929.5 1474.9,951.1 C1477.9,972.8 1478.2,976.3 1480.3,998.2 C1482.3,1020.2 1481.9,1034.4 1483.6,1045.3 C1485.4,1056.3 1487.5,1056.3 1487.7,1045.3 C1487.8,1034.4 1486.3,1020.2 1484.3,998.2 C1482.3,976.3 1481.7,972.8 1478.9,951.1 C1476.1,929.5 1476.1,924.2 1472.2,905.4 C1468.3,886.5 1467.9,882.0 1462.1,870.4 C1456.3,858.8 1448.4,855.6 1447.3,855.6Z" fill="#979797" stroke="none" stroke-width="1" /><path d="M1470.2,1050.7 C1468.3,1051.0 1470.4,1058.7 1474.2,1062.8 C1478.0,1067.0 1481.0,1066.7 1486.3,1068.5 C1491.7,1070.3 1491.8,1070.7 1497.1,1070.6 C1502.4,1070.6 1503.6,1070.4 1509.2,1068.2 C1514.9,1066.1 1516.6,1065.3 1521.3,1061.5 C1526.0,1057.7 1526.6,1057.1 1529.4,1052.1 C1532.2,1047.0 1533.7,1040.3 1533.4,1040.0 C1533.1,1039.6 1532.4,1045.7 1528.0,1050.7 C1523.7,1055.8 1521.8,1058.0 1514.6,1061.5 C1507.4,1064.9 1504.6,1065.5 1497.1,1065.5 C1489.6,1065.5 1488.6,1064.9 1482.3,1061.5 C1476.0,1058.0 1472.1,1050.4 1470.2,1050.7Z" fill="#5f5f5f" stroke="none" stroke-width="1" /><path d="M1422.0,850.3 C1424.8,849.7 1442.2,853.4 1443.7,855.0 C1445.3,856.5 1434.1,859.0 1429.8,858.1 C1425.4,857.1 1419.2,850.9 1422.0,850.3Z" fill="#4a4a4a" stroke="none" stroke-width="1" /></g><ellipse rx="8.0" ry="10.5" transform="translate(1512.6,1046.7) rotate(25)" fill="#5c5c5c" stroke="none" stroke-width="1" /><ellipse rx="6.5" ry="8.8" transform="translate(1513.4,1047.3) rotate(25)" fill="#9a9a9a" stroke="none" stroke-width="1" /><g transform="translate(1529.1,692.2) rotate(28)"><rect x="-8.2" y="-13.5" width="16.4" height="27.0" rx="8.2" fill="#7c7c7c"/><rect x="-6.699999999999999" y="-12.0" width="8.2" height="24.0" rx="4.1" fill="#a0a0a0"/><rect x="-3.5999999999999996" y="-8.3" width="7.999999999999998" height="16.6" rx="3.799999999999999" fill="#fff"/></g><g transform="translate(1409.3,847.5) rotate(33)"><rect x="-8.6" y="-15" width="17.2" height="30" rx="8.6" fill="#7c7c7c"/><rect x="-7.1" y="-13.5" width="8.6" height="27" rx="4.3" fill="#a0a0a0"/><rect x="-4.0" y="-9.8" width="8.799999999999999" height="19.6" rx="4.199999999999999" fill="#fff"/></g><path d="M1398.7,757.1 C1401.2,753.0 1408.1,745.8 1412.7,743.2 C1417.2,740.6 1421.7,740.6 1425.9,741.6 C1430.0,742.7 1435.2,746.0 1437.5,749.4 C1439.8,752.7 1440.1,757.9 1439.8,761.8 C1439.6,765.7 1438.4,769.3 1436.0,772.7 C1433.5,776.0 1429.5,781.4 1425.1,782.0 C1420.7,782.6 1414.2,778.4 1409.6,776.1 C1405.0,773.8 1399.3,771.5 1397.5,768.3 C1395.6,765.2 1396.2,761.3 1398.7,757.1Z" fill="#8a8a8a" stroke="none" stroke-width="1" /><path d="M1425.9,741.6 C1429.1,739.8 1434.7,745.3 1437.5,749.4 C1440.3,753.4 1440.2,757.1 1439.8,761.8 C1439.5,766.5 1438.9,768.6 1436.0,772.7 C1433.0,776.7 1428.0,784.8 1425.1,782.0 C1422.1,779.2 1421.1,766.8 1421.2,758.7 C1421.4,750.6 1422.6,743.5 1425.9,741.6Z" fill="#9e9e9e" stroke="none" stroke-width="1" /><path d="M1401.8,758.7 C1403.7,755.3 1409.6,748.6 1412.7,747.0 C1415.8,745.5 1419.3,746.9 1420.4,749.4 C1421.6,751.8 1421.3,757.9 1419.7,761.8 C1418.0,765.7 1413.4,771.8 1410.3,772.7 C1407.2,773.6 1402.4,769.6 1401.0,767.2 C1399.6,764.9 1399.9,762.1 1401.8,758.7Z" fill="#6a6a6a" stroke="none" stroke-width="1" /><path d="M1405.7,761.0 C1407.1,758.7 1411.6,753.6 1413.4,752.5 C1415.3,751.4 1416.6,752.7 1417.0,754.3 C1417.5,756.0 1417.3,760.0 1416.1,762.6 C1414.8,765.1 1411.4,768.9 1409.6,769.6 C1407.7,770.2 1405.6,767.9 1404.9,766.5 C1404.3,765.0 1404.3,763.4 1405.7,761.0Z" fill="#999" stroke="none" stroke-width="1" /><ellipse rx="1.8" ry="2.2" transform="translate(1408.0,764.1) rotate(0)" fill="#eee" stroke="none" stroke-width="1" />
<g transform="translate(-180,561)"><ellipse rx="8.5" ry="21.0" transform="translate(1329.5,695.5) rotate(28.7)" fill="#6f6f6f" stroke="none" stroke-width="1" /><polygon points="1319.4,713.9 1444.9,782.6 1465.1,745.8 1339.6,677.1" fill="url(#lgAx)" stroke="none" stroke-width="1" /><line x1="1339.2" y1="677.7" x2="1464.7" y2="746.4" stroke="#5c5c5c" stroke-width="2.2" /><ellipse rx="7.5" ry="19.5" transform="translate(1330.5,696.0) rotate(28.7)" fill="#747474" stroke="none" stroke-width="1" /><polygon points="1319.4,713.9 1333.4,721.6 1353.6,684.8 1339.6,677.1" fill="#757575" stroke="none" stroke-width="1" /><ellipse rx="8.5" ry="21.0" transform="translate(1343.5,703.2) rotate(28.7)" fill="#8a8a8a" stroke="none" stroke-width="1" /><polygon points="1333.4,721.6 1337.0,723.5 1357.1,686.7 1353.6,684.8" fill="#8a8a8a" stroke="none" stroke-width="1" /><path d="M1529.1,768.0 C1531.6,763.5 1534.8,768.7 1538.4,772.7 C1542.1,776.6 1542.0,777.0 1542.8,782.8 C1543.6,788.6 1543.1,788.4 1541.6,794.4 C1540.0,800.4 1539.6,800.3 1536.9,805.3 C1534.2,810.2 1533.5,817.2 1531.5,813.0 C1529.4,808.9 1529.8,801.8 1529.1,789.8 C1528.5,777.7 1526.6,772.6 1529.1,768.0Z" fill="#4d4d4d" stroke="none" stroke-width="1" /><clipPath id="lcp"><path d="M1465.5,743.2 C1472.8,739.1 1473.6,739.3 1481.0,734.6 C1488.4,730.0 1489.5,730.2 1495.0,724.5 C1500.4,718.9 1499.9,719.1 1502.7,712.1 C1505.5,705.1 1502.3,699.1 1506.1,696.6 C1510.0,694.1 1511.2,699.4 1518.3,702.0 C1525.4,704.7 1529.1,703.4 1534.6,707.1 C1540.1,710.9 1540.2,711.2 1540.3,717.1 C1540.4,723.0 1537.2,722.7 1535.0,730.7 C1532.9,738.8 1533.0,740.1 1531.8,749.4 C1530.6,758.7 1530.4,757.9 1530.2,768.0 C1530.0,778.1 1530.5,772.7 1531.0,789.8 C1531.5,806.8 1531.6,813.0 1532.2,836.3 C1532.9,859.6 1532.8,850.9 1533.5,882.9 C1534.1,915.0 1534.4,930.7 1534.8,964.6 C1535.2,998.5 1535.4,999.6 1535.0,1018.4 C1534.7,1037.3 1534.8,1031.5 1533.4,1040.0 C1532.0,1048.4 1532.4,1046.7 1529.4,1052.1 C1526.4,1057.5 1526.4,1057.5 1521.3,1061.5 C1516.3,1065.5 1515.3,1065.9 1509.2,1068.2 C1503.1,1070.5 1502.8,1070.6 1497.1,1070.6 C1491.4,1070.7 1492.0,1070.4 1486.3,1068.5 C1480.6,1066.5 1478.3,1067.3 1474.2,1062.8 C1470.2,1058.4 1471.5,1058.5 1470.2,1050.7 C1468.8,1043.0 1469.5,1045.0 1468.8,1031.9 C1468.2,1018.8 1468.2,1015.1 1467.5,998.2 C1466.8,981.4 1467.5,981.1 1466.1,964.6 C1464.8,948.1 1465.1,948.4 1462.1,932.3 C1459.1,916.1 1458.4,913.8 1454.0,900.0 C1449.7,886.2 1449.7,886.9 1444.6,877.1 C1439.6,867.3 1438.3,866.1 1433.8,861.0 C1429.3,855.8 1430.2,860.0 1426.6,856.5 C1423.1,853.1 1422.8,852.6 1419.7,847.2 C1416.6,841.8 1416.6,840.4 1414.2,834.8 C1411.9,829.2 1409.2,829.7 1410.3,824.7 C1411.5,819.6 1414.0,819.8 1418.9,814.6 C1423.7,809.4 1426.1,809.9 1429.8,803.7 C1433.4,797.5 1434.8,795.2 1433.6,789.8 C1432.5,784.3 1426.1,787.4 1425.1,782.0 C1424.1,776.6 1426.3,774.2 1429.8,768.0 C1433.2,761.8 1433.6,761.4 1439.1,757.1 C1444.5,752.9 1444.9,754.4 1451.5,750.9 C1458.1,747.4 1458.1,747.2 1465.5,743.2Z"/></clipPath><path d="M1465.5,743.2 C1472.8,739.1 1473.6,739.3 1481.0,734.6 C1488.4,730.0 1489.5,730.2 1495.0,724.5 C1500.4,718.9 1499.9,719.1 1502.7,712.1 C1505.5,705.1 1502.3,699.1 1506.1,696.6 C1510.0,694.1 1511.2,699.4 1518.3,702.0 C1525.4,704.7 1529.1,703.4 1534.6,707.1 C1540.1,710.9 1540.2,711.2 1540.3,717.1 C1540.4,723.0 1537.2,722.7 1535.0,730.7 C1532.9,738.8 1533.0,740.1 1531.8,749.4 C1530.6,758.7 1530.4,757.9 1530.2,768.0 C1530.0,778.1 1530.5,772.7 1531.0,789.8 C1531.5,806.8 1531.6,813.0 1532.2,836.3 C1532.9,859.6 1532.8,850.9 1533.5,882.9 C1534.1,915.0 1534.4,930.7 1534.8,964.6 C1535.2,998.5 1535.4,999.6 1535.0,1018.4 C1534.7,1037.3 1534.8,1031.5 1533.4,1040.0 C1532.0,1048.4 1532.4,1046.7 1529.4,1052.1 C1526.4,1057.5 1526.4,1057.5 1521.3,1061.5 C1516.3,1065.5 1515.3,1065.9 1509.2,1068.2 C1503.1,1070.5 1502.8,1070.6 1497.1,1070.6 C1491.4,1070.7 1492.0,1070.4 1486.3,1068.5 C1480.6,1066.5 1478.3,1067.3 1474.2,1062.8 C1470.2,1058.4 1471.5,1058.5 1470.2,1050.7 C1468.8,1043.0 1469.5,1045.0 1468.8,1031.9 C1468.2,1018.8 1468.2,1015.1 1467.5,998.2 C1466.8,981.4 1467.5,981.1 1466.1,964.6 C1464.8,948.1 1465.1,948.4 1462.1,932.3 C1459.1,916.1 1458.4,913.8 1454.0,900.0 C1449.7,886.2 1449.7,886.9 1444.6,877.1 C1439.6,867.3 1438.3,866.1 1433.8,861.0 C1429.3,855.8 1430.2,860.0 1426.6,856.5 C1423.1,853.1 1422.8,852.6 1419.7,847.2 C1416.6,841.8 1416.6,840.4 1414.2,834.8 C1411.9,829.2 1409.2,829.7 1410.3,824.7 C1411.5,819.6 1414.0,819.8 1418.9,814.6 C1423.7,809.4 1426.1,809.9 1429.8,803.7 C1433.4,797.5 1434.8,795.2 1433.6,789.8 C1432.5,784.3 1426.1,787.4 1425.1,782.0 C1424.1,776.6 1426.3,774.2 1429.8,768.0 C1433.2,761.8 1433.6,761.4 1439.1,757.1 C1444.5,752.9 1444.9,754.4 1451.5,750.9 C1458.1,747.4 1458.1,747.2 1465.5,743.2Z" fill="#8c8c8c"/><g clip-path="url(#lcp)"><polygon points="1445.3,737.0 1554.0,673.3 1554.0,758.7 1481.8,783.9 1471.7,761.8" fill="#a2a2a2" stroke="none" stroke-width="1" /><path d="M1506.1,695.0 C1509.7,693.8 1510.5,698.1 1518.3,701.2 C1526.0,704.3 1529.1,702.5 1535.3,706.7 C1541.6,710.8 1542.4,712.4 1541.6,716.8 C1540.7,721.1 1538.9,723.4 1532.2,723.0 C1525.6,722.6 1524.0,719.8 1516.7,715.2 C1509.5,710.7 1507.9,711.3 1505.1,705.9 C1502.2,700.5 1502.6,696.3 1506.1,695.0Z" fill="#8d8d8d" stroke="none" stroke-width="1" /><path d="M1541.6,715.2 C1542.6,717.3 1538.6,721.6 1536.1,730.7 C1533.6,739.9 1533.8,739.4 1532.2,749.4 C1530.7,759.3 1532.9,764.1 1530.4,768.0 C1527.9,771.9 1524.1,770.8 1522.9,764.1 C1521.8,757.5 1523.5,754.1 1526.0,743.2 C1528.5,732.2 1528.1,730.4 1532.2,723.0 C1536.4,715.5 1540.5,713.1 1541.6,715.2Z" fill="#858585" stroke="none" stroke-width="1" /><path d="M1451.5,750.9 C1461.3,749.5 1464.6,754.1 1471.7,761.8 C1478.7,769.5 1479.6,773.7 1481.8,783.9 C1483.9,794.0 1485.9,793.8 1481.0,805.3 C1476.1,816.8 1469.9,822.7 1460.8,833.2 C1451.7,843.7 1450.1,844.9 1442.2,850.3 C1434.2,855.7 1434.1,862.5 1426.6,856.5 C1419.2,850.5 1408.7,840.3 1410.3,824.7 C1412.0,809.1 1430.2,799.7 1433.6,789.8 C1437.1,779.8 1426.0,787.1 1425.1,782.0 C1424.2,776.9 1423.6,775.3 1429.8,768.0 C1435.9,760.8 1441.7,752.4 1451.5,750.9Z" fill="#9b9b9b" stroke="none" stroke-width="1" /><path d="M1434.4,786.6 C1440.4,784.2 1446.7,784.8 1454.6,789.8 C1462.5,794.7 1463.1,797.8 1463.9,805.3 C1464.7,812.7 1464.3,816.0 1457.7,817.7 C1451.1,819.4 1445.9,816.5 1439.1,811.5 C1432.2,806.5 1433.3,805.7 1432.1,799.1 C1430.8,792.4 1428.4,789.1 1434.4,786.6Z" fill="#8a8a8a" stroke="none" stroke-width="1" /><path d="M1481.8,781.2 C1482.8,774.8 1493.3,774.7 1496.5,772.7 C1499.7,770.7 1510.3,764.0 1513.6,761.0 C1516.9,758.1 1525.9,745.0 1529.9,743.2 C1533.9,741.4 1551.6,722.5 1554.0,743.2 C1556.4,763.9 1553.9,927.9 1554.0,950.0 C1554.1,972.1 1554.9,951.0 1555.0,964.6 C1555.1,978.2 1561.2,1073.6 1555.0,1085.7 C1548.7,1097.8 1498.8,1091.1 1492.4,1085.7 C1486.0,1080.3 1491.4,1041.3 1491.0,1031.9 C1490.7,1022.5 1489.5,1000.9 1489.0,991.5 C1488.5,982.1 1487.1,949.8 1486.3,937.7 C1485.5,925.6 1481.0,880.5 1480.9,870.4 C1480.9,860.2 1485.9,845.3 1486.0,836.3 C1486.0,827.4 1480.7,787.6 1481.8,781.2Z" fill="#707070" stroke="none" stroke-width="1" /><path d="M1481.8,783.9 C1485.7,784.4 1486.1,821.9 1486.0,836.3 C1485.8,850.8 1480.9,853.5 1480.9,870.4 C1481.0,887.3 1485.0,917.5 1486.3,937.7 C1487.7,957.9 1488.2,975.8 1489.0,991.5 C1489.8,1007.2 1490.5,1016.2 1491.0,1031.9 C1491.6,1047.6 1497.4,1076.7 1492.4,1085.7 C1487.3,1094.7 1466.9,1105.9 1460.8,1085.7 C1454.6,1065.5 1458.3,995.5 1455.4,964.6 C1452.5,933.6 1444.9,918.8 1443.3,900.0 C1441.6,881.2 1442.1,863.0 1445.3,851.9 C1448.5,840.7 1456.3,844.6 1462.4,833.2 C1468.4,821.9 1477.8,783.3 1481.8,783.9Z" fill="#8b8b8b" stroke="none" stroke-width="1" /><path d="M1433.8,861.0 C1433.2,866.0 1439.9,868.0 1444.6,877.1 C1449.3,886.2 1449.9,887.1 1454.0,900.0 C1458.1,912.9 1459.3,917.2 1462.1,932.3 C1464.9,947.4 1464.9,949.2 1466.1,964.6 C1467.4,980.0 1466.9,982.5 1467.5,998.2 C1468.1,1013.9 1468.2,1019.6 1468.8,1031.9 C1469.5,1044.1 1468.9,1043.5 1470.2,1050.7 C1471.4,1057.9 1470.8,1058.7 1474.2,1062.8 C1477.7,1067.0 1482.8,1072.6 1485.0,1068.5 C1487.2,1064.4 1484.7,1061.7 1483.6,1045.3 C1482.5,1029.0 1482.3,1020.2 1480.3,998.2 C1478.2,976.3 1477.9,972.8 1474.9,951.1 C1471.9,929.5 1471.6,924.2 1467.5,905.4 C1463.4,886.5 1462.1,882.0 1457.4,870.4 C1452.7,858.8 1452.8,857.8 1447.3,855.6 C1441.8,853.4 1434.5,855.9 1433.8,861.0Z" fill="#737373" stroke="none" stroke-width="1" /><path d="M1447.3,855.6 C1446.2,855.6 1452.7,858.8 1457.4,870.4 C1462.1,882.0 1463.4,886.5 1467.5,905.4 C1471.6,924.2 1471.9,929.5 1474.9,951.1 C1477.9,972.8 1478.2,976.3 1480.3,998.2 C1482.3,1020.2 1481.9,1034.4 1483.6,1045.3 C1485.4,1056.3 1487.5,1056.3 1487.7,1045.3 C1487.8,1034.4 1486.3,1020.2 1484.3,998.2 C1482.3,976.3 1481.7,972.8 1478.9,951.1 C1476.1,929.5 1476.1,924.2 1472.2,905.4 C1468.3,886.5 1467.9,882.0 1462.1,870.4 C1456.3,858.8 1448.4,855.6 1447.3,855.6Z" fill="#979797" stroke="none" stroke-width="1" /><path d="M1470.2,1050.7 C1468.3,1051.0 1470.4,1058.7 1474.2,1062.8 C1478.0,1067.0 1481.0,1066.7 1486.3,1068.5 C1491.7,1070.3 1491.8,1070.7 1497.1,1070.6 C1502.4,1070.6 1503.6,1070.4 1509.2,1068.2 C1514.9,1066.1 1516.6,1065.3 1521.3,1061.5 C1526.0,1057.7 1526.6,1057.1 1529.4,1052.1 C1532.2,1047.0 1533.7,1040.3 1533.4,1040.0 C1533.1,1039.6 1532.4,1045.7 1528.0,1050.7 C1523.7,1055.8 1521.8,1058.0 1514.6,1061.5 C1507.4,1064.9 1504.6,1065.5 1497.1,1065.5 C1489.6,1065.5 1488.6,1064.9 1482.3,1061.5 C1476.0,1058.0 1472.1,1050.4 1470.2,1050.7Z" fill="#5f5f5f" stroke="none" stroke-width="1" /><path d="M1422.0,850.3 C1424.8,849.7 1442.2,853.4 1443.7,855.0 C1445.3,856.5 1434.1,859.0 1429.8,858.1 C1425.4,857.1 1419.2,850.9 1422.0,850.3Z" fill="#4a4a4a" stroke="none" stroke-width="1" /></g><ellipse rx="8.0" ry="10.5" transform="translate(1512.6,1046.7) rotate(25)" fill="#5c5c5c" stroke="none" stroke-width="1" /><ellipse rx="6.5" ry="8.8" transform="translate(1513.4,1047.3) rotate(25)" fill="#9a9a9a" stroke="none" stroke-width="1" /><g transform="translate(1529.1,692.2) rotate(28)"><rect x="-8.2" y="-13.5" width="16.4" height="27.0" rx="8.2" fill="#7c7c7c"/><rect x="-6.699999999999999" y="-12.0" width="8.2" height="24.0" rx="4.1" fill="#a0a0a0"/><rect x="-3.5999999999999996" y="-8.3" width="7.999999999999998" height="16.6" rx="3.799999999999999" fill="#fff"/></g><g transform="translate(1409.3,847.5) rotate(33)"><rect x="-8.6" y="-15" width="17.2" height="30" rx="8.6" fill="#7c7c7c"/><rect x="-7.1" y="-13.5" width="8.6" height="27" rx="4.3" fill="#a0a0a0"/><rect x="-4.0" y="-9.8" width="8.799999999999999" height="19.6" rx="4.199999999999999" fill="#fff"/></g><path d="M1398.7,757.1 C1401.2,753.0 1408.1,745.8 1412.7,743.2 C1417.2,740.6 1421.7,740.6 1425.9,741.6 C1430.0,742.7 1435.2,746.0 1437.5,749.4 C1439.8,752.7 1440.1,757.9 1439.8,761.8 C1439.6,765.7 1438.4,769.3 1436.0,772.7 C1433.5,776.0 1429.5,781.4 1425.1,782.0 C1420.7,782.6 1414.2,778.4 1409.6,776.1 C1405.0,773.8 1399.3,771.5 1397.5,768.3 C1395.6,765.2 1396.2,761.3 1398.7,757.1Z" fill="#8a8a8a" stroke="none" stroke-width="1" /><path d="M1425.9,741.6 C1429.1,739.8 1434.7,745.3 1437.5,749.4 C1440.3,753.4 1440.2,757.1 1439.8,761.8 C1439.5,766.5 1438.9,768.6 1436.0,772.7 C1433.0,776.7 1428.0,784.8 1425.1,782.0 C1422.1,779.2 1421.1,766.8 1421.2,758.7 C1421.4,750.6 1422.6,743.5 1425.9,741.6Z" fill="#9e9e9e" stroke="none" stroke-width="1" /><path d="M1401.8,758.7 C1403.7,755.3 1409.6,748.6 1412.7,747.0 C1415.8,745.5 1419.3,746.9 1420.4,749.4 C1421.6,751.8 1421.3,757.9 1419.7,761.8 C1418.0,765.7 1413.4,771.8 1410.3,772.7 C1407.2,773.6 1402.4,769.6 1401.0,767.2 C1399.6,764.9 1399.9,762.1 1401.8,758.7Z" fill="#6a6a6a" stroke="none" stroke-width="1" /><path d="M1405.7,761.0 C1407.1,758.7 1411.6,753.6 1413.4,752.5 C1415.3,751.4 1416.6,752.7 1417.0,754.3 C1417.5,756.0 1417.3,760.0 1416.1,762.6 C1414.8,765.1 1411.4,768.9 1409.6,769.6 C1407.7,770.2 1405.6,767.9 1404.9,766.5 C1404.3,765.0 1404.3,763.4 1405.7,761.0Z" fill="#999" stroke="none" stroke-width="1" /><ellipse rx="1.8" ry="2.2" transform="translate(1408.0,764.1) rotate(0)" fill="#eee" stroke="none" stroke-width="1" /></g>
<defs><linearGradient id="lgAx" x1="1350" y1="690" x2="1330" y2="727" gradientUnits="userSpaceOnUse"><stop offset="0" stop-color="#5e5e5e"/><stop offset="0.12" stop-color="#9c9c9c"/><stop offset="0.6" stop-color="#8a8a8a"/><stop offset="1" stop-color="#6c6c6c"/></linearGradient></defs>
<ellipse rx="4.6" ry="11.0" transform="translate(1143.0,482.2) rotate(28.7)" fill="#5c5c5c" stroke="none" stroke-width="1" /><ellipse rx="4.4" ry="10.5" transform="translate(1145.5,483.5) rotate(28.7)" fill="#7a7a7a" stroke="none" stroke-width="1" /><polygon points="1142.6,490.6 1156.4,498.2 1163.6,484.8 1149.9,477.3" fill="#8a8a8a" stroke="none" stroke-width="1" /><line x1="1150.6" y1="478.1" x2="1163.5" y2="485.2" stroke="#5a5a5a" stroke-width="2" /><line x1="1143.7" y1="490.8" x2="1156.5" y2="497.8" stroke="#666" stroke-width="2" /><ellipse rx="3.2" ry="7.6" transform="translate(1160.0,491.5) rotate(28.7)" fill="#808080" stroke="none" stroke-width="1" />
<ellipse rx="4.6" ry="11.0" transform="translate(975.0,1052.3) rotate(28.7)" fill="#5c5c5c" stroke="none" stroke-width="1" /><ellipse rx="4.4" ry="10.5" transform="translate(977.5,1053.6) rotate(28.7)" fill="#7a7a7a" stroke="none" stroke-width="1" /><polygon points="974.6,1060.7 988.4,1068.3 995.6,1054.9 981.9,1047.4" fill="#8a8a8a" stroke="none" stroke-width="1" /><line x1="982.6" y1="1048.2" x2="995.5" y2="1055.3" stroke="#5a5a5a" stroke-width="2" /><line x1="975.7" y1="1060.9" x2="988.5" y2="1067.9" stroke="#666" stroke-width="2" /><ellipse rx="3.2" ry="7.6" transform="translate(992.0,1061.6) rotate(28.7)" fill="#808080" stroke="none" stroke-width="1" />
<path d="M1911.8,899.3 C1913.8,896.8 1915.9,897.0 1918.9,897.1 C1922.0,897.3 1923.8,896.9 1924.9,899.9 C1926.0,902.9 1926.1,907.1 1923.7,910.0 C1921.3,912.9 1917.9,912.9 1914.8,912.4 C1911.6,911.8 1910.9,910.7 1910.2,907.6 C1909.5,904.6 1909.8,901.7 1911.8,899.3Z" fill="#6f6f6f" stroke="none" stroke-width="1" />
<path d="M1937.4,888.6 C1940.6,887.4 1943.9,890.5 1946.0,892.4 C1948.0,894.3 1951.7,893.6 1949.9,899.9 C1948.1,906.2 1938.5,924.9 1935.0,930.2 C1931.5,935.6 1930.8,932.4 1929.0,932.0 C1927.3,931.6 1927.0,930.4 1924.3,927.9 C1921.6,925.3 1913.8,919.9 1913.0,916.9 C1912.2,913.9 1917.2,912.9 1919.5,910.0 C1921.8,907.1 1923.7,902.9 1926.7,899.3 C1929.6,895.7 1934.2,889.7 1937.4,888.6Z" fill="#ababab" stroke="none" stroke-width="1" />
<path d="M1937.4,888.6 C1938.4,887.2 1943.9,890.5 1946.0,892.4 C1948.0,894.3 1951.7,893.6 1949.9,899.9 C1948.1,906.2 1938.5,924.9 1935.0,930.2 C1931.5,935.6 1930.5,932.1 1929.0,932.0 C1927.6,931.9 1924.3,934.9 1926.1,929.6 C1927.9,924.4 1937.9,907.3 1939.8,900.5 C1941.6,893.6 1936.3,889.9 1937.4,888.6Z" fill="#7d7d7d" stroke="none" stroke-width="1" />
<path d="M1796.9,963.8 C1799.6,961.9 1802.5,962.1 1807.6,961.9 C1812.8,961.7 1823.9,960.1 1827.9,962.4 C1831.8,964.6 1831.1,971.9 1831.4,975.5 C1831.7,979.0 1830.8,981.0 1829.6,983.8 C1828.5,986.6 1827.0,990.4 1824.3,992.1 C1821.6,993.9 1818.7,995.7 1813.6,994.5 C1808.4,993.3 1797.0,988.6 1793.3,985.0 C1789.7,981.4 1791.0,976.6 1791.5,973.1 C1792.1,969.6 1794.2,965.7 1796.9,963.8Z" fill="#8c8c8c" stroke="none" stroke-width="1" />
<path d="M1795.7,964.8 C1797.7,963.0 1800.6,962.5 1801.7,965.4 C1802.7,968.2 1802.3,975.4 1801.1,979.0 C1799.9,982.7 1797.5,984.8 1795.7,983.8 C1793.9,982.9 1791.9,978.1 1791.9,974.3 C1791.9,970.5 1793.8,966.5 1795.7,964.8Z" fill="#b5b5b5" stroke="none" stroke-width="1" />
<path d="M1807.6,961.9 C1810.5,961.2 1824.8,961.2 1827.9,962.4 C1830.9,963.6 1833.1,970.0 1830.2,970.7 C1827.4,971.4 1809.4,968.9 1806.4,967.7 C1803.4,966.6 1804.8,962.6 1807.6,961.9Z" fill="#777" stroke="none" stroke-width="1" />
<path d="M1793.3,985.0 C1796.3,987.0 1808.4,993.3 1813.6,994.5 C1818.7,995.7 1822.1,993.3 1824.3,992.1 C1826.5,991.0 1828.7,987.9 1826.7,987.4 C1824.7,986.9 1817.5,990.0 1812.4,989.2 C1807.2,988.4 1798.9,983.3 1795.7,982.6 C1792.5,981.9 1790.4,983.0 1793.3,985.0Z" fill="#6a6a6a" stroke="none" stroke-width="1" />
<path d="M1911.2,993.3 C1913.0,990.4 1914.7,989.7 1918.3,989.2 C1921.9,988.6 1924.4,987.8 1926.7,991.0 C1928.9,994.1 1929.5,999.2 1927.9,1002.9 C1926.2,1006.5 1923.6,1006.7 1919.5,1006.4 C1915.5,1006.2 1912.5,1004.7 1910.6,1001.7 C1908.7,998.6 1909.4,996.2 1911.2,993.3Z" fill="#7a7a7a" stroke="none" stroke-width="1" />
<path d="M1927.9,986.2 C1929.8,984.0 1936.8,989.3 1941.0,992.1 C1945.1,995.0 1947.4,996.7 1948.7,1000.5 C1950.0,1004.3 1949.5,1007.5 1947.5,1011.2 C1945.5,1014.9 1942.3,1017.4 1938.6,1018.9 C1934.9,1020.5 1930.5,1022.1 1929.0,1018.9 C1927.6,1015.7 1931.7,1009.4 1931.4,1002.9 C1931.2,996.3 1926.0,988.3 1927.9,986.2Z" fill="#4a4a4a" stroke="none" stroke-width="1" />
<path d="M1919.5,1000.5 C1921.4,997.4 1929.6,996.1 1931.4,996.9 C1933.3,997.7 1933.5,1003.4 1933.2,1006.4 C1932.9,1009.4 1931.2,1017.7 1929.0,1019.5 C1926.9,1021.3 1918.4,1022.7 1917.1,1020.1 C1915.9,1017.6 1917.6,1003.6 1919.5,1000.5Z" fill="#9a9a9a" stroke="none" stroke-width="1" />
<path d="M1792.7,1061.2 C1794.5,1058.4 1796.2,1056.3 1799.3,1055.2 C1802.3,1054.1 1804.4,1053.7 1805.8,1056.4 C1807.2,1059.2 1807.3,1063.8 1805.2,1067.1 C1803.2,1070.5 1800.0,1070.7 1796.9,1070.7 C1793.8,1070.7 1792.9,1069.4 1791.9,1067.1 C1790.9,1064.9 1791.0,1064.0 1792.7,1061.2Z" fill="#707070" stroke="none" stroke-width="1" />
<path d="M1812.4,1049.3 C1816.8,1048.7 1833.3,1064.1 1832.6,1069.5 C1832.0,1075.0 1811.5,1086.9 1807.6,1090.0 C1803.8,1093.1 1805.7,1093.5 1803.6,1093.1 C1801.5,1092.7 1792.6,1089.5 1792.0,1087.0 C1791.5,1084.4 1796.6,1079.3 1799.3,1074.3 C1802.0,1069.3 1807.9,1049.9 1812.4,1049.3Z" fill="#b0b0b0" stroke="none" stroke-width="1" />
<path d="M1832.6,1069.5 C1830.1,1072.7 1811.5,1086.9 1807.6,1090.0 C1803.8,1093.1 1805.0,1093.1 1803.6,1093.1 C1802.2,1093.1 1794.0,1093.5 1797.1,1089.9 C1800.2,1086.2 1821.9,1068.7 1826.7,1066.0 C1831.4,1063.2 1835.2,1066.3 1832.6,1069.5Z" fill="#808080" stroke="none" stroke-width="1" />
<ellipse cx="344.5" cy="1401" rx="53" ry="31" fill="#fff" stroke="#3a3a3a" stroke-width="1.6"/>
<ellipse cx="344.5" cy="1405" rx="53" ry="31" fill="none" stroke="#3a3a3a" stroke-width="1.2" clip-path="inset(50% 0 0 0)"/>
<path d="M291.5,1401 v4 M397.5,1401 v4" stroke="#3a3a3a" stroke-width="1.4"/>
<path d="M291.5,1405 a53,31 0 0 0 106,0" fill="none" stroke="#3a3a3a" stroke-width="1.4"/>
<ellipse cx="345.5" cy="1391" rx="42" ry="24" fill="#fff" stroke="#3a3a3a" stroke-width="1.6"/>
<line x1="387.5" y1="1391.0" x2="387.5" y2="1399.0" stroke="#3a3a3a" stroke-width="1.2" /><line x1="387.0" y1="1394.8" x2="387.0" y2="1402.8" stroke="#3a3a3a" stroke-width="1.2" /><line x1="385.4" y1="1398.4" x2="385.4" y2="1406.4" stroke="#3a3a3a" stroke-width="1.2" /><line x1="382.9" y1="1401.9" x2="382.9" y2="1409.9" stroke="#3a3a3a" stroke-width="1.2" /><line x1="379.5" y1="1405.1" x2="379.5" y2="1413.1" stroke="#3a3a3a" stroke-width="1.2" /><line x1="375.2" y1="1408.0" x2="375.2" y2="1416.0" stroke="#3a3a3a" stroke-width="1.2" /><line x1="370.2" y1="1410.4" x2="370.2" y2="1418.4" stroke="#3a3a3a" stroke-width="1.2" /><line x1="364.6" y1="1412.4" x2="364.6" y2="1420.4" stroke="#3a3a3a" stroke-width="1.2" /><line x1="358.5" y1="1413.8" x2="358.5" y2="1421.8" stroke="#3a3a3a" stroke-width="1.2" /><line x1="352.1" y1="1414.7" x2="352.1" y2="1422.7" stroke="#3a3a3a" stroke-width="1.2" /><line x1="345.5" y1="1415.0" x2="345.5" y2="1423.0" stroke="#3a3a3a" stroke-width="1.2" /><line x1="338.9" y1="1414.7" x2="338.9" y2="1422.7" stroke="#3a3a3a" stroke-width="1.2" /><line x1="332.5" y1="1413.8" x2="332.5" y2="1421.8" stroke="#3a3a3a" stroke-width="1.2" /><line x1="326.4" y1="1412.4" x2="326.4" y2="1420.4" stroke="#3a3a3a" stroke-width="1.2" /><line x1="320.8" y1="1410.4" x2="320.8" y2="1418.4" stroke="#3a3a3a" stroke-width="1.2" /><line x1="315.8" y1="1408.0" x2="315.8" y2="1416.0" stroke="#3a3a3a" stroke-width="1.2" /><line x1="311.5" y1="1405.1" x2="311.5" y2="1413.1" stroke="#3a3a3a" stroke-width="1.2" /><line x1="308.1" y1="1401.9" x2="308.1" y2="1409.9" stroke="#3a3a3a" stroke-width="1.2" /><line x1="305.6" y1="1398.4" x2="305.6" y2="1406.4" stroke="#3a3a3a" stroke-width="1.2" /><line x1="304.0" y1="1394.8" x2="304.0" y2="1402.8" stroke="#3a3a3a" stroke-width="1.2" /><line x1="303.5" y1="1391.0" x2="303.5" y2="1399.0" stroke="#3a3a3a" stroke-width="1.2" /><line x1="304.0" y1="1387.2" x2="304.0" y2="1395.2" stroke="#3a3a3a" stroke-width="1.2" /><line x1="305.6" y1="1383.6" x2="305.6" y2="1391.6" stroke="#3a3a3a" stroke-width="1.2" /><line x1="308.1" y1="1380.1" x2="308.1" y2="1388.1" stroke="#3a3a3a" stroke-width="1.2" /><line x1="311.5" y1="1376.9" x2="311.5" y2="1384.9" stroke="#3a3a3a" stroke-width="1.2" /><line x1="315.8" y1="1374.0" x2="315.8" y2="1382.0" stroke="#3a3a3a" stroke-width="1.2" /><line x1="320.8" y1="1371.6" x2="320.8" y2="1379.6" stroke="#3a3a3a" stroke-width="1.2" /><line x1="326.4" y1="1369.6" x2="326.4" y2="1377.6" stroke="#3a3a3a" stroke-width="1.2" /><line x1="332.5" y1="1368.2" x2="332.5" y2="1376.2" stroke="#3a3a3a" stroke-width="1.2" /><line x1="338.9" y1="1367.3" x2="338.9" y2="1375.3" stroke="#3a3a3a" stroke-width="1.2" /><line x1="345.5" y1="1367.0" x2="345.5" y2="1375.0" stroke="#3a3a3a" stroke-width="1.2" /><line x1="352.1" y1="1367.3" x2="352.1" y2="1375.3" stroke="#3a3a3a" stroke-width="1.2" /><line x1="358.5" y1="1368.2" x2="358.5" y2="1376.2" stroke="#3a3a3a" stroke-width="1.2" /><line x1="364.6" y1="1369.6" x2="364.6" y2="1377.6" stroke="#3a3a3a" stroke-width="1.2" /><line x1="370.2" y1="1371.6" x2="370.2" y2="1379.6" stroke="#3a3a3a" stroke-width="1.2" /><line x1="375.2" y1="1374.0" x2="375.2" y2="1382.0" stroke="#3a3a3a" stroke-width="1.2" /><line x1="379.5" y1="1376.9" x2="379.5" y2="1384.9" stroke="#3a3a3a" stroke-width="1.2" /><line x1="382.9" y1="1380.1" x2="382.9" y2="1388.1" stroke="#3a3a3a" stroke-width="1.2" /><line x1="385.4" y1="1383.6" x2="385.4" y2="1391.6" stroke="#3a3a3a" stroke-width="1.2" /><line x1="387.0" y1="1387.2" x2="387.0" y2="1395.2" stroke="#3a3a3a" stroke-width="1.2" />
<path d="M303.5,1399 a42,24 0 0 0 84,0" fill="none" stroke="#3a3a3a" stroke-width="1.4"/>
<ellipse cx="346.5" cy="1395" rx="35" ry="18.5" fill="#fff" stroke="#3a3a3a" stroke-width="1.6"/>
<path d="M313.5,1400 a35,18.5 0 0 0 66,0" fill="none" stroke="#3a3a3a" stroke-width="1.2"/>
<path d="M444.0,1389.5 v22 a46.5,26 0 0 0 93,0 v-22" fill="#fff" stroke="#3a3a3a" stroke-width="1.6"/>
<path d="M457.5,1429.5 v6 l18,8 h30 l17,-9 v-7" fill="#fff" stroke="#3a3a3a" stroke-width="1.4"/>
<ellipse cx="490.5" cy="1389.5" rx="46.5" ry="26" fill="#fff" stroke="#3a3a3a" stroke-width="1.6"/>
<ellipse cx="490.5" cy="1390.5" rx="41" ry="22" fill="#fff" stroke="#3a3a3a" stroke-width="1.3"/>
<line x1="449.5" y1="1390.5" x2="449.5" y2="1397.5" stroke="#3a3a3a" stroke-width="1.2" /><line x1="449.8" y1="1387.8" x2="449.8" y2="1394.8" stroke="#3a3a3a" stroke-width="1.2" /><line x1="450.7" y1="1385.2" x2="450.7" y2="1392.2" stroke="#3a3a3a" stroke-width="1.2" /><line x1="452.2" y1="1382.7" x2="452.2" y2="1389.7" stroke="#3a3a3a" stroke-width="1.2" /><line x1="454.2" y1="1380.3" x2="454.2" y2="1387.3" stroke="#3a3a3a" stroke-width="1.2" /><line x1="456.8" y1="1378.0" x2="456.8" y2="1385.0" stroke="#3a3a3a" stroke-width="1.2" /><line x1="459.8" y1="1375.9" x2="459.8" y2="1382.9" stroke="#3a3a3a" stroke-width="1.2" /><line x1="463.3" y1="1374.0" x2="463.3" y2="1381.0" stroke="#3a3a3a" stroke-width="1.2" /><line x1="467.2" y1="1372.4" x2="467.2" y2="1379.4" stroke="#3a3a3a" stroke-width="1.2" /><line x1="471.4" y1="1371.0" x2="471.4" y2="1378.0" stroke="#3a3a3a" stroke-width="1.2" /><line x1="476.0" y1="1369.9" x2="476.0" y2="1376.9" stroke="#3a3a3a" stroke-width="1.2" /><line x1="480.7" y1="1369.1" x2="480.7" y2="1376.1" stroke="#3a3a3a" stroke-width="1.2" /><line x1="485.6" y1="1368.7" x2="485.6" y2="1375.7" stroke="#3a3a3a" stroke-width="1.2" /><line x1="490.5" y1="1368.5" x2="490.5" y2="1375.5" stroke="#3a3a3a" stroke-width="1.2" /><line x1="495.4" y1="1368.7" x2="495.4" y2="1375.7" stroke="#3a3a3a" stroke-width="1.2" /><line x1="500.3" y1="1369.1" x2="500.3" y2="1376.1" stroke="#3a3a3a" stroke-width="1.2" /><line x1="505.0" y1="1369.9" x2="505.0" y2="1376.9" stroke="#3a3a3a" stroke-width="1.2" /><line x1="509.6" y1="1371.0" x2="509.6" y2="1378.0" stroke="#3a3a3a" stroke-width="1.2" /><line x1="513.8" y1="1372.4" x2="513.8" y2="1379.4" stroke="#3a3a3a" stroke-width="1.2" /><line x1="517.7" y1="1374.0" x2="517.7" y2="1381.0" stroke="#3a3a3a" stroke-width="1.2" /><line x1="521.2" y1="1375.9" x2="521.2" y2="1382.9" stroke="#3a3a3a" stroke-width="1.2" /><line x1="524.2" y1="1378.0" x2="524.2" y2="1385.0" stroke="#3a3a3a" stroke-width="1.2" /><line x1="526.8" y1="1380.3" x2="526.8" y2="1387.3" stroke="#3a3a3a" stroke-width="1.2" /><line x1="528.8" y1="1382.7" x2="528.8" y2="1389.7" stroke="#3a3a3a" stroke-width="1.2" /><line x1="530.3" y1="1385.2" x2="530.3" y2="1392.2" stroke="#3a3a3a" stroke-width="1.2" /><line x1="531.2" y1="1387.8" x2="531.2" y2="1394.8" stroke="#3a3a3a" stroke-width="1.2" />
<path d="M449.5,1397.5 a41,22 0 0 0 82,0" fill="none" stroke="#3a3a3a" stroke-width="1.3"/>
<ellipse cx="490.5" cy="1398.5" rx="29" ry="14" fill="#fff" stroke="#3a3a3a" stroke-width="1.3"/>
<path d="M461.5,1403.5 a29,14 0 0 0 58,0" fill="none" stroke="#3a3a3a" stroke-width="1.2"/>
<polygon points="471.5,1398.5 490.5,1390.0 509.5,1398.5 490.5,1407.5" fill="#fff" stroke="#3a3a3a" stroke-width="1.3" />
<path d="M490.5,1390.0 v7 M490.5,1407.5 v8 M460.5,1427.5 v-12 M520.5,1427.5 v-12 M490.5,1437.5 v-14" stroke="#3a3a3a" stroke-width="1.2"/>
<circle cx="188.8" cy="660.0" r="17.6" fill="#fff" stroke="#454545" stroke-width="2.5"/><text transform="translate(188.8,671.0) scale(0.85,1)" text-anchor="middle" font-size="30.6" font-weight="bold" fill="#0c0c0c">1</text>
<circle cx="577.7" cy="637.6" r="17.6" fill="#fff" stroke="#454545" stroke-width="2.5"/><text transform="translate(577.7,648.6) scale(0.85,1)" text-anchor="middle" font-size="30.6" font-weight="bold" fill="#0c0c0c">2</text>
<circle cx="467.8" cy="744.6" r="17.6" fill="#fff" stroke="#454545" stroke-width="2.5"/><text transform="translate(467.8,755.6) scale(0.85,1)" text-anchor="middle" font-size="30.6" font-weight="bold" fill="#0c0c0c">3</text>
<circle cx="297.5" cy="964.0" r="17.6" fill="#fff" stroke="#454545" stroke-width="2.5"/><text transform="translate(297.5,975.0) scale(0.85,1)" text-anchor="middle" font-size="30.6" font-weight="bold" fill="#0c0c0c">3</text>
<circle cx="413.0" cy="1003.6" r="17.6" fill="#fff" stroke="#454545" stroke-width="2.5"/><text transform="translate(413.0,1014.6) scale(0.85,1)" text-anchor="middle" font-size="30.6" font-weight="bold" fill="#0c0c0c">4</text>
<circle cx="473.6" cy="962.0" r="17.6" fill="#fff" stroke="#454545" stroke-width="2.5"/><text transform="translate(473.6,971.9) scale(0.73,1)" text-anchor="middle" font-size="27.6" font-weight="bold" fill="#0c0c0c">15</text>
<circle cx="606.3" cy="869.5" r="17.6" fill="#fff" stroke="#454545" stroke-width="2.5"/><text transform="translate(606.3,880.5) scale(0.85,1)" text-anchor="middle" font-size="30.6" font-weight="bold" fill="#0c0c0c">6</text>
<circle cx="674.4" cy="920.8" r="17.6" fill="#fff" stroke="#454545" stroke-width="2.5"/><text transform="translate(674.4,931.8) scale(0.85,1)" text-anchor="middle" font-size="30.6" font-weight="bold" fill="#0c0c0c">8</text>
<circle cx="748.8" cy="880.5" r="17.6" fill="#fff" stroke="#454545" stroke-width="2.5"/><text transform="translate(748.8,891.5) scale(0.85,1)" text-anchor="middle" font-size="30.6" font-weight="bold" fill="#0c0c0c">7</text>
<circle cx="824.7" cy="1003.7" r="17.6" fill="#fff" stroke="#454545" stroke-width="2.5"/><text transform="translate(824.7,1014.7) scale(0.85,1)" text-anchor="middle" font-size="30.6" font-weight="bold" fill="#0c0c0c">8</text>
<circle cx="890.2" cy="1024.6" r="17.6" fill="#fff" stroke="#454545" stroke-width="2.5"/><text transform="translate(890.2,1035.6) scale(0.85,1)" text-anchor="middle" font-size="30.6" font-weight="bold" fill="#0c0c0c">9</text>
<circle cx="981.5" cy="997.1" r="17.6" fill="#fff" stroke="#454545" stroke-width="2.5"/><text transform="translate(981.5,1007.0) scale(0.73,1)" text-anchor="middle" font-size="27.6" font-weight="bold" fill="#0c0c0c">10</text>
<circle cx="1284.9" cy="738.6" r="17.6" fill="#fff" stroke="#454545" stroke-width="2.5"/><text transform="translate(1284.9,749.6) scale(0.85,1)" text-anchor="middle" font-size="30.6" font-weight="bold" fill="#0c0c0c">5</text>
<circle cx="1153.0" cy="782.0" r="17.6" fill="#fff" stroke="#454545" stroke-width="2.5"/><text transform="translate(1153.0,791.9) scale(0.73,1)" text-anchor="middle" font-size="27.6" font-weight="bold" fill="#0c0c0c">11</text>
<circle cx="1601.4" cy="539.1" r="17.6" fill="#fff" stroke="#454545" stroke-width="2.5"/><text transform="translate(1601.4,549.0) scale(0.73,1)" text-anchor="middle" font-size="27.6" font-weight="bold" fill="#0c0c0c">16</text>
<circle cx="1652.2" cy="1092.5" r="17.6" fill="#fff" stroke="#454545" stroke-width="2.5"/><text transform="translate(1652.2,1102.4) scale(0.73,1)" text-anchor="middle" font-size="27.6" font-weight="bold" fill="#0c0c0c">12</text>
<circle cx="1106.3" cy="1309.8" r="17.6" fill="#fff" stroke="#454545" stroke-width="2.5"/><text transform="translate(1106.3,1320.8) scale(0.85,1)" text-anchor="middle" font-size="30.6" font-weight="bold" fill="#0c0c0c">5</text>
<circle cx="984.8" cy="1355.0" r="17.6" fill="#fff" stroke="#454545" stroke-width="2.5"/><text transform="translate(984.8,1364.9) scale(0.73,1)" text-anchor="middle" font-size="27.6" font-weight="bold" fill="#0c0c0c">11</text>
<circle cx="1573.6" cy="1241.3" r="17.6" fill="#fff" stroke="#454545" stroke-width="2.5"/><text transform="translate(1573.6,1251.2) scale(0.73,1)" text-anchor="middle" font-size="27.6" font-weight="bold" fill="#0c0c0c">12</text>
<circle cx="344.5" cy="1316.6" r="17.6" fill="#fff" stroke="#454545" stroke-width="2.5"/><text transform="translate(344.5,1326.5) scale(0.73,1)" text-anchor="middle" font-size="27.6" font-weight="bold" fill="#0c0c0c">13</text>
<circle cx="490.4" cy="1316.2" r="17.6" fill="#fff" stroke="#454545" stroke-width="2.5"/><text transform="translate(490.4,1326.1) scale(0.73,1)" text-anchor="middle" font-size="27.6" font-weight="bold" fill="#0c0c0c">14</text>
<text x="8.3" y="685.5" font-size="19" font-weight="bold" text-anchor="start" fill="#1a1a1a" textLength="111.4" lengthAdjust="spacingAndGlyphs" >0.7 - 1.5 N·m</text>
<text x="83.9" y="835.2" font-size="19" font-weight="bold" text-anchor="start" fill="#1a1a1a" textLength="100.4" lengthAdjust="spacingAndGlyphs" >12 - 14 N·m</text>
<text x="443.5" y="1105.6" font-size="19" font-weight="bold" text-anchor="start" fill="#1a1a1a" textLength="99.6" lengthAdjust="spacingAndGlyphs" >35 - 50 N·m</text>
<text x="723.6" y="1209.0" font-size="19" font-weight="bold" text-anchor="start" fill="#1a1a1a" textLength="99.6" lengthAdjust="spacingAndGlyphs" >35 - 50 N·m</text>
<text x="753.3" y="800.4" font-size="19" font-weight="bold" text-anchor="start" fill="#1a1a1a" textLength="99.6" lengthAdjust="spacingAndGlyphs" >12 - 16 N·m</text>
<text x="894.9" y="417.8" font-size="19" font-weight="bold" text-anchor="start" fill="#1a1a1a" textLength="99" lengthAdjust="spacingAndGlyphs" >12 - 16 N·m</text>
<text x="1428.6" y="408.7" font-size="34" font-weight="bold" text-anchor="start" fill="#1a1a1a" textLength="112.4" lengthAdjust="spacingAndGlyphs" >46-36T</text>
<text x="299.7" y="1280.8" font-size="18.5" font-weight="normal" text-anchor="start" fill="#222" textLength="92" lengthAdjust="spacingAndGlyphs" >TL−FC25</text>
<text x="445.4" y="1280.8" font-size="18.5" font-weight="normal" text-anchor="start" fill="#222" textLength="91" lengthAdjust="spacingAndGlyphs" >TL−FC37</text>
<text x="325.6" y="1504.2" font-size="19" font-weight="bold" text-anchor="start" fill="#1a1a1a" textLength="156.7" lengthAdjust="spacingAndGlyphs" >Hexalobular [#30]</text>
<text x="324.8" y="1547.3" font-size="19" font-weight="bold" text-anchor="start" fill="#1a1a1a" textLength="202.4" lengthAdjust="spacingAndGlyphs" >5 mm hexagon wrench</text>
<text x="325.1" y="1591.3" font-size="19" font-weight="bold" text-anchor="start" fill="#1a1a1a" textLength="165.1" lengthAdjust="spacingAndGlyphs" >TL-FC16 / TL-FC18</text>
<polygon points="867.0,391.6 872.3,401.3 883.4,401.1 877.6,410.5 883.4,419.9 872.3,419.7 867.0,429.4 861.7,419.7 850.6,419.9 856.4,410.5 850.6,401.1 861.7,401.3" fill="#111" stroke="none" stroke-width="1" /><text transform="translate(867.0,415.9) scale(0.8,1)" text-anchor="middle" font-size="15.5" font-weight="bold" fill="#fff">30</text>
<polygon points="727.9,773.5 733.2,783.2 744.3,782.9 738.5,792.4 744.3,801.9 733.2,801.6 727.9,811.3 722.6,801.6 711.5,801.9 717.3,792.4 711.5,782.9 722.6,783.2" fill="#111" stroke="none" stroke-width="1" /><text transform="translate(727.9,797.8) scale(0.8,1)" text-anchor="middle" font-size="15.5" font-weight="bold" fill="#fff">30</text>
<polygon points="292.2,1477.2 297.5,1486.9 308.6,1486.6 302.8,1496.1 308.6,1505.5 297.5,1505.3 292.2,1515.0 286.9,1505.3 275.8,1505.5 281.6,1496.1 275.8,1486.6 286.9,1486.9" fill="#111" stroke="none" stroke-width="1" /><text transform="translate(292.2,1501.5) scale(0.8,1)" text-anchor="middle" font-size="15.5" font-weight="bold" fill="#fff">30</text>
<polygon points="63.1,813.1 75.7,820.4 75.7,835.0 63.1,842.3 50.5,835.0 50.5,820.4" fill="#111" stroke="#111" stroke-width="1.5" stroke-linejoin="round"/><text x="63.1" y="833.5" text-anchor="middle" font-size="16.5" font-weight="bold" fill="#fff">5</text>
<polygon points="292.2,1524.7 305.5,1532.4 305.5,1547.8 292.2,1555.5 278.9,1547.8 278.9,1532.4" fill="#111" stroke="#111" stroke-width="1.5" stroke-linejoin="round"/><text x="292.2" y="1545.9" text-anchor="middle" font-size="16.5" font-weight="bold" fill="#fff">5</text>
<rect x="7.2" y="634.5" width="29" height="28" rx="4.5" fill="#fff" stroke="#666" stroke-width="2.2"/><text x="12.2" y="646.5" font-size="7.5" font-weight="bold" fill="#555">TL-</text><text x="12.2" y="656.5" font-size="7.5" font-weight="bold" fill="#555" textLength="19" lengthAdjust="spacingAndGlyphs">FC16</text>
<rect x="51.5" y="634.5" width="29" height="28" rx="4.5" fill="#fff" stroke="#666" stroke-width="2.2"/><text x="56.5" y="646.5" font-size="7.5" font-weight="bold" fill="#555">TL-</text><text x="56.5" y="656.5" font-size="7.5" font-weight="bold" fill="#555" textLength="19" lengthAdjust="spacingAndGlyphs">FC18</text>
<text x="41.5" y="657.0" font-size="19" font-weight="bold" text-anchor="start" fill="#333" >/</text>
<rect x="234.1" y="1571.8" width="29" height="28" rx="4.5" fill="#fff" stroke="#666" stroke-width="2.2"/><text x="239.1" y="1583.8" font-size="7.5" font-weight="bold" fill="#555">TL-</text><text x="239.1" y="1593.8" font-size="7.5" font-weight="bold" fill="#555" textLength="19" lengthAdjust="spacingAndGlyphs">FC16</text>
<rect x="279.0" y="1571.8" width="29" height="28" rx="4.5" fill="#fff" stroke="#666" stroke-width="2.2"/><text x="284.0" y="1583.8" font-size="7.5" font-weight="bold" fill="#555">TL-</text><text x="284.0" y="1593.8" font-size="7.5" font-weight="bold" fill="#555" textLength="19" lengthAdjust="spacingAndGlyphs">FC18</text>
<text x="268.2" y="1593.0" font-size="19" font-weight="bold" text-anchor="start" fill="#333" >/</text>
</g>
</svg>
</body></html>
